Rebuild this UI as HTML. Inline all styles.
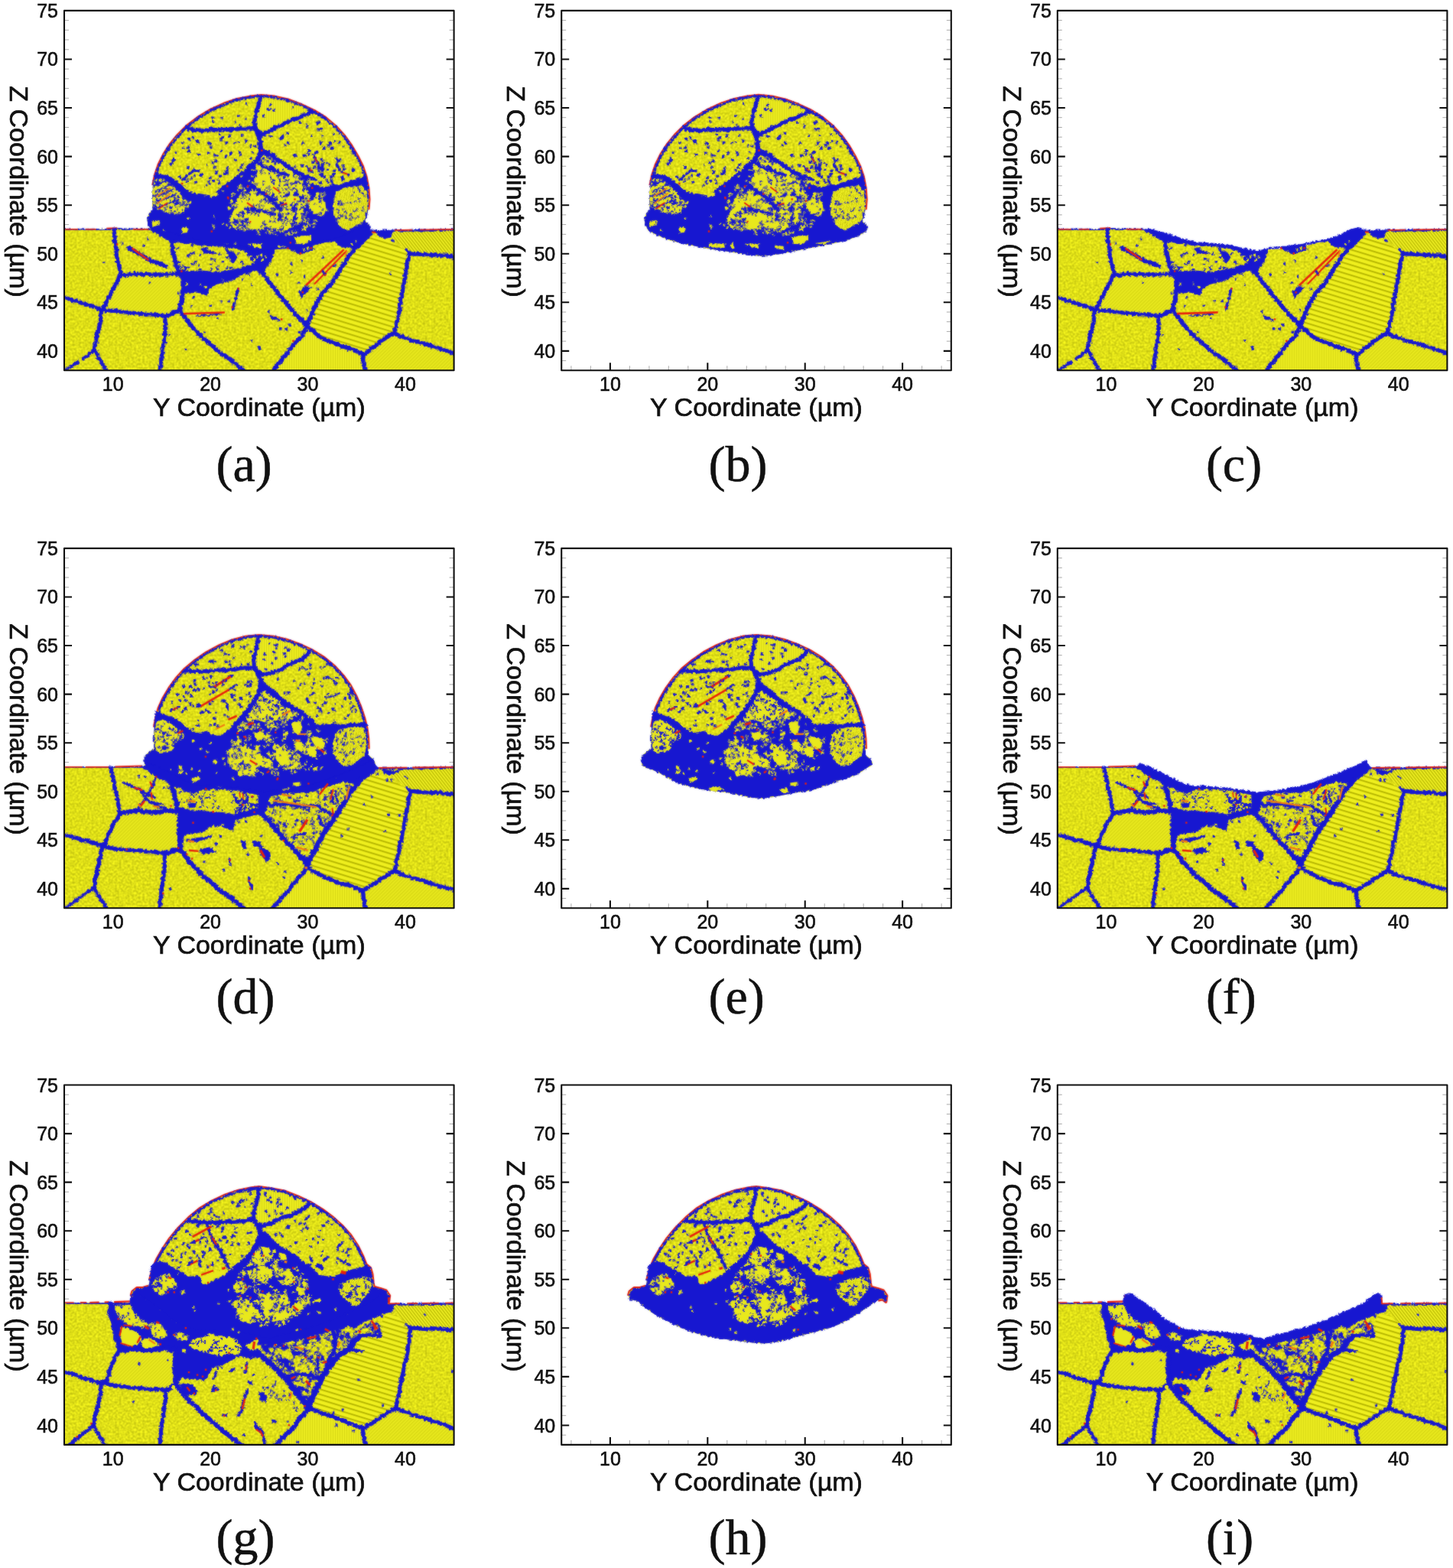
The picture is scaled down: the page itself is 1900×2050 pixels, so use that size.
<!DOCTYPE html>
<html lang="en"><head><meta charset="utf-8"><title>Figure</title>
<style>
html,body{margin:0;padding:0;background:#fff}
body{width:1900px;height:2050px;overflow:hidden}
svg{display:block}
.tk{font-family:"Liberation Sans",Arial,sans-serif;font-size:25px;fill:#111;stroke:#111;stroke-width:.6px}
.ax{font-family:"Liberation Sans",Arial,sans-serif;font-size:34px;fill:#111;stroke:#111;stroke-width:.7px}
.cap{font-family:"Liberation Serif","Times New Roman",serif;font-size:66px;fill:#111;stroke:#111;stroke-width:.5px}
.tM{stroke:#111;stroke-width:2.1;fill:none}
.tm{stroke:#aaa;stroke-width:1;fill:none}
.fr{stroke:#111;stroke-width:2.1;fill:none;stroke-linejoin:round}
</style></head><body>
<svg width="1900" height="2050" viewBox="0 0 1900 2050">
<rect width="1900" height="2050" fill="#fff"/>

<defs>
<pattern id="py" width="4" height="4" patternUnits="userSpaceOnUse"><rect width="4" height="4" fill="#e8e81c"/><path d="M0 1h2M2 3h2" stroke="#d0d010" stroke-width="1"/><path d="M2 1h2M0 3h2" stroke="#f2f228" stroke-width="1"/></pattern>
<pattern id="ps1" width="40" height="6.4" patternUnits="userSpaceOnUse" patternTransform="rotate(17)"><rect width="40" height="6.4" fill="#f0f01e"/><rect y="0" width="40" height="2" fill="#b4b400"/></pattern>
<pattern id="ps2" width="3.2" height="40" patternUnits="userSpaceOnUse" patternTransform="rotate(-38)"><rect width="3.2" height="40" fill="#f0f024"/><rect width="1.4" height="40" fill="#bcbc04"/></pattern>
<pattern id="ps3" width="3.2" height="40" patternUnits="userSpaceOnUse" patternTransform="rotate(45)"><rect width="3.2" height="40" fill="#e9e91e"/><rect width="1.2" height="40" fill="#d6d612"/></pattern>
<pattern id="ps4" width="3" height="40" patternUnits="userSpaceOnUse"><rect width="3" height="40" fill="#ecec20"/><rect width="1.1" height="40" fill="#d8d814"/></pattern>
<pattern id="ps5" width="3" height="40" patternUnits="userSpaceOnUse" patternTransform="rotate(12)"><rect width="3" height="40" fill="#eeee22"/><rect width="1.1" height="40" fill="#c8c80e"/></pattern>
<filter id="rough" x="-2%" y="-2%" width="104%" height="104%" color-interpolation-filters="sRGB"><feTurbulence type="fractalNoise" baseFrequency="0.33" numOctaves="2" seed="7" result="n"/><feDisplacementMap in="SourceGraphic" in2="n" scale="5" xChannelSelector="R" yChannelSelector="G"/></filter>
<filter id="ytex" x="0" y="0" width="100%" height="100%" color-interpolation-filters="sRGB"><feTurbulence type="fractalNoise" baseFrequency="0.36" numOctaves="1" seed="11" result="n"/><feColorMatrix in="n" type="matrix" values="0.42 0 0 0 0.665  0.42 0 0 0 0.665  0.1 0 0 0 0.04  0 0 0 0 1" result="c"/><feComposite in="c" in2="SourceGraphic" operator="in"/></filter>
<filter id="soft" filterUnits="userSpaceOnUse" x="-5" y="-5" width="519.6" height="480.4" color-interpolation-filters="sRGB"><feGaussianBlur stdDeviation="0.8" result="b"/><feComposite in="SourceGraphic" in2="b" operator="arithmetic" k1="0" k2="0.55" k3="0.45" k4="0"/></filter>
<clipPath id="cp"><rect x="0" y="0" width="509.6" height="470.4"/></clipPath>
<g id="s1">
<path fill="#e8e81c" filter="url(#ytex)" d="M-0.5 285.8L55.4 285.8L62.3 283.9L72 285.2L113.4 285.8L124.4 288.8L138.2 292.1L152 296.3L165.8 301.1L179.6 304.6L193.4 305.7L207.2 306.6L221 308L234.8 310.8L248.6 314.2L255.2 315.6L255.2 316L266.2 315.3L277.3 312L289.7 311.6L303.5 309.9L317.3 307.9L327 306.5L338 303.7L351.8 301.7L360.1 299.6L372.5 293.4L382.1 288.6L393.2 285.4L400.1 287.2L402.2 287.5L420.8 287.5L448.4 286.9L476 286.5L511.9 285.8L511.9 471.8L-0.5 471.8Z"/>
<path fill="url(#ps1)" d="M320.1 412.5L329.7 387.6L340.8 369.7L354.6 353.1L368.4 331.1L379.4 314.5L390.4 303.5L402.8 295.2L420.8 297.9L448.4 314.5L450.5 332.4L445.6 349L441.5 369.7L437.3 397.3L431.1 419.4L420.8 426.3L407 435.9L391.8 446.3L379.4 442.8L358.7 435.9L338 427.6Z"/>
<path fill="url(#ps2)" d="M420.8 288.3L510.2 286.2L510.2 320L489.8 317.9L469.1 317.3L452.5 315.2L447 311.7L429.1 297.9Z"/>
<path fill="url(#ps3)" d="M393.2 449.7L407 438.7L420.8 429L431.1 422.8L448.4 430.4L469.1 435.9L489.8 442.8L510.2 449.7L510.2 470.4L394.6 470.4Z"/>
<path fill="url(#ps4)" d="M315.9 416.6L338 430.4L358.7 438.7L379.4 445.6L390.4 450.4L389.7 459.4L391.8 470.4L275.9 470.4L289.7 451.1L300.7 437.3L310.4 427.6Z"/>
<path fill="url(#ps3)" d="M75.4 347.6L110.6 346.9L145.1 346.2L152 349L154.1 362.8L152 378L148.5 389L142.3 393.8L131.3 397L110.6 395.6L89.9 393.4L69.2 391.5L51.3 389L56.8 383.5L61.6 372.5L68.5 358.7Z"/>
<g filter="url(#rough)">
<path fill="none" stroke="#1717d0" stroke-width="2.6" stroke-linecap="round" stroke-linejoin="round" d="M0.2 286.2L3.3 286L6.3 286.1L9.4 286.5L12.5 286.2L15.5 286.3L18.6 286L21.7 286.2L24.7 285.9L27.8 286.4L30.9 286L33.9 286.4L37 286.1L40.1 286L43.1 286.2L46.2 286.5L49.3 286.3L52.3 286.4L55.3 286L58.8 285.1L62.3 284.3L65.5 284.9L68.7 285L72 285.2L75.1 285.5L78.3 285.9L81.5 285.7L84.7 285.9L87.9 286.1L91.1 285.8L94.2 285.7L97.4 286.2L100.6 285.9L103.8 285.9L107 286.3L110.2 285.9L113.4 286.2"/>
</g>
<path fill="none" stroke="#e8200c" stroke-width="1.6" stroke-linecap="butt" stroke-linejoin="round" d="M0.2 285.8L18.1 285.8M27.8 285.8L41.6 285.8"/>
<path fill="none" stroke="#e8200c" stroke-width="1.8" stroke-linecap="butt" stroke-linejoin="round" d="M55.4 284.7L69.2 284.1"/>
<path fill="none" stroke="#e8200c" stroke-width="1.6" stroke-linecap="butt" stroke-linejoin="round" d="M89.9 285.8L110.6 285.8"/>
<g filter="url(#rough)">
<path fill="#1717d0" d="M110.6 285.2L124.4 286.2L138.2 289.7L152 293.8L165.8 298.6L179.6 302.1L193.4 303.2L207.2 304.1L221 305.5L234.8 308.3L248.6 311.7L256.9 313.1L256.9 320L234.8 313.8L221 310.6L207.2 308.7L193.4 307.9L179.6 307.6L165.8 305.1L152 303.7L143.7 302.9L138.2 301L131.3 299.3L124.4 293.8L114.7 288.6Z"/>
<path fill="none" stroke="#1717d0" stroke-width="5.2" stroke-linecap="round" stroke-linejoin="round" d="M65.1 286.2L65 289.8L65.8 293.4L66.2 297L65.3 300.8L66.8 304.1L66.9 307.6L67.9 311L68.3 314.4L68.1 317.9L68.6 321.2L69.7 324.4L69.6 327.8L70.4 331.1L72 334.4L72.4 337.9L73.4 341.3L74 344.9M74 345.5L77.2 345.3L80.4 345.7L83.5 345.2L86.7 344.8L89.9 344.5L93.3 344.6L96.8 344.4L100.2 344.2L103.7 345.1L107.1 344.5L110.6 344.5L114 345.3L117.5 344.9L120.9 345.1L124.4 345.1L127.8 345.4L131.3 344.6L134.8 345.3L138.2 344.7L141.6 343.8L145 344.3L149.2 345.5L153.4 346.2M74 345.5L71.9 347.8L70.8 350.7L69.9 353.6L68.4 356.3L66.3 358.6L65.5 361.6L63.7 364.2L61.8 366.7L61 369.7L60.1 372.7L58.4 375.2L56.7 377.8L55.9 380.7L54.4 383.3L52.7 386.1L50.6 388.6L48.5 391.1M48.5 391.1L45.1 389.6L41.7 388.1L38.4 386.4L34.6 385.7L31.2 384.5L27.7 383.9L24.4 382.3L20.8 381.6L17.8 380.4L14.7 379.3L11.4 378.8L8.3 377.9L5.4 376.8L2.6 375.2L-0.5 374.9M48.5 391.1L48.6 394.5L47.8 397.8L47.3 401.1L47.7 404.5L47.3 407.8L46.3 411.1L45.7 414.6L44.7 418L43.3 421.3L42.9 424.9L41.9 427.9L42.1 431.1L41.4 434.2L40.5 437.3L39.4 440.3L39.5 443.5"/>
<path fill="none" stroke="#1717d0" stroke-width="4.1" stroke-linecap="round" stroke-linejoin="round" d="M39.5 443.5L36.6 446.1L33.2 448.2L30.7 451.4L27.3 452.8L24.3 455M18.1 458.7L15.1 461.2L11.6 463.2L8.8 466.1L5.7 467.3L2.8 468.7L0.2 470.7"/>
<path fill="none" stroke="#1717d0" stroke-width="4.6" stroke-linecap="round" stroke-linejoin="round" d="M39.5 443.5L41.7 446.1L42.9 449.2L43.7 452.6L45.5 455.4L47.7 457.6L48.8 460.5L50.2 463.2L51.8 465.8L53.3 468.4L55.4 470.7"/>
<path fill="none" stroke="#1717d0" stroke-width="5.2" stroke-linecap="round" stroke-linejoin="round" d="M48.5 391.1L52 391.1L55.4 392.2L58.8 392.3L62.3 392.6L65.8 392.1L69.3 392.6L72.6 393.8L76.1 393.5L79.6 393.8L83 394.4L86.4 395.4L89.9 395.2L93.4 395.4L96.8 396L100.2 396.5L103.7 396.6L107.1 397.4L110.6 396.9L113.8 396.9L116.9 397.3L120 398.3L123.2 398.5L126.4 398.4L129.5 398.9L132.7 398.9M132.7 398.9L132.4 402.1L131.8 405.3L132.6 408.5L131.9 411.6L132.7 414.8L132.6 418L131.4 421.4L131.7 424.9L131.4 428.4L131.3 431.9L129.7 435.2L129.5 438.6L129.1 442.1L128.4 445.5L128 449L127.3 452.4L127 455.9L126.7 459.4L126.7 463.2L124.9 466.8L125.1 470.7"/>
<path fill="none" stroke="#1717d0" stroke-width="5.5" stroke-linecap="round" stroke-linejoin="round" d="M132.7 398.9L136.4 397.9L140 396.5L143.3 394.7L147.5 393.3L150.6 390.4"/>
<path fill="none" stroke="#1717d0" stroke-width="6.0" stroke-linecap="round" stroke-linejoin="round" d="M150.6 390.4L151.6 387.3L151.9 384.1L152.9 381L154.5 378L154 374.9L154.6 371.9L154.6 368.8L155.7 365.8L156.2 362.8L156.3 359.7L155.5 356.7L155.2 353.7L155.7 350.6L154.7 347.6"/>
<path fill="none" stroke="#1717d0" stroke-width="5.2" stroke-linecap="round" stroke-linejoin="round" d="M150.6 390.4L152.9 392.6L154 395.6L155.7 398.2L157.7 400.6L160 402.8L161 406L163.4 407.9L165.5 410.2L167 412.9L168.8 415.4L171.3 417.3L173.1 419.8L175.1 422.1L177.7 423.8L179.7 426.2L182 428.2L184.1 430.3L186.8 431.8L189.2 433.8L190.8 436.6L193.8 437.8L195.7 440.2L197.8 442.5L200.3 444.2L202.7 446.4L205.1 448.5L208.1 449.8L211 451.3L213.3 453.6L216.1 455.2L218.3 457.6L220.9 459.5L223.7 461.7L226.7 463.7L228.9 466.7L232.1 468.3L234.8 470.7"/>
<path fill="none" stroke="#1717d0" stroke-width="5.5" stroke-linecap="round" stroke-linejoin="round" d="M153.4 346.2L151.8 343.3L149.6 340.9L148.6 337.7L147.1 335.1L145.3 332L145 328.6L144.9 325.1L144.1 321.9L142.4 318.7L142.1 315.4L141.4 312.1L141.3 308.7L141.3 305.3L140.3 302.1"/>
<path fill="#1717d0" d="M149.2 338L165.8 341L179.6 339.6L200.3 341.7L221 338.2L241.7 332.7L256.9 325.5L256.9 338L234.8 344.9L215.5 354.5L200.3 357.5L190.6 363.1L186.5 372.7L179.6 370L172.7 368.6L158.9 370L154.7 358.7L152 347.6Z"/>
<path fill="#e8e81c" d="M158.9 355.9h2.8v2.8h-2.8zM176.8 355.9h2.8v2.8h-2.8zM183.7 360h2.8v2.8h-2.8zM205.8 350.4h2.8v2.8h-2.8z"/>
<path fill="none" stroke="#1717d0" stroke-width="5.5" stroke-linecap="round" stroke-linejoin="round" d="M84.4 310.1L87.5 311.9L90.6 313.7L93.8 315.3L96.7 317.4L99.7 318.6L102.3 320.6L105.2 322.1L107.7 324.1L110.7 325.3L113.9 327.3L117.5 328.2L121 329.6L124.3 331.3L128.6 332.3L132.7 333.8"/>
</g>
<path fill="none" stroke="#e8200c" stroke-width="2.4" stroke-linecap="butt" stroke-linejoin="round" d="M88.5 310.6L110.6 326.2"/>
<g filter="url(#rough)">
<path fill="none" stroke="#1717d0" stroke-width="2.3" stroke-linecap="round" stroke-linejoin="round" d="M172.7 399.4L175.9 399L179 398.8L182.2 398.5L185.4 398.1L188.6 398.4L191.7 397.8L194.9 397.5L198.1 397.1L201.3 397.2L204.4 396.9"/>
</g>
<path fill="none" stroke="#e8200c" stroke-width="2.6" stroke-linecap="butt" stroke-linejoin="round" d="M156.1 396.2L209.9 394.5"/>
<g filter="url(#rough)">
<path fill="none" stroke="#1717d0" stroke-width="3.3" stroke-linecap="round" stroke-linejoin="round" d="M227.9 362.8L226.8 365.8L226 368.8L225.4 371.9L224.9 375L224 378.1L222.8 381.5L221.6 384.9L220.5 388.3L219.6 391.8"/>
</g>
<path fill="#e8200c" d="M226.7 362.3h2.4v2.4h-2.4zM218.4 386.4h2.4v2.4h-2.4zM192.2 316.1h2.4v2.4h-2.4zM152.2 339.5h2.4v2.4h-2.4zM68 304.3h2.4v2.4h-2.4z"/>
<g filter="url(#rough)">
<path fill="#1717d0" d="M211.8 316.3h6.9v2.3h-6.9zM237.1 316.3h4.6v2.3h-4.6zM177.3 318.6h2.3v2.3h-2.3zM218.7 318.6h2.3v2.3h-2.3zM239.4 318.6h2.3v2.3h-2.3zM248.6 318.6h6.9v2.3h-6.9zM211.8 320.9h9.2v2.3h-9.2zM223.3 320.9h2.3v2.3h-2.3zM246.3 320.9h9.2v2.3h-9.2zM191.1 323.2h4.6v2.3h-4.6zM244 323.2h11.5v2.3h-11.5zM195.7 325.5h2.3v2.3h-2.3zM246.3 325.5h2.3v2.3h-2.3zM253.2 325.5h2.3v2.3h-2.3zM147.4 327.8h4.6v2.3h-4.6zM170.4 327.8h2.3v2.3h-2.3zM232.5 327.8h2.3v2.3h-2.3zM165.8 330.1h4.6v2.3h-4.6zM191.1 330.1h2.3v2.3h-2.3zM232.5 330.1h2.3v2.3h-2.3zM149.7 332.4h2.3v2.3h-2.3zM154.3 332.4h2.3v2.3h-2.3zM175 332.4h2.3v2.3h-2.3zM200.3 332.4h2.3v2.3h-2.3zM152 334.7h2.3v2.3h-2.3zM156.6 334.7h6.9v2.3h-6.9zM198 334.7h2.3v2.3h-2.3zM211.8 334.7h2.3v2.3h-2.3zM216.4 334.7h4.6v2.3h-4.6zM156.6 337h2.3v2.3h-2.3zM175 337h4.6v2.3h-4.6zM191.1 337h2.3v2.3h-2.3zM198 337h4.6v2.3h-4.6zM178.2 309.7L183.7 309L193.4 314.5L201.7 317.3L193.4 318.6L182.3 317.3Z"/>
<path fill="none" stroke="#1717d0" stroke-width="2.9" stroke-linecap="round" stroke-linejoin="round" d="M161.6 320.3L165.4 318.3L169.2 316.6"/>
<path fill="none" stroke="#1717d0" stroke-width="2.8" stroke-linecap="round" stroke-linejoin="round" d="M211.3 306.9L212.6 310.6L213.4 314.5"/>
<path fill="#1717d0" d="M212.7 314.5L221 314.5L226.5 322.8L221 331.1L216.8 325.5ZM234.8 314.5L243.1 313.1L255.2 318.6L255.2 331.1L245.8 328.3L240.3 321.4Z"/>
<path fill="#e8e81c" d="M236 315.8h3v3h-3zM241.6 319.9h3v3h-3zM247.1 324h3v3h-3zM233.3 321.3h3v3h-3zM251.2 319.9h3v3h-3z"/>
<path fill="#1717d0" d="M171.2 326.9h2.9v2.9h-2.9zM146.4 308.9h2.9v2.9h-2.9zM201.6 317.2h2.9v2.9h-2.9zM226.4 317.2h2.9v2.9h-2.9zM230.6 326.9h2.9v2.9h-2.9zM237.5 332.4h2.9v2.9h-2.9zM205.7 326.9h2.9v2.9h-2.9zM215.4 307.5h2.9v2.9h-2.9zM165.7 304.8h2.9v2.9h-2.9zM50.6 327.6h2.7v2.7h-2.7zM74.7 302.8h2.7v2.7h-2.7zM102.3 306.2h2.7v2.7h-2.7zM107.9 296.6h2.7v2.7h-2.7zM110.6 354.5h2.7v2.7h-2.7zM147.9 368.3h2.7v2.7h-2.7zM205.8 350.4h2.7v2.7h-2.7zM232 349.7h2.7v2.7h-2.7zM243.1 357.3h2.7v2.7h-2.7zM240.3 343.5h2.7v2.7h-2.7zM167.2 373.9h2.7v2.7h-2.7zM164.4 384.9h2.7v2.7h-2.7zM190.6 384.2h2.7v2.7h-2.7zM204.4 378.7h2.7v2.7h-2.7zM214.1 378.7h2.7v2.7h-2.7zM198.9 401.4h2.7v2.7h-2.7zM182.4 418.7h2.7v2.7h-2.7zM243.1 430.4h2.7v2.7h-2.7zM157.5 442.2h2.7v2.7h-2.7zM136.8 422.1h2.7v2.7h-2.7zM251.3 437.3L256.9 438.7L256.9 444.2ZM253.5 313.8L266.2 312.8L277.3 309.7L273.8 318.6L270.4 328.3L265.5 335.2L260.7 343.5L253.5 344.9Z"/>
<path fill="#e8e81c" d="M256.5 318.5h3v3h-3zM262 320.6h3v3h-3zM257.8 324h3v3h-3z"/>
<path fill="none" stroke="#1717d0" stroke-width="2.9" stroke-linecap="round" stroke-linejoin="round" d="M277.3 310.4L280.4 310.5L283.5 310.1L286.6 310.1L289.7 309.9L293.1 309.3L296.6 309.4L300.1 309.1L303.5 308.7L306.9 307.7L310.4 307.5L313.8 306.7L317.3 306.9L320.6 306.4L323.7 305.5L326.9 304.7L330.6 304.1L334.3 303.2L338 302.5L341.4 301.5L344.9 301.2L348.4 301.1L351.7 300.1L355.9 299.2L360.1 298.2"/>
<path fill="#1717d0" d="M289.7 309.8L324.2 306.2L327 312.4L317.3 316.2L307.6 319.5L300.7 314.8Z"/>
<path fill="#e8e81c" d="M311.6 310.8h3.2v3.2h-3.2zM317.1 309.4h3.2v3.2h-3.2z"/>
</g>
<path fill="#e8200c" d="M307.8 316.1h2.4v2.4h-2.4zM291.3 309.4h2.4v2.4h-2.4zM321.6 309.2h2.4v2.4h-2.4z"/>
<g filter="url(#rough)">
<path fill="#1717d0" d="M351.8 299.3L372.5 291L382.1 286.2L393.2 283L400.1 284.8L402.8 293.8L394.6 300.7L387.7 309L379.4 313.1L372.5 310.4L362.8 309.3L357.3 305.7Z"/>
<path fill="#e8e81c" d="M380.7 300h2.8v2.8h-2.8zM375.2 304.1h2.8v2.8h-2.8z"/>
<path fill="none" stroke="#1717d0" stroke-width="2.6" stroke-linecap="round" stroke-linejoin="round" d="M402.2 288L405.3 287.9L408.4 288.2L411.5 288.3L414.6 288L417.7 287.8L420.8 287.8L423.8 287.7L426.9 287.8L430 287.7L433 287.5L436.1 287.4L439.2 287.5L442.2 287.5L445.3 287.7L448.4 287.2L451.4 287.2L454.5 287.1L457.6 287.4L460.6 287.3L463.7 287.1L466.8 286.9L469.8 287.1L472.9 287L476 287.3L479.1 286.9L482.2 287.1L485.3 287.1L488.4 286.9L491.5 286.7L494.6 286.5L497.8 286.4L500.9 286.7L504 286.7L507.1 286.2L510.2 286.3"/>
</g>
<path fill="none" stroke="#e8200c" stroke-width="2" stroke-linecap="butt" stroke-linejoin="round" d="M402.2 289.4L408.4 289.9"/>
<path fill="none" stroke="#e8200c" stroke-width="1.6" stroke-linecap="butt" stroke-linejoin="round" d="M431.8 287L455.3 286.6M464.9 286.5L510.2 285.8"/>
<g filter="url(#rough)">
<path fill="#1717d0" d="M407 288.3L429.1 289L427.7 296.6L418 298.2L409.7 293.8ZM427.5 299.2h3.1v3.1h-3.1z"/>
<path fill="none" stroke="#1717d0" stroke-width="5.5" stroke-linecap="round" stroke-linejoin="round" d="M259.3 342.1L260.9 345.1L262.9 347.9L264.8 350.6L266.5 353.5L268.8 356.1L271.4 358.5L273.4 361.4L275.1 364.6L277.9 366.9L279.7 370L281.9 372.4L284.5 374.6L286.1 377.6L288.4 380L290.8 382.3L292.3 385.3L294.8 387.6L296.3 390.7L299.2 392.4L301.1 395.1L303 397.7L305.4 400L307.8 402.2L310.6 404L312.8 406.9L314.8 409.9L317.3 412.5M317.3 412.5L318.2 409.3L319.6 406.2L320.9 403.1L322.4 400.2L323.7 397.1L325.1 394.1L326 390.8L327.2 387.8L329.1 385.4L329.6 382.2L331.6 379.9L332.7 377L335.2 375.1L335.9 371.9L338.1 369.8L339.6 367L342.4 365.3L343.5 362.2L346.2 360.5L348.1 358.1L350.1 355.8L351.8 353.2L353.5 350.4L355.6 347.8L356.8 344.7L358.5 342L360.5 339.4L361.8 336.4L364 333.9L365.4 330.9L367.4 328.3L369.3 325.5L370.7 322.5L372.8 319.9L375 317.4L377 314.7L379.4 311.6L381.5 308.3L383.5 304.8"/>
<path fill="none" stroke="#1717d0" stroke-width="5.2" stroke-linecap="round" stroke-linejoin="round" d="M317.3 412.5L315.9 415.2L315 418.2L312.7 420.5L312 423.6L310.7 426.5L307.7 428.4L305.3 430.8L303 433.4L300.7 435.9L298.4 438.6L296 441.2L293.8 444L292.3 447.3L289.8 449.8L287.3 452.1L285.5 454.9L283.9 457.9L281 459.9L278.8 462.4L277.5 465.6L275.1 468L273.1 470.7M317.3 412.5L320.2 414.2L322.4 416.7L325.5 418.2L327.4 421L330 423.1L332.5 425.3L335.2 427.2L338.1 428.7L341.1 429.9L343.9 431.3L346.8 432.8L350 433.3L352.9 434.8L355.9 435.7L358.9 436.7L361.5 438.8L364.6 439.4L367.7 439.9L370.4 441.7L373.7 441.6L376.6 442.7L379.6 443.7L382.3 445.8L385.7 446.5L388.5 448.4L391.8 449"/>
<path fill="none" stroke="#1717d0" stroke-width="5.5" stroke-linecap="round" stroke-linejoin="round" d="M391.8 449L391 452.4L390.7 455.9L390.9 459.4L391.6 463.3L393.5 466.8L393.9 470.7"/>
<path fill="none" stroke="#1717d0" stroke-width="5.2" stroke-linecap="round" stroke-linejoin="round" d="M391.8 449L394.7 447.6L397.2 445.6L399.7 443.6L401.6 440.8L404.8 439.7L407.3 437.7L410.1 435.8L412.5 433.5L415.1 431.3L418 429.6L420.7 427.6L423 425.5L425.9 424.4L428.7 423.2L431.1 421.4M431.1 421.4L432 418.4L432.9 415.5L433.8 412.5L434.8 409.5L434.8 406.3L436.1 403.4L436.5 400.3L437.3 397.3L437.3 394.2L438.8 391.2L439 388.1L438.5 384.9L439.8 382L439.5 378.8L440.2 375.8L441.7 372.9L441.1 369.6L442.5 366.8L443 363.8L442.7 360.7L444 357.9L445 355L444.5 351.8L446.2 349.1L445.9 345.6L446.3 342.3L446.8 339L448.2 335.8L447.9 332.3L448.4 329.2L449.9 326.4L450.4 323.3L450.6 320.2L451.8 317.3M451.8 317.3L455.2 318L458.7 318.3L462.2 317.9L465.6 318.7L469.1 319.1L472.5 318.3L476 318.7L479.4 319.6L482.9 319.4L486.3 319.9L489.8 319.5L492.8 320.4L496.1 320L499.3 320.2L502.4 320.9L505.6 320.9L508.6 322.6L511.9 322.4"/>
<path fill="none" stroke="#1717d0" stroke-width="3.7" stroke-linecap="round" stroke-linejoin="round" d="M451.8 317.3L449.4 315.3L447.7 312.7"/>
<path fill="none" stroke="#1717d0" stroke-width="5.2" stroke-linecap="round" stroke-linejoin="round" d="M431.1 421.4L434.1 422.6L436.7 424.3L439.5 425.8L442.9 425.9L445.6 427.7L448.6 428.4L451.2 430.3L454.4 430.3L457.2 431.7L460 432.8L463.3 432.6L466 434.4L468.9 435L471.9 436L475 436.6L477.9 437.7L481.1 438.1L483.9 439.3L486.7 440.9L490 440.9L493.1 441.9L495.9 444.1L499.2 444.6L502.5 445.1L505.5 446.7L508.8 447.2L511.9 448.6"/>
<path fill="#1717d0" d="M313.2 404.2L320.1 405.6L320.7 413.8L315.9 416.6L311.8 411.1Z"/>
</g>
<path fill="none" stroke="#e8200c" stroke-width="2.6" stroke-linecap="butt" stroke-linejoin="round" d="M365.6 312.4L315.9 359.3"/>
<path fill="none" stroke="#e8200c" stroke-width="2.2" stroke-linecap="butt" stroke-linejoin="round" d="M369.7 313.4L327 357.5"/>
<path fill="none" stroke="#f07a10" stroke-width="1.6" stroke-linecap="butt" stroke-linejoin="round" d="M369 313.1L367.7 322.8"/>
<g filter="url(#rough)">
<path fill="#1717d0" d="M306.3 368.3L314.5 360L323.5 361.4L315.9 369.7L310.4 376.3Z"/>
<path fill="none" stroke="#1717d0" stroke-width="3.2" stroke-linecap="round" stroke-linejoin="round" d="M338 340.7L341.4 344.9"/>
</g>
<path fill="#e8200c" d="M340.2 344.3h2.4v2.4h-2.4zM298.2 430.6h2.4v2.4h-2.4zM283 402.3h2.4v2.4h-2.4zM310.6 367.1h2.4v2.4h-2.4z"/>
<g filter="url(#rough)">
<path fill="#1717d0" d="M308.9 326.1h3.1v3.1h-3.1zM295.1 329.5h3.1v3.1h-3.1zM295.1 340.6h3.1v3.1h-3.1zM277.1 343.3h3.1v3.1h-3.1zM313 346.1h3.1v3.1h-3.1zM336.5 321.2h3.1v3.1h-3.1zM351.6 332.3h3.1v3.1h-3.1zM305.4 354.4h3.1v3.1h-3.1zM329.6 362.6h3.1v3.1h-3.1zM315.8 390.2h3.1v3.1h-3.1zM265.4 392.3h3.1v3.1h-3.1zM424.8 342.6h3.1v3.1h-3.1zM268.3 398.7L274.5 399.4L282.8 404.2L281.4 406.3L271.8 403.5ZM288.5 414.7h3.7v3.7h-3.7zM293.3 409.2h3.7v3.7h-3.7zM280.9 414h3.7v3.7h-3.7zM305.8 418.9h3.7v3.7h-3.7zM253.3 439.6h3.7v3.7h-3.7z"/>
</g>
</g>
<g id="p1">
<path fill="none" stroke="#e8200c" stroke-width="3.8" stroke-linecap="butt" stroke-linejoin="round" d="M116.1 228.4L119 214.7L123.5 201.1L130.3 187.5L138.3 175L148.5 162.5L159.9 151.1L174.7 139.7L191.7 129.5L208.8 121.6L225.8 115.9L242.8 112.5L257.6 110.8L275.3 112.5L292.4 116.4L309.4 122.7L326.5 130.6L341.3 139.7L354.9 151.1L366.3 163.6L375.3 176.1L383.3 189.7L390.1 203.4L394.7 217L397.5 231.8L398.6 246.6L397.5 260.2"/>
<path fill="#e8e81c" filter="url(#ytex)" d="M257.6 110.8L275.3 112.5L292.4 116.4L309.4 122.7L326.5 130.6L341.3 139.7L354.9 151.1L366.3 163.6L375.3 176.1L383.3 189.7L390.1 203.4L394.7 217L397.5 231.8L398.6 246.6L397.5 260.2L395.8 269.3L393.5 275L399.2 280.6L400.3 285.2L396.9 289.7L389 294.3L377.6 298.8L366.3 302.2L354.9 304.5L332.2 309.1L309.4 313.6L286.7 318.1L264 321L252.6 320.4L237.2 318.1L214.4 314.7L191.7 311.3L174.7 307.9L157.6 304.5L140.6 300L123.5 293.1L113.3 287.5L109.3 279.5L108.2 271.6L111 264.7L115.6 260.2L115 254.5L115 243.1L116.1 228.4L119 214.7L123.5 201.1L130.3 187.5L138.3 175L148.5 162.5L159.9 151.1L174.7 139.7L191.7 129.5L208.8 121.6L225.8 115.9L242.8 112.5Z"/>
<path fill="url(#ps5)" d="M354.9 237.5L364 231.8L377.6 229.5L389 228.4L394.7 235.2L396.9 248.8L396.4 260.2L393.5 271.6L389 278.4L379.9 281.8L370.8 287.5L360.6 282.9L354.9 271.6L351.5 260.2L352 248.8Z"/>
<path fill="url(#ps4)" d="M258.8 115.9L294 119.3L325.8 132.9L294 145.4L265.6 156.8L251.9 154.5L253.1 135.2Z"/>
<g filter="url(#rough)">
<path fill="none" stroke="#1717d0" stroke-width="3.0" stroke-linecap="round" stroke-linejoin="round" d="M116.7 227.2L117.5 224.3L118.3 221.3L118.9 218.3L120.1 215.5L121.1 212L122.2 208.6L123.4 205.2L124.5 201.8L126 199.2L127.2 196.3L128.3 193.5L130 190.9L131.2 188.1L133.3 185.1L135 181.8L137.2 178.8L139.3 175.8L141.4 173.3L143.5 170.8L145.5 168.3L147.4 165.7L149.6 163.4L151.9 161L154.2 158.8L156.2 156.3L158.4 153.9L160.7 151.7L163.3 150L165.7 148L168.2 146.1L170.6 144.2L173.2 142.5L175.5 140.2L178.4 138.7L181.3 137.2L184.1 135.4L186.8 133.4L189.7 131.8L192.7 130.4L195.5 128.9L198.2 127.4L201.2 126.3L204.1 125.1L206.9 123.8L209.7 122.4L213.1 121.3L216.5 120L219.9 118.8L223.3 117.5L226.7 116.4L230.2 116.1L233.5 115L236.9 114.5L240.4 114.1L243.8 113.2L247 113L250.2 112.3L253.4 111.6L256.7 111.2L260.2 111.9L263.8 112L267.3 112.5L270.9 112.8L274.4 113.3L277.8 113.9L281.2 114.9L284.7 115.4L288.1 116.3L291.5 117.2L294.3 118.3L297.1 119.4L300.1 120L302.8 121.4L305.6 122.6L308.6 123.2L311.4 124.7L314.3 125.9L317.1 127.3L319.9 128.6L322.7 130.1L325.5 131.4L328.6 133L331.5 135L334.5 136.7L337.5 138.4L340.3 140.4L342.9 142.9L345.6 145.2L348.4 147.3L351.3 149.5L354.2 151.6L356.3 154.3L358.4 156.9L360.9 159.2L363.1 161.7L365.5 164.2L367.1 166.8L369.2 169.2L370.6 171.9L372.6 174.3L374.3 176.8L375.8 179.6L377.7 182.2L379.2 185L380.9 187.7L382.6 190.3L383.9 193.1L385.3 195.8L386.3 198.7L387.6 201.4L388.9 204.1L390.3 207.5L391.3 210.9L392.5 214.3L393.8 217.7L394.1 221.3L394.9 224.8L395.9 228.2L396.3 231.8"/>
<path fill="#1717d0" d="M117.8 213.6L134.9 214.7L146.3 221.6L155.3 229.5L163.3 236.3L174.7 239.7L189.4 242L197.4 238.6L203.1 231.8L212.2 226.1L220.1 220.4L225.8 214.7L234.9 209.1L240.6 203.4L247.4 198.8L253.1 192L258.8 182.9L265.6 185.2L273.5 189.7L282.6 197.7L291.7 203.4L300.8 209.1L310.8 214.7L316.3 220.4L326.5 227.2L337.8 230.6L349.2 229.5L360.6 229.5L371.9 225L383.3 221.6L391.3 219.3L395.1 219.3L397.5 231.8L398.6 246.6L397.5 260.2L395.8 269.3L393.5 275L399.2 280.6L400.3 285.2L396.9 289.7L389 294.3L377.6 298.8L366.3 302.2L354.9 304.5L332.2 309.1L309.4 313.6L286.7 318.1L264 321L252.6 320.4L237.2 318.1L214.4 314.7L191.7 311.3L174.7 307.9L157.6 304.5L140.6 300L123.5 293.1L113.3 287.5L109.3 279.5L108.2 271.6L111 264.7L115.6 260.2L115 254.5L115 243.1L116.1 228.4Z"/>
<path fill="#e8e81c" d="M117.8 220.4L129.2 219.3L138.3 226.1L148.5 235.2L154.2 243.1L162.2 250L163.3 256.8L155.3 263.6L146.3 267L138.3 264.7L130.3 263.6L123.5 260.2L116.7 256.8L115.6 237.5ZM249.2 198.8L259.4 188.6L269.7 192L281 198.8L292.4 206.8L303.8 214.7L311.7 223.8L318.5 237.5L316.3 248.8L314 262.5L309.4 273.8L298.1 282.9L284.4 289.7L269.7 287.5L252.6 285.2L235.6 287.5L221.9 285.2L215.1 275L221.9 260.2L225.3 247.7L233.3 235.2L241.3 228.4L250.3 220.4L252.6 209.1ZM317.4 245.4L326.5 248.8L341.3 250L342.4 260.2L337.8 269.3L326.5 265.9L320.8 257.9ZM354.9 237.5L364 231.8L377.6 229.5L389 228.4L394.7 235.2L396.9 248.8L396.4 260.2L393.5 271.6L389 278.4L379.9 281.8L370.8 287.5L360.6 282.9L354.9 271.6L351.5 260.2L352 248.8ZM300.3 296.6L309.4 294.3L323.1 294.3L321.9 301.1L311.7 305.6L303.8 304.5ZM245.8 304.5L259.4 304.5L257.2 310.2L246.9 309.1ZM278.8 306.8L290.1 307.9L291.3 312.5L281 311.3ZM328.8 304.5L352.6 301.1L343.5 305.1ZM114.4 276.1L123.5 273.8L124.7 279.5L115.6 282.9ZM153.1 284.1L161 282.9L162.2 289.7L154.2 290.9ZM192.8 278.4L197.4 282.9L195.1 286.3ZM192.8 304.5L214.4 304.5L213.3 310.2L192.8 309.1ZM221.3 303.4L224.7 303.4L225.2 311.3L221.8 311.3ZM190.6 240.9L199.7 237.5L200.8 242L191.7 244.3ZM206.5 235.2L209.9 234.1L208.8 238.6Z"/>
<path fill="url(#ps5)" d="M355.5 238L364 232.3L377.6 230.1L389 228.9L394.1 235.2L396.4 248.8L395.8 260.2L393 271.6L389 277.8L379.9 281.2L370.8 286.9L361.1 282.9L355.5 271.6L352 260.2L352.6 248.8Z"/>
<path fill="#1717d0" d="M265.1 190.6h2v2h-2zM255.1 192.6h2v2h-2zM259.1 192.6h2v2h-2zM267.1 192.6h4v2h-4zM257.1 194.6h2v2h-2zM261.1 194.6h6v2h-6zM271.1 194.6h4v2h-4zM251.1 196.6h2v2h-2zM255.1 196.6h6v2h-6zM263.1 196.6h4v2h-4zM271.1 196.6h8v2h-8zM257.1 198.6h2v2h-2zM275.1 198.6h2v2h-2zM279.1 198.6h2v2h-2zM275.1 200.6h2v2h-2zM259.1 204.6h2v2h-2zM257.1 206.6h2v2h-2zM279.1 206.6h2v2h-2zM285.1 206.6h2v2h-2zM255.1 208.6h6v2h-6zM285.1 208.6h4v2h-4zM255.1 210.6h4v2h-4zM261.1 210.6h2v2h-2zM287.1 210.6h2v2h-2zM291.1 210.6h2v2h-2zM257.1 212.6h2v2h-2zM267.1 212.6h2v2h-2zM283.1 212.6h2v2h-2zM287.1 212.6h4v2h-4zM299.1 212.6h2v2h-2zM277.1 214.6h6v2h-6zM299.1 214.6h2v2h-2zM269.1 216.6h2v2h-2zM279.1 216.6h2v2h-2zM287.1 216.6h2v2h-2zM299.1 216.6h6v2h-6zM269.1 218.6h2v2h-2zM279.1 218.6h4v2h-4zM287.1 218.6h2v2h-2zM301.1 218.6h2v2h-2zM271.1 220.6h4v2h-4zM281.1 220.6h2v2h-2zM289.1 220.6h6v2h-6zM307.1 220.6h2v2h-2zM247.1 222.6h2v2h-2zM259.1 222.6h4v2h-4zM271.1 222.6h2v2h-2zM281.1 222.6h2v2h-2zM285.1 222.6h4v2h-4zM291.1 222.6h2v2h-2zM301.1 222.6h6v2h-6zM251.1 224.6h4v2h-4zM273.1 224.6h2v2h-2zM297.1 224.6h12v2h-12zM311.1 224.6h2v2h-2zM249.1 226.6h2v2h-2zM259.1 226.6h2v2h-2zM273.1 226.6h2v2h-2zM281.1 226.6h2v2h-2zM287.1 226.6h6v2h-6zM295.1 226.6h6v2h-6zM311.1 226.6h2v2h-2zM241.1 228.6h4v2h-4zM247.1 228.6h4v2h-4zM265.1 228.6h4v2h-4zM281.1 228.6h2v2h-2zM285.1 228.6h2v2h-2zM295.1 228.6h2v2h-2zM301.1 228.6h2v2h-2zM311.1 228.6h4v2h-4zM237.1 230.6h18v2h-18zM263.1 230.6h8v2h-8zM279.1 230.6h2v2h-2zM283.1 230.6h2v2h-2zM293.1 230.6h2v2h-2zM297.1 230.6h4v2h-4zM305.1 230.6h2v2h-2zM311.1 230.6h4v2h-4zM235.1 232.6h22v2h-22zM267.1 232.6h4v2h-4zM285.1 232.6h2v2h-2zM289.1 232.6h4v2h-4zM295.1 232.6h14v2h-14zM311.1 232.6h4v2h-4zM237.1 234.6h8v2h-8zM247.1 234.6h10v2h-10zM261.1 234.6h2v2h-2zM265.1 234.6h4v2h-4zM279.1 234.6h2v2h-2zM285.1 234.6h2v2h-2zM289.1 234.6h4v2h-4zM303.1 234.6h4v2h-4zM311.1 234.6h2v2h-2zM231.1 236.6h12v2h-12zM249.1 236.6h8v2h-8zM263.1 236.6h2v2h-2zM271.1 236.6h2v2h-2zM281.1 236.6h2v2h-2zM287.1 236.6h2v2h-2zM293.1 236.6h2v2h-2zM301.1 236.6h4v2h-4zM231.1 238.6h8v2h-8zM241.1 238.6h2v2h-2zM247.1 238.6h2v2h-2zM251.1 238.6h6v2h-6zM259.1 238.6h2v2h-2zM267.1 238.6h2v2h-2zM271.1 238.6h4v2h-4zM287.1 238.6h8v2h-8zM299.1 238.6h8v2h-8zM231.1 240.6h8v2h-8zM241.1 240.6h2v2h-2zM251.1 240.6h2v2h-2zM269.1 240.6h4v2h-4zM287.1 240.6h8v2h-8zM299.1 240.6h8v2h-8zM311.1 240.6h4v2h-4zM227.1 242.6h2v2h-2zM233.1 242.6h2v2h-2zM237.1 242.6h2v2h-2zM263.1 242.6h4v2h-4zM269.1 242.6h4v2h-4zM277.1 242.6h2v2h-2zM283.1 242.6h10v2h-10zM307.1 242.6h6v2h-6zM231.1 244.6h2v2h-2zM235.1 244.6h2v2h-2zM241.1 244.6h2v2h-2zM261.1 244.6h2v2h-2zM265.1 244.6h14v2h-14zM287.1 244.6h2v2h-2zM307.1 244.6h6v2h-6zM315.1 244.6h2v2h-2zM239.1 246.6h2v2h-2zM245.1 246.6h2v2h-2zM257.1 246.6h2v2h-2zM261.1 246.6h8v2h-8zM273.1 246.6h6v2h-6zM287.1 246.6h2v2h-2zM307.1 246.6h4v2h-4zM313.1 246.6h4v2h-4zM231.1 248.6h2v2h-2zM255.1 248.6h2v2h-2zM263.1 248.6h2v2h-2zM267.1 248.6h6v2h-6zM285.1 248.6h2v2h-2zM299.1 248.6h2v2h-2zM303.1 248.6h14v2h-14zM255.1 250.6h2v2h-2zM261.1 250.6h2v2h-2zM267.1 250.6h2v2h-2zM277.1 250.6h2v2h-2zM281.1 250.6h6v2h-6zM297.1 250.6h4v2h-4zM303.1 250.6h2v2h-2zM247.1 252.6h2v2h-2zM251.1 252.6h4v2h-4zM257.1 252.6h2v2h-2zM279.1 252.6h12v2h-12zM295.1 252.6h4v2h-4zM301.1 252.6h6v2h-6zM309.1 252.6h2v2h-2zM225.1 254.6h2v2h-2zM239.1 254.6h2v2h-2zM245.1 254.6h2v2h-2zM251.1 254.6h2v2h-2zM255.1 254.6h6v2h-6zM279.1 254.6h4v2h-4zM285.1 254.6h2v2h-2zM291.1 254.6h2v2h-2zM295.1 254.6h8v2h-8zM311.1 254.6h2v2h-2zM223.1 256.6h2v2h-2zM235.1 256.6h2v2h-2zM239.1 256.6h10v2h-10zM253.1 256.6h4v2h-4zM259.1 256.6h2v2h-2zM271.1 256.6h4v2h-4zM279.1 256.6h6v2h-6zM287.1 256.6h4v2h-4zM297.1 256.6h8v2h-8zM309.1 256.6h6v2h-6zM235.1 258.6h6v2h-6zM243.1 258.6h8v2h-8zM261.1 258.6h6v2h-6zM269.1 258.6h12v2h-12zM283.1 258.6h4v2h-4zM289.1 258.6h16v2h-16zM307.1 258.6h2v2h-2zM313.1 258.6h2v2h-2zM239.1 260.6h18v2h-18zM261.1 260.6h6v2h-6zM271.1 260.6h6v2h-6zM279.1 260.6h4v2h-4zM297.1 260.6h4v2h-4zM303.1 260.6h2v2h-2zM313.1 260.6h2v2h-2zM229.1 262.6h6v2h-6zM239.1 262.6h6v2h-6zM247.1 262.6h2v2h-2zM251.1 262.6h6v2h-6zM265.1 262.6h2v2h-2zM269.1 262.6h4v2h-4zM275.1 262.6h2v2h-2zM279.1 262.6h4v2h-4zM299.1 262.6h4v2h-4zM227.1 264.6h2v2h-2zM231.1 264.6h6v2h-6zM239.1 264.6h2v2h-2zM243.1 264.6h4v2h-4zM249.1 264.6h2v2h-2zM265.1 264.6h2v2h-2zM269.1 264.6h8v2h-8zM281.1 264.6h2v2h-2zM285.1 264.6h2v2h-2zM289.1 264.6h6v2h-6zM297.1 264.6h2v2h-2zM301.1 264.6h2v2h-2zM309.1 264.6h4v2h-4zM225.1 266.6h6v2h-6zM233.1 266.6h2v2h-2zM253.1 266.6h2v2h-2zM269.1 266.6h2v2h-2zM279.1 266.6h6v2h-6zM301.1 266.6h4v2h-4zM227.1 268.6h2v2h-2zM231.1 268.6h4v2h-4zM267.1 268.6h4v2h-4zM273.1 268.6h2v2h-2zM279.1 268.6h8v2h-8zM289.1 268.6h2v2h-2zM299.1 268.6h4v2h-4zM221.1 270.6h8v2h-8zM231.1 270.6h2v2h-2zM235.1 270.6h6v2h-6zM275.1 270.6h2v2h-2zM279.1 270.6h4v2h-4zM289.1 270.6h4v2h-4zM299.1 270.6h6v2h-6zM215.1 272.6h2v2h-2zM221.1 272.6h6v2h-6zM229.1 272.6h12v2h-12zM273.1 272.6h2v2h-2zM279.1 272.6h10v2h-10zM295.1 272.6h10v2h-10zM221.1 274.6h18v2h-18zM261.1 274.6h2v2h-2zM267.1 274.6h4v2h-4zM273.1 274.6h4v2h-4zM279.1 274.6h2v2h-2zM283.1 274.6h2v2h-2zM287.1 274.6h2v2h-2zM291.1 274.6h4v2h-4zM299.1 274.6h2v2h-2zM219.1 276.6h24v2h-24zM259.1 276.6h2v2h-2zM271.1 276.6h2v2h-2zM279.1 276.6h2v2h-2zM283.1 276.6h4v2h-4zM295.1 276.6h10v2h-10zM223.1 278.6h2v2h-2zM227.1 278.6h14v2h-14zM259.1 278.6h6v2h-6zM285.1 278.6h2v2h-2zM289.1 278.6h2v2h-2zM295.1 278.6h6v2h-6zM229.1 280.6h8v2h-8zM239.1 280.6h4v2h-4zM257.1 280.6h2v2h-2zM261.1 280.6h2v2h-2zM283.1 280.6h2v2h-2zM297.1 280.6h2v2h-2zM225.1 282.6h4v2h-4zM231.1 282.6h10v2h-10zM257.1 282.6h2v2h-2zM261.1 282.6h6v2h-6zM269.1 282.6h2v2h-2zM285.1 282.6h2v2h-2zM229.1 284.6h2v2h-2zM233.1 284.6h2v2h-2zM239.1 284.6h4v2h-4zM257.1 284.6h2v2h-2zM261.1 284.6h16v2h-16zM281.1 284.6h6v2h-6zM273.1 286.6h4v2h-4zM279.1 286.6h2v2h-2zM283.1 286.6h2v2h-2zM283.1 288.6h2v2h-2zM121.6 219.3h2v2h-2zM127.6 219.3h2v2h-2zM117.6 221.3h2v2h-2zM121.6 221.3h2v2h-2zM127.6 221.3h2v2h-2zM131.6 221.3h2v2h-2zM117.6 223.3h8v2h-8zM131.6 223.3h2v2h-2zM119.6 225.3h4v2h-4zM135.6 225.3h2v2h-2zM121.6 227.3h4v2h-4zM137.6 227.3h2v2h-2zM129.6 229.3h4v2h-4zM141.6 229.3h2v2h-2zM127.6 231.3h2v2h-2zM131.6 231.3h2v2h-2zM121.6 233.3h2v2h-2zM127.6 233.3h2v2h-2zM131.6 233.3h4v2h-4zM137.6 233.3h2v2h-2zM145.6 233.3h2v2h-2zM119.6 235.3h2v2h-2zM123.6 235.3h2v2h-2zM127.6 235.3h4v2h-4zM139.6 235.3h2v2h-2zM129.6 237.3h2v2h-2zM133.6 237.3h2v2h-2zM145.6 237.3h2v2h-2zM119.6 239.3h4v2h-4zM129.6 239.3h4v2h-4zM115.6 241.3h4v2h-4zM127.6 241.3h2v2h-2zM147.6 241.3h2v2h-2zM143.6 243.3h2v2h-2zM147.6 243.3h4v2h-4zM153.6 243.3h2v2h-2zM119.6 245.3h2v2h-2zM125.6 245.3h2v2h-2zM131.6 245.3h2v2h-2zM143.6 245.3h2v2h-2zM153.6 245.3h4v2h-4zM119.6 247.3h6v2h-6zM137.6 247.3h2v2h-2zM143.6 247.3h6v2h-6zM117.6 249.3h2v2h-2zM121.6 249.3h2v2h-2zM141.6 249.3h2v2h-2zM145.6 249.3h6v2h-6zM153.6 249.3h4v2h-4zM159.6 249.3h2v2h-2zM119.6 251.3h2v2h-2zM123.6 251.3h2v2h-2zM135.6 251.3h2v2h-2zM143.6 251.3h8v2h-8zM155.6 251.3h2v2h-2zM117.6 253.3h2v2h-2zM125.6 253.3h2v2h-2zM131.6 253.3h2v2h-2zM143.6 253.3h2v2h-2zM151.6 253.3h4v2h-4zM157.6 253.3h4v2h-4zM117.6 255.3h4v2h-4zM133.6 255.3h2v2h-2zM137.6 255.3h4v2h-4zM145.6 255.3h2v2h-2zM149.6 255.3h2v2h-2zM119.6 257.3h2v2h-2zM123.6 257.3h2v2h-2zM129.6 257.3h4v2h-4zM137.6 257.3h4v2h-4zM157.6 257.3h4v2h-4zM125.6 259.3h2v2h-2zM131.6 259.3h2v2h-2zM147.6 259.3h2v2h-2zM153.6 259.3h2v2h-2zM157.6 259.3h2v2h-2zM127.6 261.3h4v2h-4zM137.6 261.3h2v2h-2zM143.6 261.3h2v2h-2zM139.6 263.3h4v2h-4zM149.6 263.3h2v2h-2zM145.6 265.3h2v2h-2zM381.5 228.4h2v2h-2zM377.5 230.4h2v2h-2zM383.5 230.4h2v2h-2zM383.5 232.4h4v2h-4zM385.5 234.4h2v2h-2zM377.5 236.4h2v2h-2zM385.5 236.4h2v2h-2zM389.5 236.4h2v2h-2zM353.5 238.4h2v2h-2zM389.5 238.4h2v2h-2zM375.5 240.4h2v2h-2zM391.5 240.4h2v2h-2zM353.5 242.4h2v2h-2zM383.5 244.4h4v2h-4zM351.5 248.4h2v2h-2zM357.5 248.4h4v2h-4zM379.5 248.4h2v2h-2zM385.5 248.4h2v2h-2zM357.5 250.4h2v2h-2zM361.5 250.4h2v2h-2zM369.5 250.4h2v2h-2zM373.5 250.4h2v2h-2zM357.5 252.4h2v2h-2zM361.5 252.4h4v2h-4zM389.5 256.4h2v2h-2zM351.5 258.4h2v2h-2zM355.5 258.4h2v2h-2zM363.5 258.4h2v2h-2zM381.5 258.4h2v2h-2zM357.5 260.4h2v2h-2zM377.5 260.4h6v2h-6zM389.5 260.4h2v2h-2zM357.5 262.4h2v2h-2zM365.5 262.4h4v2h-4zM367.5 264.4h2v2h-2zM373.5 264.4h2v2h-2zM393.5 264.4h2v2h-2zM359.5 266.4h6v2h-6zM373.5 266.4h2v2h-2zM393.5 266.4h2v2h-2zM361.5 268.4h2v2h-2zM367.5 268.4h2v2h-2zM375.5 268.4h2v2h-2zM383.5 268.4h2v2h-2zM355.5 270.4h6v2h-6zM367.5 270.4h2v2h-2zM371.5 270.4h2v2h-2zM375.5 270.4h2v2h-2zM379.5 270.4h2v2h-2zM355.5 272.4h2v2h-2zM373.5 272.4h2v2h-2zM387.5 276.4h2v2h-2zM317.4 247.4h6v2h-6zM331.4 249.4h4v2h-4zM319.4 251.4h2v2h-2zM325.4 251.4h2v2h-2zM329.4 251.4h2v2h-2zM335.4 251.4h2v2h-2zM333.4 255.4h2v2h-2zM323.4 259.4h2v2h-2zM337.4 259.4h2v2h-2zM333.4 263.4h4v2h-4zM327.4 265.4h6v2h-6zM335.4 265.4h2v2h-2z"/>
<path fill="#e8e81c" d="M264.4 193.5h2v2h-2zM258.4 195.5h2v2h-2zM262.4 195.5h2v2h-2zM254.4 199.5h2v2h-2zM260.4 199.5h2v2h-2zM282.4 199.5h2v2h-2zM252.4 201.5h2v2h-2zM266.4 201.5h2v2h-2zM252.4 203.5h2v2h-2zM264.4 203.5h2v2h-2zM290.4 203.5h2v2h-2zM250.4 205.5h2v2h-2zM262.4 205.5h4v2h-4zM292.4 205.5h2v2h-2zM244.4 207.5h6v2h-6zM260.4 207.5h2v2h-2zM266.4 207.5h4v2h-4zM286.4 207.5h12v2h-12zM256.4 209.5h2v2h-2zM260.4 209.5h4v2h-4zM266.4 209.5h2v2h-2zM284.4 209.5h4v2h-4zM290.4 209.5h8v2h-8zM256.4 211.5h2v2h-2zM286.4 211.5h4v2h-4zM292.4 211.5h2v2h-2zM296.4 211.5h2v2h-2zM262.4 213.5h2v2h-2zM272.4 213.5h4v2h-4zM284.4 213.5h2v2h-2zM290.4 213.5h2v2h-2zM230.4 215.5h2v2h-2zM244.4 215.5h4v2h-4zM284.4 215.5h2v2h-2zM296.4 215.5h2v2h-2zM300.4 215.5h2v2h-2zM304.4 215.5h2v2h-2zM308.4 215.5h4v2h-4zM254.4 217.5h2v2h-2zM274.4 217.5h4v2h-4zM280.4 217.5h2v2h-2zM298.4 217.5h2v2h-2zM302.4 217.5h2v2h-2zM248.4 219.5h2v2h-2zM252.4 219.5h2v2h-2zM278.4 219.5h2v2h-2zM282.4 219.5h4v2h-4zM300.4 219.5h2v2h-2zM240.4 221.5h2v2h-2zM248.4 221.5h8v2h-8zM290.4 221.5h2v2h-2zM294.4 221.5h2v2h-2zM298.4 221.5h4v2h-4zM310.4 221.5h2v2h-2zM316.4 221.5h2v2h-2zM252.4 223.5h2v2h-2zM264.4 223.5h2v2h-2zM282.4 223.5h2v2h-2zM310.4 223.5h2v2h-2zM316.4 223.5h2v2h-2zM320.4 223.5h2v2h-2zM242.4 225.5h2v2h-2zM252.4 225.5h4v2h-4zM286.4 225.5h2v2h-2zM294.4 225.5h2v2h-2zM304.4 225.5h2v2h-2zM228.4 227.5h4v2h-4zM248.4 227.5h10v2h-10zM284.4 227.5h2v2h-2zM296.4 227.5h4v2h-4zM304.4 227.5h2v2h-2zM318.4 227.5h4v2h-4zM226.4 229.5h4v2h-4zM250.4 229.5h4v2h-4zM262.4 229.5h6v2h-6zM270.4 229.5h2v2h-2zM280.4 229.5h8v2h-8zM290.4 229.5h2v2h-2zM294.4 229.5h8v2h-8zM304.4 229.5h8v2h-8zM314.4 229.5h2v2h-2zM318.4 229.5h2v2h-2zM228.4 231.5h4v2h-4zM234.4 231.5h2v2h-2zM248.4 231.5h4v2h-4zM268.4 231.5h4v2h-4zM286.4 231.5h2v2h-2zM294.4 231.5h4v2h-4zM304.4 231.5h4v2h-4zM310.4 231.5h2v2h-2zM226.4 233.5h2v2h-2zM244.4 233.5h2v2h-2zM248.4 233.5h2v2h-2zM252.4 233.5h2v2h-2zM266.4 233.5h2v2h-2zM284.4 233.5h2v2h-2zM290.4 233.5h2v2h-2zM298.4 233.5h2v2h-2zM304.4 233.5h6v2h-6zM248.4 235.5h4v2h-4zM286.4 235.5h6v2h-6zM316.4 235.5h2v2h-2zM220.4 237.5h2v2h-2zM230.4 237.5h2v2h-2zM234.4 237.5h2v2h-2zM242.4 237.5h4v2h-4zM248.4 237.5h2v2h-2zM270.4 237.5h2v2h-2zM288.4 237.5h2v2h-2zM298.4 237.5h2v2h-2zM328.4 237.5h6v2h-6zM336.4 237.5h4v2h-4zM218.4 239.5h2v2h-2zM222.4 239.5h2v2h-2zM236.4 239.5h4v2h-4zM244.4 239.5h2v2h-2zM258.4 239.5h2v2h-2zM268.4 239.5h2v2h-2zM286.4 239.5h2v2h-2zM316.4 239.5h4v2h-4zM328.4 239.5h4v2h-4zM334.4 239.5h2v2h-2zM340.4 239.5h2v2h-2zM218.4 241.5h2v2h-2zM230.4 241.5h2v2h-2zM234.4 241.5h2v2h-2zM240.4 241.5h2v2h-2zM268.4 241.5h2v2h-2zM284.4 241.5h2v2h-2zM318.4 241.5h4v2h-4zM328.4 241.5h4v2h-4zM334.4 241.5h6v2h-6zM228.4 243.5h2v2h-2zM242.4 243.5h2v2h-2zM286.4 243.5h8v2h-8zM318.4 243.5h2v2h-2zM326.4 243.5h2v2h-2zM330.4 243.5h2v2h-2zM242.4 245.5h4v2h-4zM248.4 245.5h2v2h-2zM286.4 245.5h2v2h-2zM292.4 245.5h2v2h-2zM316.4 245.5h6v2h-6zM326.4 245.5h6v2h-6zM336.4 245.5h2v2h-2zM216.4 247.5h4v2h-4zM228.4 247.5h4v2h-4zM240.4 247.5h2v2h-2zM244.4 247.5h4v2h-4zM284.4 247.5h2v2h-2zM292.4 247.5h6v2h-6zM314.4 247.5h2v2h-2zM324.4 247.5h10v2h-10zM336.4 247.5h2v2h-2zM218.4 249.5h2v2h-2zM238.4 249.5h2v2h-2zM244.4 249.5h6v2h-6zM254.4 249.5h2v2h-2zM272.4 249.5h4v2h-4zM288.4 249.5h4v2h-4zM294.4 249.5h2v2h-2zM298.4 249.5h2v2h-2zM302.4 249.5h2v2h-2zM310.4 249.5h2v2h-2zM316.4 249.5h2v2h-2zM328.4 249.5h4v2h-4zM336.4 249.5h2v2h-2zM228.4 251.5h10v2h-10zM250.4 251.5h2v2h-2zM256.4 251.5h6v2h-6zM268.4 251.5h2v2h-2zM272.4 251.5h6v2h-6zM294.4 251.5h2v2h-2zM298.4 251.5h2v2h-2zM312.4 251.5h4v2h-4zM320.4 251.5h2v2h-2zM330.4 251.5h4v2h-4zM338.4 251.5h2v2h-2zM218.4 253.5h6v2h-6zM234.4 253.5h6v2h-6zM252.4 253.5h2v2h-2zM256.4 253.5h2v2h-2zM260.4 253.5h2v2h-2zM266.4 253.5h6v2h-6zM274.4 253.5h4v2h-4zM298.4 253.5h2v2h-2zM328.4 253.5h2v2h-2zM240.4 255.5h2v2h-2zM250.4 255.5h4v2h-4zM256.4 255.5h4v2h-4zM270.4 255.5h4v2h-4zM276.4 255.5h2v2h-2zM288.4 255.5h4v2h-4zM294.4 255.5h4v2h-4zM314.4 255.5h2v2h-2zM322.4 255.5h2v2h-2zM214.4 257.5h4v2h-4zM250.4 257.5h4v2h-4zM256.4 257.5h2v2h-2zM260.4 257.5h8v2h-8zM292.4 257.5h4v2h-4zM320.4 257.5h4v2h-4zM326.4 257.5h2v2h-2zM214.4 259.5h2v2h-2zM252.4 259.5h2v2h-2zM256.4 259.5h6v2h-6zM264.4 259.5h2v2h-2zM268.4 259.5h2v2h-2zM272.4 259.5h2v2h-2zM322.4 259.5h4v2h-4zM342.4 259.5h2v2h-2zM242.4 261.5h2v2h-2zM258.4 261.5h6v2h-6zM270.4 261.5h2v2h-2zM276.4 261.5h4v2h-4zM290.4 261.5h4v2h-4zM324.4 261.5h4v2h-4zM244.4 263.5h2v2h-2zM256.4 263.5h2v2h-2zM270.4 263.5h2v2h-2zM274.4 263.5h2v2h-2zM294.4 263.5h4v2h-4zM316.4 263.5h2v2h-2zM326.4 263.5h2v2h-2zM220.4 265.5h2v2h-2zM240.4 265.5h2v2h-2zM256.4 265.5h2v2h-2zM272.4 265.5h2v2h-2zM224.4 267.5h2v2h-2zM244.4 267.5h2v2h-2zM248.4 267.5h4v2h-4zM266.4 267.5h2v2h-2zM270.4 267.5h2v2h-2zM312.4 267.5h4v2h-4zM222.4 269.5h10v2h-10zM246.4 269.5h2v2h-2zM262.4 269.5h6v2h-6zM270.4 269.5h2v2h-2zM286.4 269.5h2v2h-2zM292.4 269.5h2v2h-2zM308.4 269.5h2v2h-2zM224.4 271.5h2v2h-2zM230.4 271.5h4v2h-4zM264.4 271.5h6v2h-6zM286.4 271.5h2v2h-2zM308.4 271.5h2v2h-2zM312.4 271.5h4v2h-4zM318.4 271.5h2v2h-2zM234.4 273.5h2v2h-2zM246.4 273.5h2v2h-2zM252.4 273.5h2v2h-2zM264.4 273.5h2v2h-2zM272.4 273.5h2v2h-2zM292.4 273.5h2v2h-2zM304.4 273.5h2v2h-2zM308.4 273.5h2v2h-2zM314.4 273.5h2v2h-2zM326.4 273.5h4v2h-4zM228.4 275.5h2v2h-2zM246.4 275.5h8v2h-8zM270.4 275.5h2v2h-2zM278.4 275.5h8v2h-8zM296.4 275.5h2v2h-2zM304.4 275.5h2v2h-2zM308.4 275.5h2v2h-2zM312.4 275.5h4v2h-4zM318.4 275.5h2v2h-2zM228.4 277.5h4v2h-4zM234.4 277.5h4v2h-4zM240.4 277.5h2v2h-2zM248.4 277.5h4v2h-4zM264.4 277.5h2v2h-2zM268.4 277.5h8v2h-8zM280.4 277.5h4v2h-4zM304.4 277.5h2v2h-2zM318.4 277.5h2v2h-2zM324.4 277.5h4v2h-4zM240.4 279.5h2v2h-2zM272.4 279.5h4v2h-4zM282.4 279.5h2v2h-2zM316.4 279.5h2v2h-2zM320.4 279.5h2v2h-2zM230.4 281.5h4v2h-4zM238.4 281.5h4v2h-4zM262.4 281.5h2v2h-2zM312.4 281.5h6v2h-6zM324.4 281.5h4v2h-4zM234.4 283.5h2v2h-2zM240.4 283.5h2v2h-2zM256.4 283.5h2v2h-2zM270.4 283.5h2v2h-2zM278.4 283.5h2v2h-2zM312.4 283.5h4v2h-4zM250.4 285.5h2v2h-2zM264.4 285.5h2v2h-2zM310.4 285.5h6v2h-6zM252.4 287.5h4v2h-4zM266.4 287.5h4v2h-4zM284.4 287.5h2v2h-2zM296.4 287.5h2v2h-2zM302.4 287.5h2v2h-2zM252.4 289.5h2v2h-2zM262.4 289.5h2v2h-2zM268.4 289.5h2v2h-2zM272.4 289.5h2v2h-2zM292.4 289.5h2v2h-2zM298.4 289.5h6v2h-6zM254.4 291.5h2v2h-2zM276.4 291.5h2v2h-2zM288.4 291.5h10v2h-10z"/>
<path fill="none" stroke="#1717d0" stroke-width="5.2" stroke-linecap="round" stroke-linejoin="round" d="M256.6 113.4L255.7 116.9L254.3 120.3L254 123.9L252.7 127.6L251.6 131.4L250.8 135.2L250.5 139.1L249.1 142.7L248.6 146.5L249.5 150.5L249.7 154.5M250.8 154.5L247.4 154.2L244 153.8L240.6 153.8L237.2 154.3L233.4 154L229.6 154.2L225.9 155.1L222 154.5L218.3 155.8L214.4 155.5L210.6 155.7L206.9 154.7L203.1 155.6L199.3 155.7L195.5 155.4L191.6 155L187.9 156.2L184.1 156.3L180.3 157.2L176.6 156.1L172.8 156.3L169 156.1L165.7 155L162.2 154.7M251.9 156.8L254.7 158.5L257.5 160.2L260.1 162.8L262.5 160.4L265.3 158.6L268.6 157.8L271.1 155.7L274.1 154.4L276.7 152.3L279.9 151.8L282.6 150.2L285.6 149.2L288.1 147L291.3 146.5L294 144.8L296.5 143.1L299.3 142L302.3 141.3L305.4 140.7L308 139.1L310.9 138.2L313.9 136.1L317.6 135.5L320.7 133.4L324.9 132.7"/>
<path fill="none" stroke="#1717d0" stroke-width="6.0" stroke-linecap="round" stroke-linejoin="round" d="M250.8 155.6L252.1 158.4L252.8 161.4L254.5 164.1L255 167.1L256.6 170.7L256.1 174.7L256.8 178.3L257.3 181.4L256.2 184.4L256.6 187.5L254.2 190.6L253.3 194.5L250.2 197.1L247.7 200.3L243.7 202.4L240.6 205.6"/>
<path fill="none" stroke="#1717d0" stroke-width="5.5" stroke-linecap="round" stroke-linejoin="round" d="M258.2 183.5L261.9 184.4L265.8 184.8L268 187.2L271.1 187.9L273.9 189.3L275.6 192L277.9 194L280.4 195.6L283 197.1L285.7 199.5L288.9 201.1L291.7 203.5L294.5 205.7L297.8 207.1L300.8 209.1L304 211.2L307.7 212.5L311.1 214.5L313.7 217.7L316.7 220.4M391.3 219.8L387.2 221.1L383.3 222.8L379.4 223.6L375.6 224.7L372.1 226.6L369 226.7L366.3 228.3L363.5 229.2L360.6 229.9L356.8 230.3L353 229.7L349.2 230.1"/>
<path fill="none" stroke="#1717d0" stroke-width="3.2" stroke-linecap="round" stroke-linejoin="round" d="M154.2 221.6L157.2 220L159.3 217.2L161.8 215L164.1 212.7L167.7 210.3L170.1 206.8"/>
<path fill="none" stroke="#1717d0" stroke-width="4.1" stroke-linecap="round" stroke-linejoin="round" d="M249.2 197.7L252.8 199.3L256.4 200.9L259.5 203.3L263 204.5L266.2 206.5L269.7 207.9L273.3 209.3L277.2 209.9L280.8 211.3L283.7 212.4L286.8 212.9L289.7 213.8L292.4 215.3"/>
<path fill="none" stroke="#1717d0" stroke-width="4.6" stroke-linecap="round" stroke-linejoin="round" d="M243.5 226.1L246.2 228.6L248.8 231.2L251.9 233.1L254.6 235.7L257.7 237.2L260.5 239.3L263.6 240.9L266 243.4L269 244.9L270.6 247.9L272.7 250.4L275.4 252.2L277.7 254.8L279.6 257.8L282.2 260.2"/>
<path fill="none" stroke="#1717d0" stroke-width="3.7" stroke-linecap="round" stroke-linejoin="round" d="M250.3 260.2L253.7 261.1L257.3 261L260.5 262.5L263.8 263.6L267.7 264.4L271.6 265.2L275.3 266.4M269.7 203.4L272.1 205.9L275.2 207.7L277.5 210.4L281.1 211.8L284.4 213.6"/>
<path fill="none" stroke="#1717d0" stroke-width="3.1" stroke-linecap="round" stroke-linejoin="round" d="M325.3 188.6L327.4 191.5L328.9 194.8L330.7 197.9L332 201.2L334 204.2L336.3 207L337.8 210.2"/>
<path fill="none" stroke="#1717d0" stroke-width="2.9" stroke-linecap="round" stroke-linejoin="round" d="M356 195.4L357.1 198.8L357.2 202.3L358.5 205.5L361.7 210.2M317.4 203.4L319.7 205.6L321.8 208.1L324.2 210.2"/>
</g>
<path fill="none" stroke="#e8200c" stroke-width="2.2" stroke-linecap="butt" stroke-linejoin="round" d="M361.7 210.8L373.1 214.7"/>
<path fill="none" stroke="#e8200c" stroke-width="2" stroke-linecap="butt" stroke-linejoin="round" d="M319.7 206.8L324.2 209.6"/>
<path fill="none" stroke="#e8200c" stroke-width="1.6" stroke-linecap="butt" stroke-linejoin="round" d="M327.6 192L331 198.8"/>
<g filter="url(#rough)">
<path fill="none" stroke="#1717d0" stroke-width="2.0" stroke-linecap="round" stroke-linejoin="round" d="M117.8 229.5L120.7 228L123.7 226.6L126.6 225.1L129.6 223.7L132.4 222.2L135.4 220.7L138.3 219.3M118.8 236.6L121.5 235.3L124.3 234.1L126.9 232.6L129.7 231.6L132.5 230.3L135.1 228.8L137.9 227.6L140.6 226.3M119.7 243.6L122.6 242.5L125.5 241.2L128.3 239.7L131.2 238.4L134.1 237.2L137 235.8L140 234.7L142.8 233.4M120.6 250.6L123.7 249.5L126.7 248.1L129.8 246.8L132.8 245.5L136 244.4L139 243L142.1 241.7L145.1 240.4M121.5 257.7L124.4 256.7L127.2 255.2L130.1 254.2L133 253.1L135.9 252.1L138.7 250.7L141.6 249.7L144.5 248.6L147.4 247.5"/>
</g>
<path fill="none" stroke="#f07a10" stroke-width="1.8" stroke-linecap="butt" stroke-linejoin="round" d="M120.1 243.1L138.3 231.8M121.3 252.2L139.4 238.6"/>
<path fill="none" stroke="#e8200c" stroke-width="1.6" stroke-linecap="butt" stroke-linejoin="round" d="M123.5 259.1L134.9 251.1"/>
<path fill="none" stroke="#e8200c" stroke-width="2" stroke-linecap="butt" stroke-linejoin="round" d="M239 251.1L246.9 256.8"/>
<path fill="none" stroke="#e8200c" stroke-width="1.8" stroke-linecap="butt" stroke-linejoin="round" d="M273.1 230.6L282.2 237.5M283.3 254.5L291.3 251.7"/>
<path fill="#e8200c" d="M238.9 228.3h2.4v2.4h-2.4zM257.1 181.7h2.4v2.4h-2.4zM212.8 243.1h2.4v2.4h-2.4zM323 230.6h2.4v2.4h-2.4zM318.5 247.6h2.4v2.4h-2.4zM242.3 274.9h2.4v2.4h-2.4zM294.6 302.2h2.4v2.4h-2.4zM262.8 238.5h2.4v2.4h-2.4zM300.3 245.4h2.4v2.4h-2.4zM153 224.9h2.4v2.4h-2.4zM191.6 287.4h2.4v2.4h-2.4zM213.2 244.2h2.4v2.4h-2.4zM212.1 228.3h2.4v2.4h-2.4z"/>
<g filter="url(#rough)">
<path fill="#1717d0" d="M210.5 170.9h3.7v3.7h-3.7zM160.6 176.5h3.8v3.8h-3.8zM202.1 214.8h3.3v3.3h-3.3zM161.2 182h3.7v3.7h-3.7zM191.8 196.8h3.5v3.5h-3.5zM159.8 203.2h3.6v3.6h-3.6zM209.8 188.8h3.5v3.5h-3.5zM221.9 194.2h3.7v3.7h-3.7zM211.2 206.8h3.5v3.5h-3.5zM221.9 170.7h3.6v3.6h-3.6zM201.6 224.3h2.5v2.5h-2.5zM194 221.1h3.1v3.1h-3.1zM211.6 203.6h2.5v2.5h-2.5zM164.4 217.7h2.9v2.9h-2.9zM235.7 168.6h3.5v3.5h-3.5zM194.7 202.6h3.2v3.2h-3.2zM208 211.2h3.9v3.9h-3.9zM231.2 200.2h4v4h-4zM169 214.7h2.8v2.8h-2.8zM141 192.9h3.9v3.9h-3.9zM211.1 210.8h3.7v3.7h-3.7zM187.9 171.5h3.9v3.9h-3.9zM170.3 207.5h3.5v3.5h-3.5zM190.2 176.6h3.2v3.2h-3.2zM196.5 195h3.8v3.8h-3.8zM230.9 162.1h2.6v2.6h-2.6zM244.4 184.1h2.6v2.6h-2.6zM152.8 171.7h3.1v3.1h-3.1zM174.2 170.4h3.2v3.2h-3.2zM226.3 207.2h3v3h-3zM185.1 200.3h2.5v2.5h-2.5zM171.1 168.7h3.4v3.4h-3.4zM173.9 168h3.3v3.3h-3.3zM189.8 217.4h2.9v2.9h-2.9zM184.1 227.5h2.6v2.6h-2.6zM203.5 182.2h2.7v2.7h-2.7zM173.9 207.9h3.5v3.5h-3.5zM144.5 184.5h2.6v2.6h-2.6zM166.6 165h3.3v3.3h-3.3zM200.4 221h2.7v2.7h-2.7zM226.8 170.5h2.4v2.4h-2.4zM159.5 220.5h3.4v3.4h-3.4zM228.1 183.2h3.9v3.9h-3.9zM177 213.1h3.9v3.9h-3.9zM215.1 162.4h3.2v3.2h-3.2zM242.6 175.1h2.8v2.8h-2.8zM195.2 186.7h3.8v3.8h-3.8zM199.6 188.3h2.6v2.6h-2.6zM154.8 178.4h2.4v2.4h-2.4zM174.4 186.7h3.3v3.3h-3.3zM139.4 196.2h3.9v3.9h-3.9zM175.2 186h3v3h-3zM201 160.1h3v3h-3zM205.3 164.5h3.6v3.6h-3.6zM136.6 198.7h3.6v3.6h-3.6zM188.7 224.5h2.9v2.9h-2.9zM161.6 165.9h3.5v3.5h-3.5zM179.7 212.9h2.4v2.4h-2.4zM229.5 203.6h3.3v3.3h-3.3zM215.9 184.7h3.2v3.2h-3.2zM186.9 184.6h3.4v3.4h-3.4zM248 175.6h3.1v3.1h-3.1zM196.9 209.4h3.8v3.8h-3.8zM149.3 216h3v3h-3zM187.5 222.2h2.7v2.7h-2.7zM170.4 222.6h2.8v2.8h-2.8zM203.2 166.1h3.7v3.7h-3.7zM136.1 181h2.8v2.8h-2.8zM229 187.4h3.2v3.2h-3.2zM241.9 191.3h3.6v3.6h-3.6zM352.4 169.1h2.9v2.9h-2.9zM328 183.2h3.7v3.7h-3.7zM352 169.5h2.6v2.6h-2.6zM338.7 215.8h3.2v3.2h-3.2zM364 205.4h3.5v3.5h-3.5zM323.3 196.2h3.8v3.8h-3.8zM342.4 219.4h2.5v2.5h-2.5zM307.6 145.1h2.8v2.8h-2.8zM333.7 153.1h3.6v3.6h-3.6zM357.9 193.4h3.6v3.6h-3.6zM322.8 209.7h3.2v3.2h-3.2zM281.4 165.1h3.4v3.4h-3.4zM291.8 171.8h3.3v3.3h-3.3zM329.8 146.8h2.6v2.6h-2.6zM358.9 170h3v3h-3zM321.7 161.9h3.2v3.2h-3.2zM335.2 213.2h3.8v3.8h-3.8zM336.6 194.7h2.8v2.8h-2.8zM337.2 206.4h3v3h-3zM334.8 192.8h2.7v2.7h-2.7zM375.6 206.3h3.8v3.8h-3.8zM363.8 175.9h2.7v2.7h-2.7zM347.7 178.7h3.4v3.4h-3.4zM336.6 162.6h2.6v2.6h-2.6zM318.1 186.3h3.2v3.2h-3.2zM331.5 203.7h3.6v3.6h-3.6zM330.3 153.6h3.8v3.8h-3.8zM317.8 181h3.8v3.8h-3.8zM354.3 192.1h3.2v3.2h-3.2zM342.1 197.8h2.7v2.7h-2.7zM358.3 170.5h3v3h-3zM317.7 187.3h2.6v2.6h-2.6zM333.2 173.4h3.7v3.7h-3.7zM330.9 144.4h3.5v3.5h-3.5zM370.2 213.1h3v3h-3zM299.8 187h3.9v3.9h-3.9zM312.6 187.8h3.4v3.4h-3.4zM333.6 170.8h3.8v3.8h-3.8zM287.6 175.2h2.8v2.8h-2.8zM338 178h3.8v3.8h-3.8zM309.2 201.7h2.7v2.7h-2.7zM343.7 174.4h3.4v3.4h-3.4zM351.4 160.3h2.7v2.7h-2.7zM290.5 158.5h3.5v3.5h-3.5zM375.6 184.2h3.6v3.6h-3.6zM358.4 193.8h3.9v3.9h-3.9zM347.3 215.7h3.6v3.6h-3.6zM316.2 148.6h2.8v2.8h-2.8zM345.5 171.5h3.9v3.9h-3.9zM268.4 162.4h3.6v3.6h-3.6zM284.1 162.6h3.3v3.3h-3.3zM348.6 177.8h3.6v3.6h-3.6zM315.9 151.2h2.6v2.6h-2.6zM310.2 171.5h3.3v3.3h-3.3zM328 219.5h3.3v3.3h-3.3zM333.5 212.6h4.1v4.1h-4.1zM331.1 207.5h3.5v3.5h-3.5zM316 214.2h4.2v4.2h-4.2zM319.8 217.9h2.6v2.6h-2.6zM324.1 218h4.1v4.1h-4.1zM321.2 217.1h4.4v4.4h-4.4zM332.5 223h3.5v3.5h-3.5zM361.1 209h3.3v3.3h-3.3zM333.9 222.7h4.1v4.1h-4.1zM348.2 222.6h3.9v3.9h-3.9zM330.8 204.1h3v3h-3zM300.5 202.4h2.9v2.9h-2.9zM350 212.7h4v4h-4zM377.4 206.9h2.9v2.9h-2.9zM335.5 199.7h4v4h-4zM342.7 206.8h3.3v3.3h-3.3zM351.7 207.8h3.2v3.2h-3.2zM336.2 202.3h4.2v4.2h-4.2zM363.4 201h3.6v3.6h-3.6zM310.2 201.9h2.8v2.8h-2.8zM361.8 215.9h3.1v3.1h-3.1zM337.5 198.9h2.8v2.8h-2.8zM325.4 202.4h4.1v4.1h-4.1zM362.9 218.5h3.8v3.8h-3.8zM342.6 222.5h3.1v3.1h-3.1zM318.4 208.2h3.1v3.1h-3.1zM331.7 201.6h2.7v2.7h-2.7zM319.4 216h3.5v3.5h-3.5zM347.6 219.9h3.7v3.7h-3.7zM344.2 199.6h2.7v2.7h-2.7zM192.8 138h2.9v2.9h-2.9zM236.1 139.8h2.7v2.7h-2.7zM236.9 120.4h2.8v2.8h-2.8zM225.9 136.3h2.7v2.7h-2.7zM227.3 147.9h2.7v2.7h-2.7zM193.2 143.8h3.1v3.1h-3.1zM222.7 144.6h2.7v2.7h-2.7zM203.9 138h3.5v3.5h-3.5zM258.9 135.9h3.5v3.5h-3.5zM298.2 124.9h2.7v2.7h-2.7zM267.6 121.8h3.3v3.3h-3.3zM272.7 128.7h3v3h-3zM267.9 127.2h2.9v2.9h-2.9zM264.6 127.7h3.2v3.2h-3.2z"/>
<path fill="#e8e81c" d="M160.9 270.6h2.1v2.1h-2.1zM216.2 282.1h2.2v2.2h-2.2zM194.5 268.1h2.1v2.1h-2.1zM211.5 278.8h2.7v2.7h-2.7zM216.7 249.9h2.1v2.1h-2.1zM237 266.9h2.9v2.9h-2.9zM223.8 267.9h2.5v2.5h-2.5zM244.7 273.4h2.7v2.7h-2.7zM128.5 232.7h2.8v2.8h-2.8zM206.7 277.5h2.3v2.3h-2.3zM128.8 285.7h2.4v2.4h-2.4zM163.4 249.8h2.8v2.8h-2.8zM213.7 255.8h2.3v2.3h-2.3zM241.3 304.7h2.6v2.6h-2.6z"/>
</g>
</g>
<g id="s2">
<path fill="#e8e81c" filter="url(#ytex)" d="M-0.5 285.8L100.9 285.8L107.8 282.5L117.5 286.3L138.2 296L152 302.9L165.8 309.8L179.6 312.3L207.2 313.9L234.8 316.7L255.2 320.2L255.2 321.5L275.9 319.5L296.6 316.7L317.3 312.8L338 307L358.7 298.8L372.5 293.2L386.3 287.7L397.3 282.2L402.2 278.1L407 285L411.1 287.2L448.4 286.9L476 286.5L511.9 285.8L511.9 471.8L-0.5 471.8Z"/>
<path fill="url(#ps1)" d="M321.4 412.5L331.1 390.4L342.1 369.7L353.2 354.5L364.2 338L373.9 322.8L380.8 311.7L390.4 303.5L402.8 295.2L420.8 297.9L448.4 314.5L451.1 332.4L447 349L442.9 369.7L437.3 397.3L431.8 419.4L420.8 426.3L407 435.9L391.8 446.3L379.4 442.1L358.7 435.9L338 427.6Z"/>
<path fill="url(#ps2)" d="M420.8 288.3L510.2 286.2L510.2 320L489.8 317.9L469.1 317.3L452.5 315.2L447 311.7L429.1 297.9Z"/>
<path fill="url(#ps3)" d="M393.2 449.7L407 438.7L420.8 429L431.8 422.8L448.4 430.4L469.1 435.9L489.8 442.8L510.2 448.3L510.2 470.4L394.6 470.4Z"/>
<path fill="url(#ps4)" d="M317.3 416.6L338 430.4L358.7 438.7L379.4 444.2L389.7 449.7L389.7 459.4L392.5 470.4L274.5 470.4L289.7 451.1L300.7 437.3L310.4 427.6Z"/>
<path fill="url(#ps3)" d="M75.4 348.3L110.6 346.9L145.1 346.9L149.9 349L149.2 362.8L150.6 378L149.9 390.4L142.3 394.5L131.3 396.6L110.6 395.2L89.9 393.1L69.2 391.5L52.6 388.3L56.8 382.1L61.6 371.1L67.8 358.7Z"/>
<g filter="url(#rough)">
<path fill="none" stroke="#1717d0" stroke-width="2.6" stroke-linecap="round" stroke-linejoin="round" d="M0.2 286.3L3.3 286.1L6.3 286.6L9.4 286.6L12.5 286.1L15.5 286.2L18.6 286.2L21.7 286.6L24.7 286.5L27.8 286.2L30.9 286.3L33.9 286.5L37 286.2L40.1 286.5L43.1 286.5L46.2 286.1L49.3 286.5L52.3 286.6L55.4 286.1L58.4 286.3L61.5 286.3L64.5 286.4L67.5 286.1L70.6 286.4L73.6 286.5L76.6 286.3L79.7 286.1L82.7 286.1L85.8 286.1L88.8 286.4L91.8 286.5L94.9 286L97.9 286.5L100.9 286.2"/>
</g>
<path fill="none" stroke="#e8200c" stroke-width="1.6" stroke-linecap="butt" stroke-linejoin="round" d="M0.2 285.8L23.7 285.8M27.8 285.9L58.2 285.8"/>
<path fill="none" stroke="#e8200c" stroke-width="1.8" stroke-linecap="butt" stroke-linejoin="round" d="M66.4 285.5L102.3 284.4"/>
<g filter="url(#rough)">
<path fill="#1717d0" d="M100.9 286.2L107.8 280.3L117.5 284.1L138.2 293.8L152 300.7L165.8 307.6L179.6 310.1L207.2 311.7L234.8 314.5L256.9 317.9L256.9 323.1L234.8 318.9L221 316.2L207.2 315.3L193.4 314.8L179.6 316.2L169.9 320.3L161.6 318.9L152 314.8L138.2 307.9L124.4 301L113.4 295.5L109.2 289.9Z"/>
<path fill="none" stroke="#1717d0" stroke-width="5.2" stroke-linecap="round" stroke-linejoin="round" d="M60.9 286.9L61.5 290.4L62.7 293.7L63.2 297.2L64.2 300.6L64.5 304.1L65.6 307.5L65.7 311.1L65.9 314.6L67.8 317.8L68.3 321.3L68.9 324.8L69.6 328.2L70.2 331.7L70.6 335.2L71.2 338.7L71.9 342.1L73.3 346.2"/>
<path fill="none" stroke="#1717d0" stroke-width="6.0" stroke-linecap="round" stroke-linejoin="round" d="M73.3 346.2L76.7 345.9L79.9 344.6L83.3 344.9L86.5 343.9L90 344.2L93.5 343.7L96.9 341.9L100.2 343.4L103.6 344.2L107.1 344.5L110.6 344.4L114 345.2L117.5 344.7L120.9 345.3L124.3 344.2L127.9 344.6L131.2 343L134.7 342.8L138 343L141.8 343.3L145.4 344.6L149.6 344.3L152 346.5"/>
<path fill="none" stroke="#1717d0" stroke-width="5.2" stroke-linecap="round" stroke-linejoin="round" d="M73.3 346.2L71.5 349.5L69.7 352.8L67.7 355.9L65 358.6L63.4 361.3L62.1 364.1L61.5 367.2L59.6 369.7L58 373.3L57.1 377.2L55.6 380.9L53.8 384.4L51.5 387.8L49.9 389.7M49.9 389.7L47 388.1L43.6 387.7L40.9 385.7L37.5 385.4L34.6 384.1L31.3 382.4L27.9 381.7L24.3 381.8L20.9 380.8L17.9 379.3L14.8 378.2L11.5 377.8L8.6 376.2L5.6 375.5L2.6 375.1L-0.5 374.9M49.9 389.7L49.7 392.8L48.8 395.8L47.9 398.8L47.5 401.9L47.2 405L45.7 407.9L45.9 411.1L44.7 414.4L43.4 417.5L43.6 421.1L42.9 424.5L42.2 427.7L40.6 430.7L40.3 433.9L40.7 437.2L40.3 440.4L39.5 443.5"/>
<path fill="none" stroke="#1717d0" stroke-width="4.1" stroke-linecap="round" stroke-linejoin="round" d="M39.5 443.5L36.3 444.9L34 447.8L30.4 448.7L27.7 450.9L23.9 453.9M20.9 456.6L17.5 458.3L14.7 460.7L11.7 463L8.8 465.3L6.1 467.3L3 468.8L0.2 470.7"/>
<path fill="none" stroke="#1717d0" stroke-width="4.6" stroke-linecap="round" stroke-linejoin="round" d="M39.5 443.5L40.6 446.7L42.1 449.7L43.7 452.6L45.8 455.2L46.9 458.1L49 460.3L50.6 463L52.6 465.3L53.3 468.4L55.4 470.7"/>
<path fill="none" stroke="#1717d0" stroke-width="5.2" stroke-linecap="round" stroke-linejoin="round" d="M49.9 389.7L53 390.6L56.3 390.8L59.5 391.8L62.8 391.8L65.9 392.9L69.2 393.5L72.7 393.3L76.1 393.3L79.5 393.8L83 394.5L86.4 394.2L89.9 394.9L93.3 395L96.8 394.7L100.3 395.2L103.7 396.1L107.1 396.3L110.6 397L114.1 396.6L117.5 396.7L120.9 397.9L124.4 398.1L127.8 398L131.3 398M131.3 398L131.8 401.3L131.3 404.6L131.2 408L130.9 411.3L131.7 414.7L130.9 417.9L131 421.5L130 424.8L130.2 428.4L128.9 431.7L129.1 435.2L128.4 438.7L128.7 442.2L127 445.5L126.7 449L126.9 452.5L126.5 456L125.6 459.4L125.4 463.2L125 467L124.4 470.7"/>
<path fill="none" stroke="#1717d0" stroke-width="6.4" stroke-linecap="round" stroke-linejoin="round" d="M131.3 398L134.5 397.8L137.6 397.6L140.5 396L143.5 395.4L147.7 394.2L152 393.1"/>
<path fill="none" stroke="#1717d0" stroke-width="7.4" stroke-linecap="round" stroke-linejoin="round" d="M152 393.1L151.9 390.1L151.5 387.1L151.6 384L151.8 381L151.3 378L152.1 374.9L150.9 372L150.8 368.9L151.5 365.8L150.5 362.8L151.5 359.8L151.2 356.7L151.9 353.7L151.9 350.7L152 347.6"/>
<path fill="none" stroke="#1717d0" stroke-width="6.0" stroke-linecap="round" stroke-linejoin="round" d="M152 393.1L153.7 395.8L156 397.9L157.3 400.9L159.2 403.4L161.6 405.5L162.5 408.8L165.2 410.5L166.9 413L169.1 415.2L170.8 417.8L173.8 419.2L175.9 421.4L177.1 424.4L179.9 426L181.9 428.3L183.8 430.7L186.6 432.1L189.2 433.8L191.4 435.9L193.4 438.2L195.8 440.1L198.3 441.9L199.9 444.7L202.5 446.6L205.2 448.3L208.1 449.9L211 451.3L213.4 453.5L215.6 455.8L218.7 457.1L220.7 459.7L223.8 461.6L226.5 463.9L229.3 466.1L231.6 468.9L234.8 470.7"/>
<path fill="none" stroke="#1717d0" stroke-width="6.4" stroke-linecap="round" stroke-linejoin="round" d="M149.9 344.9L148.6 341.7L147.4 338.4L146.9 335L146.7 331.4L144.9 328.3L144.4 324.8L144 321.3L142.8 318L141.9 314.7L141.2 311L139.6 307.6"/>
<path fill="#1717d0" d="M47.1 384.9L55.4 383.5L56.8 391.8L48.5 394.5ZM149.2 338L165.8 342.1L186.5 343.5L207.2 344.9L221 347.6L234.8 343.5L256.9 338L256.9 347.6L234.8 352L223.7 356.2L221 369.7L207.2 364.4L193.4 363.1L183.7 370L172.7 372.7L158.9 374.1L153.4 383.5L149.2 369.7L147.8 350.4ZM158.9 380.7L193.4 375.2L192 378.2L172.7 383.8L160.3 383.8ZM176.8 393.1L190.6 390.4L198.9 397.6L179.6 400.3Z"/>
</g>
<path fill="none" stroke="#f07a10" stroke-width="2.6" stroke-linecap="butt" stroke-linejoin="round" d="M161.6 382.4L169.9 383.5"/>
<path fill="none" stroke="#e8200c" stroke-width="2.4" stroke-linecap="butt" stroke-linejoin="round" d="M163 394.8L175.4 395.9"/>
<path fill="#e8200c" d="M167.3 357.5h2.4v2.4h-2.4zM148 390.6h2.4v2.4h-2.4zM193.6 343h2.4v2.4h-2.4zM159.1 398.8h2.4v2.4h-2.4zM166 404.4h2.4v2.4h-2.4z"/>
<g filter="url(#rough)">
<path fill="#e8e81c" d="M205.7 359.9h3v3h-3zM226.4 355.8h3v3h-3zM236 354.4h3v3h-3zM202.9 362.7h3v3h-3z"/>
<path fill="none" stroke="#1717d0" stroke-width="3.1" stroke-linecap="round" stroke-linejoin="round" d="M77.5 306.2L80.6 307.5L83.5 309.3L86.9 310.1L89.8 312L92.8 312.9L95.2 314.8L98.3 315.6L101.1 316.9L103.6 318.7L106.4 320.2L109.2 321.4L111.8 323.1L114.7 324.1L117.5 325.5"/>
<path fill="none" stroke="#1717d0" stroke-width="3.3" stroke-linecap="round" stroke-linejoin="round" d="M96.8 339.3L99.1 336.8L101.1 333.9L102.8 330.9L105.4 328.5L107.1 325.7L108.2 322.7L110 320L111.8 317.3L113.5 314.6L114.5 311L116.3 307.7L117.8 304.3L118.9 300.7M96.8 314.5L99 316.6L100.9 319.1L102.6 321.6L104.5 324.1L106.4 326.5L108.8 328.6L110.6 331L113.2 332.6L116.1 333.7L118.8 335.3L121.6 336.6L124.4 338L128.5 338.9L132.7 339.3"/>
<path fill="none" stroke="#1717d0" stroke-width="2.8" stroke-linecap="round" stroke-linejoin="round" d="M113.4 331.1L117.5 332.5L121.6 334.1L125.1 333.6L128.5 333.8"/>
</g>
<path fill="none" stroke="#e8200c" stroke-width="2.4" stroke-linecap="butt" stroke-linejoin="round" d="M91.3 312.8L102.3 316.2"/>
<path fill="none" stroke="#e8200c" stroke-width="2.2" stroke-linecap="butt" stroke-linejoin="round" d="M112.2 304.8L115 312"/>
<path fill="none" stroke="#e8200c" stroke-width="2.6" stroke-linecap="butt" stroke-linejoin="round" d="M99.8 336.9L105.3 330"/>
<path fill="none" stroke="#e8200c" stroke-width="2" stroke-linecap="butt" stroke-linejoin="round" d="M113.6 318.9L115 328.6"/>
<path fill="none" stroke="#f07a10" stroke-width="2.4" stroke-linecap="butt" stroke-linejoin="round" d="M116.1 336.9L124.4 338.2M96.8 333.8L99.6 338"/>
<path fill="#e8200c" d="M119 297.4h2.4v2.4h-2.4zM138.4 335.4h2.4v2.4h-2.4z"/>
<g filter="url(#rough)">
<path fill="#1717d0" d="M95.3 296.5h2.9v2.9h-2.9zM105 297.2h2.9v2.9h-2.9zM116 307.5h2.9v2.9h-2.9zM128.5 311.7h2.9v2.9h-2.9zM135.4 311.7h2.9v2.9h-2.9zM153.7 315h2v2h-2zM187.7 315h2v2h-2zM197.7 315h2v2h-2zM201.7 315h2v2h-2zM211.7 315h2v2h-2zM151.7 317h2v2h-2zM155.7 317h2v2h-2zM193.7 317h2v2h-2zM215.7 317h4v2h-4zM149.7 319h2v2h-2zM167.7 319h2v2h-2zM173.7 319h2v2h-2zM181.7 319h2v2h-2zM165.7 321h2v2h-2zM171.7 321h2v2h-2zM189.7 321h2v2h-2zM193.7 321h2v2h-2zM219.7 321h2v2h-2zM167.7 323h2v2h-2zM175.7 323h2v2h-2zM179.7 323h2v2h-2zM195.7 323h2v2h-2zM175.7 325h2v2h-2zM183.7 325h8v2h-8zM151.7 327h2v2h-2zM163.7 327h2v2h-2zM177.7 327h2v2h-2zM159.7 329h2v2h-2zM179.7 329h4v2h-4zM195.7 329h2v2h-2zM219.7 329h2v2h-2zM149.7 331h2v2h-2zM155.7 331h2v2h-2zM163.7 331h2v2h-2zM171.7 331h2v2h-2zM179.7 331h2v2h-2zM217.7 331h2v2h-2zM193.7 333h2v2h-2zM179.7 335h2v2h-2zM161.7 337h2v2h-2zM175.7 337h4v2h-4zM185.7 337h2v2h-2zM193.7 337h2v2h-2zM197.7 337h2v2h-2zM201.7 337h2v2h-2zM199.7 339h2v2h-2zM205.7 341h2v2h-2zM233 318.2h4v2h-4zM221 320.2h2v2h-2zM233 320.2h6v2h-6zM221 322.2h2v2h-2zM233 322.2h2v2h-2zM237 322.2h2v2h-2zM255 322.2h2v2h-2zM221 324.2h4v2h-4zM239 324.2h2v2h-2zM245 324.2h2v2h-2zM223 326.2h4v2h-4zM231 326.2h2v2h-2zM237 326.2h4v2h-4zM223 328.2h18v2h-18zM251 328.2h2v2h-2zM223 330.2h8v2h-8zM233 330.2h8v2h-8zM225 332.2h4v2h-4zM231 332.2h14v2h-14zM229 334.2h4v2h-4zM239 334.2h2v2h-2zM243 334.2h10v2h-10zM229 336.2h4v2h-4zM235 336.2h2v2h-2zM241 336.2h6v2h-6zM249 336.2h8v2h-8zM225 338.2h8v2h-8zM235 338.2h4v2h-4zM241 338.2h2v2h-2zM245 338.2h2v2h-2zM249 338.2h2v2h-2zM221 340.2h2v2h-2zM229 340.2h8v2h-8zM241 340.2h2v2h-2zM223 342.2h8v2h-8zM223 344.2h2v2h-2z"/>
</g>
<path fill="none" stroke="#e8200c" stroke-width="1.6" stroke-linecap="butt" stroke-linejoin="round" d="M229.3 318.6L230 325.5M233.4 320L234.1 328.3"/>
<path fill="#e8200c" d="M244.6 323h2.4v2.4h-2.4zM232.2 334h2.4v2.4h-2.4zM247.4 343.7h2.4v2.4h-2.4zM193.6 343h2.4v2.4h-2.4zM183.9 313.3h2.4v2.4h-2.4z"/>
<path fill="none" stroke="#f07a10" stroke-width="2.4" stroke-linecap="butt" stroke-linejoin="round" d="M161.6 329.7L171.3 331.1"/>
<g filter="url(#rough)">
<path fill="#1717d0" d="M160.3 333.8L171.3 332.4L172.7 338L164.4 339.3ZM230.6 382.1L237.5 382.1L237.5 393.1L233.4 393.1ZM245.8 382.1L256.9 383.5L256.9 390.4L247.2 389Z"/>
<path fill="none" stroke="#1717d0" stroke-width="2.9" stroke-linecap="round" stroke-linejoin="round" d="M216.2 406.3L216.9 410L217.5 413.8"/>
</g>
<path fill="#e8200c" d="M215.6 406.4h2.4v2.4h-2.4z"/>
<g filter="url(#rough)">
<path fill="none" stroke="#1717d0" stroke-width="3.7" stroke-linecap="round" stroke-linejoin="round" d="M241 429.7L241.4 432.8L242 435.8L243.3 438.6L245.1 442.3L246.5 446.3"/>
</g>
<path fill="#e8200c" d="M240.5 433.3h2.4v2.4h-2.4zM241.9 443.7h2.4v2.4h-2.4z"/>
<g filter="url(#rough)">
<path fill="#1717d0" d="M207 418.5h3.1v3.1h-3.1zM136.7 444.1h3.1v3.1h-3.1zM182.2 408.2h3.1v3.1h-3.1zM202.9 375.1h3.1v3.1h-3.1zM236 355.7h3.1v3.1h-3.1zM226.4 355.7h3.1v3.1h-3.1zM238.8 397.8h3.1v3.1h-3.1zM197.4 384.7h3.1v3.1h-3.1z"/>
</g>
<path fill="#e8200c" d="M128 449.9h2.4v2.4h-2.4zM80.4 392.6h2.4v2.4h-2.4z"/>
<g filter="url(#rough)">
<path fill="#1717d0" d="M253.5 319.3L275.9 317.3L296.6 314.5L317.3 310.6L338 304.8L358.7 296.6L372.5 291L386.3 285.5L397.3 280L402.2 275.9L407 282.8L411.1 287.6L407 292.4L398.7 297.9L390.4 303.5L386.3 309.3L379.4 307.9L365.6 305.1L351.8 309.3L338 313.4L324.2 318.9L310.4 320.3L296.6 318.9L282.8 321.7L269 324.4L266.9 335.2L263.5 344.9L253.5 350.4Z"/>
<path fill="none" stroke="#1717d0" stroke-width="2.6" stroke-linecap="round" stroke-linejoin="round" d="M411.1 288L414.2 287.7L417.3 287.7L420.4 287.7L423.5 288L426.6 287.7L429.8 288L432.9 287.8L436 287.6L439.1 287.7L442.2 287.7L445.3 287.4L448.4 287.7L451.5 287.6L454.5 287.5L457.6 287.4L460.6 287L463.7 287.3L466.8 287.4L469.8 286.9L472.9 286.9L476 286.9L479.1 286.8L482.2 286.7L485.3 287L488.4 286.7L491.5 286.9L494.6 286.6L497.8 286.6L500.9 286.7L504 286.4L507.1 286.7L510.2 286.3"/>
</g>
<path fill="none" stroke="#e8200c" stroke-width="1.8" stroke-linecap="butt" stroke-linejoin="round" d="M411.1 286.9L448.4 286.6M455.3 286.5L510.2 285.8"/>
<g filter="url(#rough)">
<path fill="#1717d0" d="M413.9 288.3L431.8 291L441.5 288.3L434.6 294.1L424.9 296.8L418 294.1Z"/>
<path fill="none" stroke="#1717d0" stroke-width="6.0" stroke-linecap="round" stroke-linejoin="round" d="M259.3 347.6L261.8 350.3L263.7 353.6L266.5 355.9L269.5 358.2L271.1 360.9L273.5 362.9L275.1 365.6L277 368L279.3 370.1L281.2 372.5L283.1 374.9L284.7 378.1L287.2 380.5L290.1 382.5L291.5 385.8L294.7 387.5L297.1 389.9L298.9 392.7L301.6 394.5L303.5 397.3L305.7 399.7L308.2 401.8L309.9 404.7L313.5 406.6L316.3 409.3L318.7 412.5"/>
<path fill="none" stroke="#1717d0" stroke-width="6.9" stroke-linecap="round" stroke-linejoin="round" d="M318.7 411.1L319.9 408L322.1 405.3L323.5 402.3L324.7 399.1L326.2 396.1L328.5 393.6L329.5 390.3L331.4 387.5L332.9 384.5L335 381.8L336.1 378.6L337.4 375.5L339 372.6L340.9 369.8L342.4 367L344.8 364.9L346 361.9L348 359.5L350.3 357.3L352.2 354.8L353.1 351.4L355.9 349.3L357.1 346.1L359.5 343.7L360.9 340.6L362.3 337.6L364.9 335L366.4 331.7L368.5 328.7L370.7 325.9L372.2 322.6L373.8 319.8L375.6 317L377.1 314.1L379.9 312.2L381.7 309L384.3 306.5L386.3 303.5"/>
<path fill="none" stroke="#1717d0" stroke-width="5.2" stroke-linecap="round" stroke-linejoin="round" d="M318 416.6L315.7 418.7L314.5 421.7L312.7 424.2L310.9 426.7L307.6 428.7L305.6 431.8L303.7 435L300.9 437.5L298 439.6L296.2 442.7L294.4 445.8L292.4 448.7L289.4 450.9L287.3 453.5L284.9 456L282.4 458.4L280.6 461.3L278.6 464.1L275.9 466.3L274 468.7L271.8 470.7M320.1 418.7L323.3 419.9L325.7 422.7L329.1 423.8L332 425.6L335.1 427.1L338.1 428.6L340.8 430.6L343.9 431.4L347 432.4L349.8 433.7L352.6 435.3L355.7 436.3L358.6 437.8L361.5 438.6L364.7 438.5L367.5 439.8L370.7 439.8L373.5 441.1L376.6 441.6L379.3 443.1L382 444.6L385.1 445.1L387.5 447.3L390.4 448.3"/>
<path fill="none" stroke="#1717d0" stroke-width="5.5" stroke-linecap="round" stroke-linejoin="round" d="M390.4 448.3L390.9 452L391.2 455.7L391.8 459.2L392.3 463.2L392.9 467.1L394.6 470.7"/>
<path fill="none" stroke="#1717d0" stroke-width="5.2" stroke-linecap="round" stroke-linejoin="round" d="M390.4 447.7L393 445.6L396.2 444.6L398.8 442.7L401.6 440.9L403.9 438.5L407.4 437.8L409.9 435.6L412.8 433.8L414.9 431L418.4 430.1L421.1 428.2L423.8 426.6L426.3 424.6L429.3 423.3L431.8 421.4M431.8 421.4L432.5 418.4L433.8 415.5L434.5 412.5L433.9 409.2L435.1 406.3L435.3 403.2L437 400.4L437.6 397.3L437.9 394.2L438.3 391.1L439 388.1L439.3 384.9L440.5 382L441.4 379L442 375.9L441.9 372.7L442.6 369.6L443.8 366.8L444.4 363.9L444 360.7L445.5 357.9L446 354.9L446.1 351.9L446.5 348.9L447.3 345.6L447.9 342.3L448.8 339.1L449.7 335.8L450.1 332.5L449.8 329.3L450.7 326.3L451.9 323.4L452.1 320.3L452.5 317.3M452.5 317.3L455.8 317.5L459.2 317.7L462.4 318.7L465.8 318.4L469.1 319.2L472.5 319L476 318.9L479.4 319.3L482.9 319.7L486.3 319.5L489.8 319.1L493 319.1L496 320.9L499.2 320.6L502.4 321.2L505.6 321.3L508.8 321.4L511.9 322.4"/>
<path fill="none" stroke="#1717d0" stroke-width="3.7" stroke-linecap="round" stroke-linejoin="round" d="M452.5 317.3L450.1 315.3L448.4 312.7"/>
<path fill="none" stroke="#1717d0" stroke-width="5.2" stroke-linecap="round" stroke-linejoin="round" d="M431.8 421.4L434.7 422.5L437.4 423.7L439.8 425.9L442.9 426.3L445.6 427.8L448.3 429.3L451.5 429.2L454.3 430.5L457.4 430.8L460.3 431.9L463.3 432.7L466.2 433.7L469.2 434.1L472 435.6L474.8 437.1L477.9 437.8L481.1 437.9L483.9 439.4L486.9 440.2L489.7 441.8L493.1 441.8L496.1 443L499.2 444.2L502.5 444.3L505.7 445.1L508.9 445.8L511.9 447.2"/>
<path fill="#1717d0" d="M313.2 402.8L321.4 404.2L322.8 413.8L317.3 418L311.8 412.5ZM367.5 309.3h6v2h-6zM369.5 311.3h2v2h-2zM373.5 311.3h2v2h-2zM357.5 313.3h2v2h-2zM361.5 313.3h2v2h-2zM367.5 313.3h2v2h-2zM371.5 313.3h2v2h-2zM335.5 315.3h2v2h-2zM367.5 315.3h4v2h-4zM329.5 317.3h4v2h-4zM359.5 317.3h2v2h-2zM369.5 317.3h2v2h-2zM373.5 317.3h2v2h-2zM295.5 319.3h6v2h-6zM331.5 319.3h2v2h-2zM345.5 319.3h4v2h-4zM357.5 319.3h2v2h-2zM361.5 319.3h4v2h-4zM287.5 321.3h2v2h-2zM291.5 321.3h2v2h-2zM315.5 321.3h2v2h-2zM331.5 321.3h2v2h-2zM339.5 321.3h2v2h-2zM357.5 321.3h2v2h-2zM277.5 323.3h2v2h-2zM293.5 323.3h4v2h-4zM307.5 323.3h2v2h-2zM315.5 323.3h4v2h-4zM331.5 323.3h2v2h-2zM341.5 323.3h6v2h-6zM365.5 323.3h2v2h-2zM273.5 325.3h2v2h-2zM277.5 325.3h4v2h-4zM291.5 325.3h6v2h-6zM303.5 325.3h2v2h-2zM307.5 325.3h4v2h-4zM331.5 325.3h2v2h-2zM339.5 325.3h4v2h-4zM347.5 325.3h2v2h-2zM361.5 325.3h2v2h-2zM367.5 325.3h2v2h-2zM275.5 327.3h4v2h-4zM281.5 327.3h2v2h-2zM299.5 327.3h2v2h-2zM337.5 327.3h8v2h-8zM275.5 329.3h2v2h-2zM279.5 329.3h6v2h-6zM299.5 329.3h10v2h-10zM331.5 329.3h2v2h-2zM347.5 329.3h6v2h-6zM355.5 329.3h2v2h-2zM267.5 331.3h2v2h-2zM273.5 331.3h6v2h-6zM285.5 331.3h2v2h-2zM301.5 331.3h2v2h-2zM333.5 331.3h2v2h-2zM347.5 331.3h4v2h-4zM271.5 333.3h2v2h-2zM277.5 333.3h2v2h-2zM283.5 333.3h2v2h-2zM287.5 333.3h2v2h-2zM305.5 333.3h2v2h-2zM311.5 333.3h2v2h-2zM329.5 333.3h2v2h-2zM339.5 333.3h4v2h-4zM351.5 333.3h4v2h-4zM361.5 333.3h2v2h-2zM277.5 335.3h2v2h-2zM285.5 335.3h4v2h-4zM307.5 335.3h2v2h-2zM327.5 335.3h2v2h-2zM341.5 335.3h2v2h-2zM355.5 335.3h2v2h-2zM359.5 335.3h4v2h-4zM267.5 337.3h6v2h-6zM281.5 337.3h2v2h-2zM287.5 337.3h2v2h-2zM297.5 337.3h2v2h-2zM303.5 337.3h6v2h-6zM343.5 337.3h2v2h-2zM359.5 337.3h2v2h-2zM273.5 339.3h2v2h-2zM285.5 339.3h4v2h-4zM299.5 339.3h4v2h-4zM313.5 339.3h2v2h-2zM319.5 339.3h2v2h-2zM335.5 339.3h6v2h-6zM359.5 339.3h2v2h-2zM273.5 341.3h2v2h-2zM311.5 341.3h2v2h-2zM315.5 341.3h6v2h-6zM335.5 341.3h2v2h-2zM339.5 341.3h2v2h-2zM267.5 343.3h2v2h-2zM271.5 343.3h2v2h-2zM275.5 343.3h2v2h-2zM281.5 343.3h2v2h-2zM319.5 343.3h2v2h-2zM329.5 343.3h8v2h-8zM271.5 345.3h2v2h-2zM281.5 345.3h2v2h-2zM307.5 345.3h2v2h-2zM311.5 345.3h4v2h-4zM317.5 345.3h2v2h-2zM327.5 345.3h2v2h-2zM347.5 345.3h2v2h-2zM275.5 347.3h2v2h-2zM297.5 347.3h2v2h-2zM325.5 347.3h2v2h-2zM349.5 347.3h4v2h-4zM265.5 349.3h2v2h-2zM281.5 349.3h2v2h-2zM333.5 349.3h2v2h-2zM347.5 349.3h2v2h-2zM351.5 349.3h2v2h-2zM267.5 351.3h4v2h-4zM309.5 351.3h2v2h-2zM315.5 351.3h2v2h-2zM323.5 351.3h2v2h-2zM337.5 351.3h2v2h-2zM343.5 351.3h4v2h-4zM267.5 353.3h6v2h-6zM303.5 353.3h4v2h-4zM323.5 353.3h2v2h-2zM329.5 353.3h2v2h-2zM339.5 353.3h4v2h-4zM273.5 355.3h2v2h-2zM279.5 355.3h2v2h-2zM289.5 355.3h2v2h-2zM301.5 355.3h6v2h-6zM309.5 355.3h2v2h-2zM313.5 355.3h2v2h-2zM321.5 355.3h2v2h-2zM325.5 355.3h2v2h-2zM339.5 355.3h2v2h-2zM345.5 355.3h2v2h-2zM279.5 357.3h4v2h-4zM309.5 357.3h4v2h-4zM315.5 357.3h2v2h-2zM325.5 357.3h2v2h-2zM333.5 357.3h2v2h-2zM339.5 357.3h2v2h-2zM273.5 359.3h2v2h-2zM277.5 359.3h2v2h-2zM281.5 359.3h2v2h-2zM285.5 359.3h4v2h-4zM291.5 359.3h2v2h-2zM301.5 359.3h2v2h-2zM311.5 359.3h2v2h-2zM315.5 359.3h2v2h-2zM321.5 359.3h4v2h-4zM333.5 359.3h2v2h-2zM339.5 359.3h4v2h-4zM273.5 361.3h8v2h-8zM285.5 361.3h6v2h-6zM301.5 361.3h2v2h-2zM311.5 361.3h2v2h-2zM325.5 361.3h2v2h-2zM339.5 361.3h2v2h-2zM343.5 361.3h2v2h-2zM279.5 363.3h2v2h-2zM285.5 363.3h2v2h-2zM289.5 363.3h2v2h-2zM297.5 363.3h2v2h-2zM323.5 363.3h2v2h-2zM339.5 363.3h2v2h-2zM279.5 365.3h2v2h-2zM325.5 365.3h2v2h-2zM329.5 365.3h2v2h-2zM279.5 367.3h2v2h-2zM285.5 367.3h2v2h-2zM287.5 369.3h2v2h-2zM325.5 369.3h2v2h-2zM329.5 369.3h2v2h-2zM333.5 369.3h2v2h-2zM281.5 371.3h2v2h-2zM285.5 371.3h2v2h-2zM311.5 371.3h4v2h-4zM323.5 371.3h6v2h-6zM335.5 371.3h4v2h-4zM285.5 373.3h2v2h-2zM289.5 373.3h2v2h-2zM311.5 373.3h4v2h-4zM333.5 373.3h2v2h-2zM299.5 375.3h2v2h-2zM317.5 375.3h2v2h-2zM335.5 375.3h2v2h-2zM289.5 377.3h4v2h-4zM295.5 377.3h10v2h-10zM311.5 377.3h2v2h-2zM319.5 377.3h2v2h-2zM323.5 377.3h4v2h-4zM289.5 379.3h2v2h-2zM299.5 379.3h2v2h-2zM315.5 379.3h2v2h-2zM321.5 379.3h2v2h-2zM309.5 381.3h2v2h-2zM315.5 381.3h2v2h-2zM323.5 381.3h2v2h-2zM297.5 383.3h4v2h-4zM305.5 383.3h2v2h-2zM325.5 383.3h2v2h-2zM297.5 385.3h2v2h-2zM307.5 385.3h8v2h-8zM325.5 385.3h2v2h-2zM297.5 387.3h2v2h-2zM299.5 389.3h2v2h-2zM299.5 391.3h2v2h-2zM303.5 391.3h2v2h-2zM303.5 393.3h2v2h-2zM313.5 393.3h2v2h-2zM307.5 395.3h2v2h-2zM305.5 397.3h2v2h-2zM307.5 399.3h2v2h-2zM309.5 401.3h2v2h-2zM313.5 401.3h2v2h-2z"/>
<path fill="none" stroke="#1717d0" stroke-width="4.1" stroke-linecap="round" stroke-linejoin="round" d="M269 335.5L272.5 335.4L275.9 335.3L279.3 334.7L282.8 335L286.3 334.5L289.7 334.3L292.7 334.3L295.6 335.5L298.5 336.2L301.6 336.1L304.4 337.3L307.5 337.4L310.4 338.5L313.9 338.2L317.3 337.4L320.7 336.9L324.2 336.6L327.6 336.1L330.9 336.2L333.6 337.6L335.7 340L338.2 341.8L340.8 343.2L344.4 345L348 346.5L351.8 347.6"/>
<path fill="none" stroke="#1717d0" stroke-width="3.7" stroke-linecap="round" stroke-linejoin="round" d="M332.5 350.4L333.8 353.5L335.4 356.5L336.4 359.8L338 362.8"/>
<path fill="none" stroke="#1717d0" stroke-width="3.1" stroke-linecap="round" stroke-linejoin="round" d="M349 317.3L349.7 320.7L350.2 324.2L351.3 327.6L351.8 331.1"/>
<path fill="none" stroke="#1717d0" stroke-width="2.9" stroke-linecap="round" stroke-linejoin="round" d="M354.6 317.3L354.9 320.3L355.4 323.4L356.1 326.4L356.9 329.4L357.3 332.4"/>
<path fill="none" stroke="#1717d0" stroke-width="3.3" stroke-linecap="round" stroke-linejoin="round" d="M302.1 374.5L305.2 374.1L308.3 373.7L311.5 373.4L314.5 372.7"/>
</g>
<path fill="none" stroke="#f07a10" stroke-width="2.2" stroke-linecap="butt" stroke-linejoin="round" d="M273.1 329.7L329.7 338.2M284.2 321.4L296.6 324.2"/>
<path fill="none" stroke="#f07a10" stroke-width="2.4" stroke-linecap="butt" stroke-linejoin="round" d="M303.5 390.7L318.7 394.8"/>
<path fill="none" stroke="#e8200c" stroke-width="2.4" stroke-linecap="butt" stroke-linejoin="round" d="M344.9 307.6L333.9 321.7"/>
<path fill="none" stroke="#e8200c" stroke-width="3.2" stroke-linecap="butt" stroke-linejoin="round" d="M318 354.5L307.6 370.4"/>
<path fill="none" stroke="#f07a10" stroke-width="2.4" stroke-linecap="butt" stroke-linejoin="round" d="M372.5 312L368.6 328.6"/>
<path fill="none" stroke="#e8200c" stroke-width="2" stroke-linecap="butt" stroke-linejoin="round" d="M351.8 314.5L347.9 328.6M350.4 339.3L351.8 347.6"/>
<path fill="#e8200c" d="M285.7 380.9h2.4v2.4h-2.4zM349.2 347.8h2.4v2.4h-2.4z"/>
<g filter="url(#rough)">
<path fill="#1717d0" d="M255.2 383.5L260.7 391.8L269 397.3L270.4 404.2L264.9 411.1L260.7 405.6L255.2 397.3Z"/>
</g>
<path fill="none" stroke="#e8200c" stroke-width="3" stroke-linecap="butt" stroke-linejoin="round" d="M256.6 394.5L262.1 404.2"/>
<g filter="url(#rough)">
<path fill="#1717d0" d="M256.4 374.4h3.1v3.1h-3.1zM277.8 410.9h3.1v3.1h-3.1zM287.5 421.3h3.1v3.1h-3.1zM286.1 428.9h3.1v3.1h-3.1zM401.3 323.3h3.1v3.1h-3.1zM390.3 333.7h3.1v3.1h-3.1zM422 346.8h3.1v3.1h-3.1zM436.5 347.5h3.1v3.1h-3.1zM369.6 365.4h3.1v3.1h-3.1zM417.9 368.2h3.1v3.1h-3.1zM361.3 373.7h3.1v3.1h-3.1zM420.6 301.2h3.1v3.1h-3.1zM426.2 301.2h3.1v3.1h-3.1zM445.5 297.8h3.1v3.1h-3.1zM408.2 293.6h3.1v3.1h-3.1z"/>
</g>
<path fill="none" stroke="#f07a10" stroke-width="3" stroke-linecap="butt" stroke-linejoin="round" d="M314.5 417.3L318 418"/>
</g>
<g id="p2">
<path fill="none" stroke="#e8200c" stroke-width="3.8" stroke-linecap="butt" stroke-linejoin="round" d="M117.8 233.8L120.1 221.3L123.5 208.8L129.2 196.3L137.2 182.6L146.3 170.1L157.6 157.6L171.3 146.3L186 136.1L203.1 127L220.1 120.1L237.2 115.6L254.7 113.9L274 115.6L291 119.6L308.1 125.8L325.1 133.8L339.9 142.9L353.5 154.2L364.9 166.7L374 179.2L381.9 194L387.6 207.6L392.2 221.3L395.6 234.9L397.3 248.6L397.8 262.2"/>
<path fill="#e8e81c" filter="url(#ytex)" d="M254.7 113.9L274 115.6L291 119.6L308.1 125.8L325.1 133.8L339.9 142.9L353.5 154.2L364.9 166.7L374 179.2L381.9 194L387.6 207.6L392.2 221.3L395.6 234.9L397.3 248.6L397.8 262.2L397.8 270.1L403.5 274.7L406.9 280.4L404.7 284.9L399 287.2L393.3 291.7L385.3 296.3L376.3 299.7L364.9 303.1L353.5 307.6L342.2 311.1L330.8 315.6L319.4 317.9L308.1 319L296.7 321.3L279.7 324.7L262.6 327L245.6 325.8L237.2 323.6L214.4 319L191.7 316.7L174.7 313.3L157.6 308.8L144 303.1L132.6 296.3L121.3 290.6L111 287.2L105.3 283.8L104.2 277L106.5 270.1L112.2 264.5L117.3 262.2L116.7 248.6L117.8 233.8L120.1 221.3L123.5 208.8L129.2 196.3L137.2 182.6L146.3 170.1L157.6 157.6L171.3 146.3L186 136.1L203.1 127L220.1 120.1L237.2 115.6Z"/>
<path fill="url(#ps4)" d="M256.5 117.9L294 122.4L322.4 134.9L294 150.8L265.6 163.3L253.1 157.6L251.9 137.2Z"/>
<g filter="url(#rough)">
<path fill="none" stroke="#1717d0" stroke-width="3.0" stroke-linecap="round" stroke-linejoin="round" d="M118.4 233.8L118.8 230.8L120 227.9L120.2 224.9L120.9 221.9L121.9 218.8L122.8 215.7L123.9 212.7L124.3 209.4L125.8 206.3L127.1 203.1L128.7 200.1L130 196.9L131.9 194.4L133.1 191.4L134.9 188.8L136.6 186.1L138.2 183.4L139.8 180.7L141.5 178.2L143.5 175.8L145.6 173.5L147.3 171L149.6 168.5L151.9 166L154.1 163.4L156.3 160.8L158.7 158.5L161.3 156.1L164 153.8L166.6 151.4L169.5 149.3L172.3 147.2L175.1 144.9L178.2 143L180.9 140.7L183.9 138.7L186.8 136.6L189.9 135.4L192.7 133.8L195.4 132.1L198.4 130.9L201.2 129.3L204 127.7L206.7 126.2L209.7 125.5L212.6 124.5L215.2 122.8L218.1 121.8L221 120.9L224.5 120L227.9 119.2L231.3 118.2L234.7 117.2L238.1 116.5L241.2 115.9L244.4 115.7L247.5 115.1L250.6 115.1L253.7 114.6L257 114.8L260.2 115.1L263.4 115.6L266.6 115.9L269.8 116.1L273.1 116.3L276.5 116.9L279.8 118.1L283.3 118.6L286.6 119.8L290 120.5L293 121.1L295.8 122.4L298.6 123.4L301.4 124.7L304.2 125.7L307.2 126.4L309.9 128L312.9 129L315.7 130.5L318.4 132L321.4 133L324.2 134.4L327.2 136.2L330 138.2L332.9 140.2L336.2 141.5L338.9 143.7L341.6 145.9L344.6 147.9L347.2 150.4L349.7 152.8L352.5 155L355 157.3L357.2 159.9L359.6 162.3L361.6 165L364 167.4L365.6 170.1L367.7 172.4L369.2 175.1L371.5 177.2L372.8 180L374.8 182.8L376 185.9L377.8 188.8L379.3 191.8L381.1 194.7L382.4 198.1L384 201.5L385.1 205L387 208.2L387.9 211.7L389 215.1L390.1 218.6L391.4 221.9L391.8 225.3L392.6 228.5L393.6 231.7L394.6 234.9"/>
<path fill="#1717d0" d="M119 212.2L132.6 217.9L144 221.3L150.8 225.8L159.9 233.8L169 239.5L178.1 241.7L187.2 238.3L191.7 242.9L200.8 245.1L208.8 241.7L214.4 237.2L223.5 228.1L228.1 223.6L234.9 216.7L240.6 209.9L246.3 200.8L250.8 191.7L254.2 182.6L259.9 177L260.3 180.4L269.4 187.2L279.7 194L289.9 200.8L300.1 207.6L308.1 214.5L317.2 221.3L325.1 227L330.8 230.4L342.2 229.2L351.3 230.4L359.2 232.6L370.6 231.5L381.9 230.4L394.4 230.4L395.6 234.9L397.3 248.6L397.8 262.2L397.8 270.1L403.5 274.7L406.9 280.4L404.7 284.9L399 287.2L393.3 291.7L385.3 296.3L376.3 299.7L364.9 303.1L353.5 307.6L342.2 311.1L330.8 315.6L319.4 317.9L308.1 319L296.7 321.3L279.7 324.7L262.6 327L245.6 325.8L237.2 323.6L214.4 319L191.7 316.7L174.7 313.3L157.6 308.8L144 303.1L132.6 296.3L121.3 290.6L111 287.2L105.3 283.8L104.2 277L106.5 270.1L112.2 264.5L117.3 262.2L116.7 248.6L117.8 233.8Z"/>
<path fill="#e8e81c" d="M120.1 228.1L128.1 223.6L138.3 228.1L148.5 236.1L157.6 242.9L154.2 248.6L144 254.2L142.8 262.2L134.9 266.7L125.8 267.9L119 262.2L117.8 245.1ZM253.5 189.5L262.6 186.1L269.4 192.9L278.5 197.4L285.3 205.4L294.4 209.9L299 216.7L296.7 222.4L285.3 222.4L278.5 224.7L269.4 228.1L260.3 227L251.3 223.6L239.9 227L237.6 222.4L244.4 212.2L249 203.1ZM212.6 264.5L222.8 262.2L228.5 255.4L235.3 259.9L244.4 262.2L253.5 266.7L262.6 272.4L271.7 278.1L274 282.6L267.2 287.2L255.8 284.9L251.3 290.6L249 298.6L237.6 296.3L228.5 298.6L226.3 290.6L220.6 289.5L214.9 280.4L212.6 273.6ZM274 256.5L285.3 255.4L291 264.5L300.1 267.9L305.8 273.6L308.1 280.4L303.5 287.2L294.4 289.5L285.3 284.9L278.5 279.2L276.3 271.3L272.8 264.5ZM353.5 245.1L359.2 237.2L370.6 233.8L383.1 233.8L392.2 234.9L395 248.6L394.4 262.2L392.2 271.3L385.3 275.8L378.5 281.5L369.4 284.9L362.6 282.6L356.9 275.8L352.4 267.9L351.3 256.5ZM296.7 228.1L308.1 225.8L311.5 233.8L308.1 241.7L300.1 239.5ZM249 240.6L260.3 239.5L262.6 246.3L253.5 252L249 248.6ZM321.7 246.3L336.5 247.4L341 254.2L339.9 262.2L330.8 261.1L324 253.1ZM300.1 256.5L308.1 250.8L313.8 259.9L310.3 266.7L303.5 262.2ZM317.2 262.2L325.1 257.6L330.8 264.5L328.5 273.6L319.4 271.3ZM325.1 286.1L330.8 286.1L330.8 290.6L325.1 290.6ZM299 306.5L308.1 305.4L308.6 309.9L299.5 310.5ZM286.5 314.5L294.4 313.3L296.7 319L287.6 319ZM166.7 300.8L175.8 297.4L176.9 302L169 306.5ZM194 277L199.7 275.8L200.2 280.4L195.1 281.5ZM149.7 283.8L154.2 284.3L153.6 289.5L149.7 288.9ZM149.7 290.6L156.5 290.6L155.3 294.6L150.2 294ZM191.7 313.3L203.1 311.1L213.3 314.5L203.1 317.9L194 316.7ZM225.8 245.1L230.3 250.8L229.8 259.9L226.4 258.8ZM198.5 236.1L209.9 230.4L214.4 232.6L203.1 239.5Z"/>
<path fill="url(#ps5)" d="M353.5 245.1L359.2 237.2L370.6 233.8L383.1 233.8L392.2 234.9L395 248.6L394.4 262.2L392.2 271.3L385.3 275.8L378.5 281.5L369.4 284.9L362.6 282.6L356.9 275.8L352.4 267.9L351.3 256.5Z"/>
<path fill="#1717d0" d="M129.8 227.6h2v2h-2zM121.8 229.6h2v2h-2zM125.8 231.6h4v2h-4zM123.8 233.6h4v2h-4zM135.8 233.6h2v2h-2zM119.8 235.6h6v2h-6zM135.8 235.6h8v2h-8zM147.8 235.6h2v2h-2zM119.8 237.6h2v2h-2zM125.8 237.6h2v2h-2zM139.8 237.6h2v2h-2zM143.8 237.6h2v2h-2zM147.8 237.6h2v2h-2zM123.8 239.6h2v2h-2zM127.8 239.6h6v2h-6zM135.8 239.6h2v2h-2zM143.8 239.6h10v2h-10zM127.8 241.6h4v2h-4zM133.8 241.6h2v2h-2zM143.8 241.6h2v2h-2zM151.8 241.6h2v2h-2zM127.8 243.6h2v2h-2zM133.8 243.6h6v2h-6zM147.8 243.6h2v2h-2zM151.8 243.6h4v2h-4zM121.8 245.6h2v2h-2zM125.8 245.6h4v2h-4zM151.8 245.6h2v2h-2zM121.8 247.6h2v2h-2zM133.8 247.6h2v2h-2zM141.8 247.6h2v2h-2zM145.8 247.6h2v2h-2zM149.8 247.6h4v2h-4zM119.8 249.6h2v2h-2zM123.8 249.6h2v2h-2zM129.8 249.6h2v2h-2zM139.8 249.6h2v2h-2zM143.8 249.6h4v2h-4zM127.8 251.6h4v2h-4zM141.8 251.6h4v2h-4zM117.8 253.6h2v2h-2zM131.8 253.6h4v2h-4zM141.8 253.6h2v2h-2zM133.8 255.6h4v2h-4zM139.8 255.6h2v2h-2zM129.8 257.6h4v2h-4zM141.8 257.6h2v2h-2zM121.8 259.6h4v2h-4zM127.8 259.6h10v2h-10zM127.8 261.6h6v2h-6zM125.8 263.6h2v2h-2zM133.8 263.6h2v2h-2zM129.8 265.6h4v2h-4zM257.6 190.1h2v2h-2zM257.6 192.1h2v2h-2zM267.6 192.1h2v2h-2zM259.6 194.1h2v2h-2zM271.6 194.1h2v2h-2zM255.6 196.1h2v2h-2zM259.6 196.1h6v2h-6zM249.6 198.1h2v2h-2zM253.6 198.1h4v2h-4zM259.6 198.1h6v2h-6zM267.6 198.1h2v2h-2zM271.6 198.1h2v2h-2zM249.6 200.1h2v2h-2zM261.6 200.1h8v2h-8zM277.6 200.1h2v2h-2zM249.6 202.1h4v2h-4zM263.6 202.1h4v2h-4zM247.6 204.1h2v2h-2zM251.6 204.1h2v2h-2zM271.6 204.1h10v2h-10zM249.6 206.1h6v2h-6zM265.6 206.1h2v2h-2zM271.6 206.1h6v2h-6zM279.6 206.1h2v2h-2zM283.6 206.1h2v2h-2zM287.6 206.1h2v2h-2zM249.6 208.1h2v2h-2zM253.6 208.1h4v2h-4zM265.6 208.1h2v2h-2zM275.6 208.1h6v2h-6zM287.6 208.1h2v2h-2zM245.6 210.1h2v2h-2zM253.6 210.1h2v2h-2zM259.6 210.1h2v2h-2zM267.6 210.1h6v2h-6zM277.6 210.1h2v2h-2zM283.6 210.1h4v2h-4zM289.6 210.1h2v2h-2zM247.6 212.1h2v2h-2zM251.6 212.1h6v2h-6zM273.6 212.1h6v2h-6zM289.6 212.1h2v2h-2zM247.6 214.1h4v2h-4zM255.6 214.1h2v2h-2zM275.6 214.1h4v2h-4zM285.6 214.1h2v2h-2zM249.6 216.1h2v2h-2zM269.6 216.1h6v2h-6zM277.6 216.1h2v2h-2zM287.6 216.1h4v2h-4zM239.6 218.1h2v2h-2zM249.6 218.1h4v2h-4zM263.6 218.1h2v2h-2zM285.6 218.1h2v2h-2zM289.6 218.1h2v2h-2zM239.6 220.1h2v2h-2zM243.6 220.1h2v2h-2zM251.6 220.1h2v2h-2zM263.6 220.1h2v2h-2zM267.6 220.1h4v2h-4zM279.6 220.1h6v2h-6zM287.6 220.1h2v2h-2zM295.6 220.1h2v2h-2zM255.6 222.1h2v2h-2zM259.6 222.1h2v2h-2zM263.6 222.1h2v2h-2zM267.6 222.1h6v2h-6zM279.6 222.1h4v2h-4zM265.6 224.1h2v2h-2zM263.6 226.1h2v2h-2zM226.6 257.4h4v2h-4zM224.6 259.4h4v2h-4zM224.6 261.4h6v2h-6zM214.6 263.4h2v2h-2zM218.6 263.4h4v2h-4zM224.6 263.4h8v2h-8zM234.6 263.4h2v2h-2zM216.6 265.4h6v2h-6zM224.6 265.4h2v2h-2zM230.6 265.4h2v2h-2zM234.6 265.4h2v2h-2zM244.6 265.4h2v2h-2zM214.6 267.4h2v2h-2zM220.6 267.4h4v2h-4zM228.6 267.4h2v2h-2zM236.6 267.4h2v2h-2zM250.6 267.4h6v2h-6zM212.6 269.4h4v2h-4zM218.6 269.4h2v2h-2zM224.6 269.4h2v2h-2zM228.6 269.4h4v2h-4zM236.6 269.4h2v2h-2zM242.6 269.4h4v2h-4zM214.6 271.4h12v2h-12zM230.6 271.4h2v2h-2zM244.6 271.4h6v2h-6zM258.6 271.4h2v2h-2zM224.6 273.4h2v2h-2zM248.6 273.4h2v2h-2zM258.6 273.4h2v2h-2zM212.6 275.4h2v2h-2zM220.6 275.4h4v2h-4zM218.6 277.4h2v2h-2zM232.6 277.4h2v2h-2zM258.6 277.4h2v2h-2zM228.6 279.4h6v2h-6zM260.6 279.4h4v2h-4zM222.6 281.4h2v2h-2zM228.6 281.4h8v2h-8zM238.6 281.4h4v2h-4zM250.6 281.4h2v2h-2zM256.6 281.4h2v2h-2zM260.6 281.4h2v2h-2zM270.6 281.4h2v2h-2zM218.6 283.4h2v2h-2zM226.6 283.4h2v2h-2zM234.6 283.4h6v2h-6zM242.6 283.4h2v2h-2zM254.6 283.4h4v2h-4zM226.6 285.4h6v2h-6zM234.6 285.4h4v2h-4zM240.6 285.4h2v2h-2zM250.6 285.4h4v2h-4zM266.6 285.4h2v2h-2zM228.6 287.4h2v2h-2zM232.6 287.4h6v2h-6zM250.6 287.4h2v2h-2zM226.6 289.4h2v2h-2zM232.6 289.4h2v2h-2zM240.6 289.4h4v2h-4zM248.6 291.4h2v2h-2zM232.6 293.4h2v2h-2zM240.6 293.4h2v2h-2zM246.6 293.4h2v2h-2zM244.6 295.4h2v2h-2zM280.8 255.4h6v2h-6zM280.8 257.4h4v2h-4zM276.8 259.4h4v2h-4zM284.8 259.4h2v2h-2zM284.8 261.4h2v2h-2zM272.8 263.4h4v2h-4zM284.8 263.4h4v2h-4zM272.8 265.4h4v2h-4zM294.8 265.4h2v2h-2zM292.8 267.4h4v2h-4zM274.8 269.4h2v2h-2zM280.8 269.4h2v2h-2zM296.8 269.4h6v2h-6zM296.8 271.4h6v2h-6zM292.8 273.4h10v2h-10zM292.8 275.4h12v2h-12zM300.8 277.4h2v2h-2zM304.8 277.4h2v2h-2zM292.8 279.4h2v2h-2zM298.8 279.4h2v2h-2zM290.8 281.4h2v2h-2zM294.8 281.4h4v2h-4zM286.8 283.4h4v2h-4zM292.8 283.4h4v2h-4zM288.8 285.4h4v2h-4zM367.3 233.8h2v2h-2zM363.3 235.8h2v2h-2zM373.3 235.8h2v2h-2zM359.3 237.8h2v2h-2zM363.3 237.8h2v2h-2zM377.3 237.8h2v2h-2zM391.3 237.8h2v2h-2zM359.3 239.8h2v2h-2zM367.3 239.8h2v2h-2zM367.3 241.8h2v2h-2zM375.3 241.8h2v2h-2zM365.3 243.8h4v2h-4zM385.3 243.8h2v2h-2zM355.3 245.8h2v2h-2zM381.3 245.8h4v2h-4zM387.3 245.8h2v2h-2zM357.3 247.8h2v2h-2zM363.3 247.8h2v2h-2zM367.3 247.8h2v2h-2zM375.3 247.8h4v2h-4zM391.3 247.8h2v2h-2zM353.3 249.8h4v2h-4zM363.3 249.8h2v2h-2zM355.3 251.8h2v2h-2zM361.3 251.8h2v2h-2zM375.3 251.8h2v2h-2zM383.3 251.8h2v2h-2zM365.3 253.8h2v2h-2zM369.3 253.8h2v2h-2zM377.3 253.8h2v2h-2zM389.3 253.8h2v2h-2zM357.3 255.8h2v2h-2zM363.3 255.8h6v2h-6zM387.3 255.8h2v2h-2zM387.3 257.8h2v2h-2zM355.3 259.8h2v2h-2zM379.3 259.8h2v2h-2zM363.3 261.8h2v2h-2zM377.3 261.8h2v2h-2zM353.3 263.8h2v2h-2zM373.3 263.8h2v2h-2zM359.3 265.8h4v2h-4zM365.3 265.8h2v2h-2zM373.3 265.8h2v2h-2zM377.3 265.8h2v2h-2zM389.3 265.8h2v2h-2zM365.3 267.8h2v2h-2zM369.3 267.8h2v2h-2zM377.3 267.8h2v2h-2zM367.3 269.8h2v2h-2zM367.3 271.8h2v2h-2zM365.3 275.8h2v2h-2zM363.3 277.8h2v2h-2zM371.3 277.8h2v2h-2zM369.3 281.8h4v2h-4z"/>
<path fill="#e8e81c" d="M262.4 197.7h2v2h-2zM264.4 199.7h2v2h-2zM280.4 199.7h2v2h-2zM262.4 201.7h2v2h-2zM266.4 201.7h2v2h-2zM260.4 203.7h4v2h-4zM266.4 203.7h2v2h-2zM262.4 205.7h2v2h-2zM268.4 205.7h2v2h-2zM272.4 205.7h2v2h-2zM252.4 207.7h2v2h-2zM256.4 207.7h4v2h-4zM272.4 207.7h6v2h-6zM276.4 209.7h2v2h-2zM280.4 209.7h2v2h-2zM252.4 211.7h2v2h-2zM274.4 211.7h2v2h-2zM298.4 211.7h2v2h-2zM242.4 213.7h4v2h-4zM248.4 213.7h2v2h-2zM268.4 213.7h4v2h-4zM274.4 213.7h4v2h-4zM282.4 213.7h2v2h-2zM300.4 213.7h4v2h-4zM242.4 215.7h6v2h-6zM250.4 215.7h4v2h-4zM268.4 215.7h4v2h-4zM298.4 215.7h4v2h-4zM304.4 215.7h2v2h-2zM242.4 217.7h2v2h-2zM250.4 217.7h2v2h-2zM254.4 217.7h2v2h-2zM270.4 217.7h2v2h-2zM298.4 217.7h6v2h-6zM246.4 219.7h2v2h-2zM276.4 219.7h2v2h-2zM282.4 219.7h2v2h-2zM310.4 219.7h2v2h-2zM246.4 221.7h2v2h-2zM256.4 221.7h2v2h-2zM262.4 221.7h2v2h-2zM282.4 221.7h4v2h-4zM292.4 221.7h6v2h-6zM310.4 221.7h2v2h-2zM260.4 223.7h2v2h-2zM280.4 223.7h2v2h-2zM288.4 223.7h4v2h-4zM308.4 223.7h2v2h-2zM232.4 225.7h2v2h-2zM246.4 225.7h2v2h-2zM284.4 225.7h2v2h-2zM288.4 225.7h2v2h-2zM232.4 227.7h2v2h-2zM236.4 227.7h2v2h-2zM244.4 227.7h2v2h-2zM252.4 227.7h4v2h-4zM264.4 227.7h4v2h-4zM272.4 227.7h2v2h-2zM278.4 227.7h2v2h-2zM284.4 227.7h2v2h-2zM288.4 227.7h2v2h-2zM302.4 227.7h2v2h-2zM306.4 227.7h2v2h-2zM228.4 229.7h10v2h-10zM240.4 229.7h2v2h-2zM248.4 229.7h2v2h-2zM254.4 229.7h2v2h-2zM262.4 229.7h4v2h-4zM270.4 229.7h4v2h-4zM278.4 229.7h2v2h-2zM282.4 229.7h2v2h-2zM290.4 229.7h2v2h-2zM318.4 229.7h2v2h-2zM226.4 231.7h6v2h-6zM234.4 231.7h2v2h-2zM238.4 231.7h2v2h-2zM246.4 231.7h2v2h-2zM268.4 231.7h10v2h-10zM286.4 231.7h2v2h-2zM226.4 233.7h2v2h-2zM234.4 233.7h8v2h-8zM244.4 233.7h2v2h-2zM248.4 233.7h2v2h-2zM256.4 233.7h2v2h-2zM270.4 233.7h2v2h-2zM278.4 233.7h2v2h-2zM304.4 233.7h4v2h-4zM228.4 235.7h4v2h-4zM236.4 235.7h2v2h-2zM242.4 235.7h4v2h-4zM268.4 235.7h2v2h-2zM276.4 235.7h2v2h-2zM300.4 235.7h2v2h-2zM308.4 235.7h2v2h-2zM330.4 235.7h2v2h-2zM226.4 237.7h4v2h-4zM232.4 237.7h2v2h-2zM258.4 237.7h2v2h-2zM286.4 237.7h2v2h-2zM300.4 237.7h2v2h-2zM308.4 237.7h2v2h-2zM318.4 237.7h4v2h-4zM330.4 237.7h4v2h-4zM246.4 239.7h2v2h-2zM288.4 239.7h4v2h-4zM298.4 239.7h2v2h-2zM302.4 239.7h4v2h-4zM316.4 239.7h2v2h-2zM248.4 241.7h2v2h-2zM264.4 241.7h2v2h-2zM286.4 241.7h6v2h-6zM306.4 241.7h2v2h-2zM314.4 241.7h2v2h-2zM318.4 241.7h2v2h-2zM242.4 243.7h2v2h-2zM256.4 243.7h2v2h-2zM260.4 243.7h10v2h-10zM286.4 243.7h4v2h-4zM318.4 243.7h4v2h-4zM226.4 245.7h2v2h-2zM236.4 245.7h2v2h-2zM240.4 245.7h2v2h-2zM250.4 245.7h2v2h-2zM254.4 245.7h2v2h-2zM260.4 245.7h8v2h-8zM276.4 245.7h2v2h-2zM288.4 245.7h2v2h-2zM324.4 245.7h2v2h-2zM242.4 247.7h2v2h-2zM252.4 247.7h2v2h-2zM262.4 247.7h2v2h-2zM266.4 247.7h2v2h-2zM272.4 247.7h2v2h-2zM286.4 247.7h4v2h-4zM318.4 247.7h2v2h-2zM342.4 247.7h2v2h-2zM218.4 249.7h2v2h-2zM226.4 249.7h4v2h-4zM236.4 249.7h2v2h-2zM240.4 249.7h2v2h-2zM260.4 249.7h2v2h-2zM266.4 249.7h4v2h-4zM284.4 249.7h2v2h-2zM306.4 249.7h2v2h-2zM318.4 249.7h2v2h-2zM324.4 249.7h4v2h-4zM330.4 249.7h2v2h-2zM340.4 249.7h2v2h-2zM218.4 251.7h2v2h-2zM230.4 251.7h2v2h-2zM264.4 251.7h2v2h-2zM268.4 251.7h2v2h-2zM272.4 251.7h2v2h-2zM300.4 251.7h2v2h-2zM304.4 251.7h2v2h-2zM318.4 251.7h2v2h-2zM326.4 251.7h4v2h-4zM342.4 251.7h2v2h-2zM222.4 253.7h4v2h-4zM234.4 253.7h2v2h-2zM302.4 253.7h2v2h-2zM316.4 253.7h8v2h-8zM326.4 253.7h4v2h-4zM218.4 255.7h6v2h-6zM226.4 255.7h2v2h-2zM236.4 255.7h2v2h-2zM242.4 255.7h2v2h-2zM264.4 255.7h4v2h-4zM286.4 255.7h4v2h-4zM304.4 255.7h2v2h-2zM308.4 255.7h4v2h-4zM316.4 255.7h2v2h-2zM320.4 255.7h2v2h-2zM332.4 255.7h2v2h-2zM234.4 257.7h4v2h-4zM248.4 257.7h8v2h-8zM260.4 257.7h2v2h-2zM290.4 257.7h2v2h-2zM304.4 257.7h2v2h-2zM314.4 257.7h2v2h-2zM318.4 257.7h4v2h-4zM326.4 257.7h2v2h-2zM332.4 257.7h2v2h-2zM220.4 259.7h2v2h-2zM234.4 259.7h4v2h-4zM240.4 259.7h2v2h-2zM250.4 259.7h4v2h-4zM262.4 259.7h2v2h-2zM272.4 259.7h2v2h-2zM286.4 259.7h2v2h-2zM312.4 259.7h4v2h-4zM320.4 259.7h2v2h-2zM328.4 259.7h2v2h-2zM216.4 261.7h4v2h-4zM224.4 261.7h2v2h-2zM234.4 261.7h2v2h-2zM238.4 261.7h2v2h-2zM250.4 261.7h4v2h-4zM278.4 261.7h4v2h-4zM294.4 261.7h2v2h-2zM302.4 261.7h2v2h-2zM312.4 261.7h12v2h-12zM214.4 263.7h8v2h-8zM224.4 263.7h2v2h-2zM232.4 263.7h4v2h-4zM238.4 263.7h2v2h-2zM248.4 263.7h8v2h-8zM280.4 263.7h2v2h-2zM284.4 263.7h6v2h-6zM292.4 263.7h2v2h-2zM300.4 263.7h4v2h-4zM312.4 263.7h4v2h-4zM320.4 263.7h4v2h-4zM340.4 263.7h2v2h-2zM216.4 265.7h6v2h-6zM224.4 265.7h2v2h-2zM228.4 265.7h2v2h-2zM234.4 265.7h4v2h-4zM240.4 265.7h4v2h-4zM248.4 265.7h4v2h-4zM266.4 265.7h2v2h-2zM272.4 265.7h2v2h-2zM286.4 265.7h6v2h-6zM296.4 265.7h4v2h-4zM312.4 265.7h2v2h-2zM318.4 265.7h4v2h-4zM326.4 265.7h2v2h-2zM338.4 265.7h2v2h-2zM230.4 267.7h2v2h-2zM252.4 267.7h4v2h-4zM264.4 267.7h4v2h-4zM274.4 267.7h2v2h-2zM304.4 267.7h2v2h-2zM314.4 267.7h10v2h-10zM328.4 267.7h2v2h-2zM338.4 267.7h2v2h-2zM246.4 269.7h4v2h-4zM252.4 269.7h6v2h-6zM266.4 269.7h10v2h-10zM284.4 269.7h2v2h-2zM288.4 269.7h2v2h-2zM300.4 269.7h8v2h-8zM332.4 269.7h2v2h-2zM216.4 271.7h2v2h-2zM226.4 271.7h2v2h-2zM248.4 271.7h6v2h-6zM268.4 271.7h2v2h-2zM282.4 271.7h2v2h-2zM300.4 271.7h2v2h-2zM306.4 271.7h4v2h-4zM246.4 273.7h2v2h-2zM250.4 273.7h2v2h-2zM272.4 273.7h2v2h-2zM280.4 273.7h6v2h-6zM292.4 273.7h2v2h-2zM300.4 273.7h2v2h-2zM328.4 273.7h2v2h-2zM218.4 275.7h8v2h-8zM244.4 275.7h2v2h-2zM256.4 275.7h2v2h-2zM260.4 275.7h2v2h-2zM266.4 275.7h2v2h-2zM280.4 275.7h6v2h-6zM292.4 275.7h4v2h-4zM298.4 275.7h2v2h-2zM222.4 277.7h4v2h-4zM228.4 277.7h2v2h-2zM244.4 277.7h2v2h-2zM250.4 277.7h2v2h-2zM256.4 277.7h2v2h-2zM294.4 277.7h6v2h-6zM316.4 277.7h2v2h-2zM256.4 279.7h4v2h-4zM284.4 279.7h2v2h-2zM290.4 279.7h4v2h-4zM296.4 279.7h2v2h-2zM306.4 279.7h2v2h-2zM220.4 281.7h2v2h-2zM244.4 281.7h4v2h-4zM254.4 281.7h6v2h-6zM290.4 281.7h4v2h-4zM306.4 281.7h4v2h-4zM220.4 283.7h4v2h-4zM228.4 283.7h2v2h-2zM248.4 283.7h2v2h-2zM260.4 283.7h2v2h-2zM310.4 283.7h2v2h-2zM232.4 285.7h2v2h-2zM244.4 285.7h2v2h-2zM268.4 285.7h6v2h-6zM288.4 285.7h4v2h-4zM296.4 285.7h2v2h-2zM304.4 285.7h2v2h-2zM308.4 285.7h2v2h-2zM232.4 287.7h2v2h-2zM244.4 287.7h4v2h-4zM268.4 287.7h2v2h-2zM274.4 287.7h4v2h-4zM286.4 287.7h4v2h-4zM306.4 287.7h2v2h-2zM314.4 287.7h2v2h-2zM234.4 289.7h2v2h-2zM244.4 289.7h2v2h-2zM248.4 289.7h2v2h-2zM270.4 289.7h2v2h-2zM296.4 289.7h2v2h-2zM300.4 289.7h2v2h-2zM236.4 291.7h2v2h-2zM240.4 291.7h2v2h-2zM256.4 291.7h2v2h-2zM270.4 291.7h2v2h-2zM274.4 291.7h2v2h-2zM278.4 291.7h2v2h-2zM300.4 291.7h4v2h-4zM246.4 293.7h2v2h-2zM258.4 293.7h2v2h-2zM270.4 293.7h2v2h-2zM278.4 293.7h2v2h-2zM296.4 293.7h2v2h-2zM274.4 295.7h2v2h-2zM278.4 295.7h2v2h-2z"/>
<path fill="none" stroke="#1717d0" stroke-width="5.2" stroke-linecap="round" stroke-linejoin="round" d="M254.2 116.5L253.2 119.6L252.7 122.7L251.5 125.7L251.7 129.7L250.8 133.5L250.2 137.3L248.5 140.9L247.5 144.6L248 148.5L248.2 151.9L248 155.4M248 155.6L244.4 156.2L240.8 156.6L237.1 156L233.3 156.4L229.5 156.7L225.8 157.7L222.1 158.6L218.2 158L214.5 159.3L210.7 159.5L206.8 158.6L203.1 159.2L199.2 159.2L195.5 159.8L191.7 160.2L187.9 160.6L184.1 160.6L180.3 161.4L176.6 160.8L172.8 160.2L169 160.5L166 160.3L162.9 159.9L159.8 159.9L157.4 160.8M250.8 158.8L253.8 160.7L256.8 162.7L259.9 165.1L262.9 164.3L266 164.2L268.8 164.1L272.2 162.6L275.7 161.3L279.2 160.1L282.9 159.2L285.5 157.2L288.3 155.4L290.9 153.2L294.1 152.2L296.7 150.7L299.3 149.1L302.4 148.7L305.1 147.1L308 146.4L311.2 145.5L312.9 142.6L315.5 140.6L317.4 138.2L320.1 135.8"/>
<path fill="none" stroke="#1717d0" stroke-width="6.0" stroke-linecap="round" stroke-linejoin="round" d="M249.7 157.6L250.9 160.5L252.6 163.1L253.7 166L255.2 168.7L257.2 171.3L257.1 175.1L256.4 178.8L256.5 182.6L255.1 185.4L254.8 188.6L253.4 191.3L251.5 193.7L250.1 197.1L248 200L246.1 203L244.1 206.2L241.4 208.9L239.9 212.6L237.8 214.7L235.1 216.5L233.9 219.4L231.9 221.6L228.8 224.8L225.8 228.1"/>
<path fill="none" stroke="#1717d0" stroke-width="5.5" stroke-linecap="round" stroke-linejoin="round" d="M259.9 177L261.7 179.5L264.4 181L266.3 183.4L269.3 184.5L272.2 186.7L275.1 188.9L277.5 191.7L280.5 193.9L282.9 196.7L285.8 198.9L288.6 201.2L291.6 203.2L294.6 204.7L297.4 206.5L300.1 208.4L302.8 210.4L307 212.2L310.9 214.3L312.4 217.2L315 219L317 221.5L320 222.9L322.7 224.8L325.1 227M393.3 230.6L389.5 230.1L385.7 230.1L382 231.3L378.1 230.4L374.3 230.8L370.6 232.1L366.8 232.6L363 232.5L359.1 233.3L355.1 232.2L351.3 230.6"/>
<path fill="none" stroke="#1717d0" stroke-width="2.9" stroke-linecap="round" stroke-linejoin="round" d="M189.4 180.4L193.4 180.8L197.4 181.5"/>
<path fill="none" stroke="#1717d0" stroke-width="3.3" stroke-linecap="round" stroke-linejoin="round" d="M214.4 168.4L217.4 167.3L220.1 165.6"/>
</g>
<path fill="none" stroke="#e8200c" stroke-width="3" stroke-linecap="butt" stroke-linejoin="round" d="M196.3 180.9L217.8 167.3"/>
<g filter="url(#rough)">
<path fill="none" stroke="#1717d0" stroke-width="2.9" stroke-linecap="round" stroke-linejoin="round" d="M173.5 206.5L179.2 207.4M214.4 184.9L217.2 183L220.2 181.7L223 179.9L225.8 178.1"/>
</g>
<path fill="none" stroke="#e8200c" stroke-width="2.6" stroke-linecap="butt" stroke-linejoin="round" d="M178.1 206.7L215.6 184.7"/>
<g filter="url(#rough)">
<path fill="none" stroke="#1717d0" stroke-width="3.1" stroke-linecap="round" stroke-linejoin="round" d="M138.3 213.3L141.3 211.4L144.5 209.8L147.8 208.4L150.8 206.5"/>
</g>
<path fill="none" stroke="#e8200c" stroke-width="2" stroke-linecap="butt" stroke-linejoin="round" d="M141.7 211.1L148.5 207.9"/>
<path fill="none" stroke="#e8200c" stroke-width="2.6" stroke-linecap="butt" stroke-linejoin="round" d="M214.4 223.8L225.8 219"/>
<path fill="none" stroke="#f07a10" stroke-width="2.2" stroke-linecap="butt" stroke-linejoin="round" d="M198.5 236.1L209.9 230.4"/>
<path fill="none" stroke="#e8200c" stroke-width="2.4" stroke-linecap="butt" stroke-linejoin="round" d="M148.5 242L155.3 238.3"/>
<path fill="none" stroke="#e8200c" stroke-width="2.2" stroke-linecap="butt" stroke-linejoin="round" d="M242.8 277L251.9 282.6"/>
<g filter="url(#rough)">
<path fill="none" stroke="#1717d0" stroke-width="2.8" stroke-linecap="round" stroke-linejoin="round" d="M212.2 202L212.7 205.1L213.6 208L214.4 211.1"/>
<path fill="none" stroke="#1717d0" stroke-width="2.9" stroke-linecap="round" stroke-linejoin="round" d="M184.9 211.1L187.7 213.4L190.6 215.6"/>
</g>
<path fill="none" stroke="#e8200c" stroke-width="2.4" stroke-linecap="butt" stroke-linejoin="round" d="M330.8 259.9L339.9 266.7"/>
<path fill="none" stroke="#f07a10" stroke-width="2.4" stroke-linecap="butt" stroke-linejoin="round" d="M285.3 217.9L295.6 212.2M304.7 242.9L316 242.9"/>
<path fill="none" stroke="#f07a10" stroke-width="2.6" stroke-linecap="butt" stroke-linejoin="round" d="M302.4 250.8L308.1 252"/>
<path fill="none" stroke="#e8200c" stroke-width="3" stroke-linecap="butt" stroke-linejoin="round" d="M239.9 230.4L247.8 228.1"/>
<path fill="#e8200c" d="M266 290.5h2.4v2.4h-2.4zM277.3 300.8h2.4v2.4h-2.4zM225.1 240.5h2.4v2.4h-2.4zM234.1 245.1h2.4v2.4h-2.4zM254.6 236h2.4v2.4h-2.4zM275.1 239.4h2.4v2.4h-2.4zM318.2 306.4h2.4v2.4h-2.4zM225.7 240.5h2.4v2.4h-2.4zM236 246.2h2.4v2.4h-2.4zM264.4 291.7h2.4v2.4h-2.4zM278 299.6h2.4v2.4h-2.4zM183.7 271.2h2.4v2.4h-2.4z"/>
<g filter="url(#rough)">
<path fill="none" stroke="#1717d0" stroke-width="2.4" stroke-linecap="round" stroke-linejoin="round" d="M321.2 192.2L324 190.7L326.7 189M344.7 194.6L347.9 194.1L351 193.5M354.2 192.2L356.9 190.5L359.7 189M371.3 190.1L372.7 192.9L374.4 195.6M337.5 205.1L339.9 203.1L342.3 201.1M375 209.7L377.3 207.5L379.8 205.6M317.2 195.6L318.4 198.5L319.4 201.5M339.7 155.1L342.1 153.1L344.6 151.1M344 167.4L346.7 169L349.5 170.6M310.8 155.4L313.7 156.6L316.7 157.6"/>
<path fill="#1717d0" d="M185.1 168.4h2.9v2.9h-2.9zM236.5 190.4h2.8v2.8h-2.8zM159.4 208.8h2.6v2.6h-2.6zM195.3 228.7h3.2v3.2h-3.2zM217.6 192.3h3.7v3.7h-3.7zM206.1 171.3h2.6v2.6h-2.6zM181.6 169.4h2.6v2.6h-2.6zM137.2 183.6h2.5v2.5h-2.5zM193.5 185.9h3.2v3.2h-3.2zM197.3 212.8h2.6v2.6h-2.6zM150.2 198.1h3v3h-3zM177.7 212.3h3.8v3.8h-3.8zM166.6 234.2h3.1v3.1h-3.1zM238.5 178.6h3.4v3.4h-3.4zM162.8 201.4h3.5v3.5h-3.5zM240.2 187.5h3.2v3.2h-3.2zM198.9 230.2h3.3v3.3h-3.3zM198.7 183.5h2.7v2.7h-2.7zM242.1 177h3.4v3.4h-3.4zM173 229.4h3.5v3.5h-3.5zM159.4 197.6h2.5v2.5h-2.5zM229.4 205.9h3v3h-3zM139.8 178h3.6v3.6h-3.6zM227.3 202.2h3.8v3.8h-3.8zM171 184.4h2.7v2.7h-2.7zM204.4 197.6h3.2v3.2h-3.2zM192.7 198.5h2.5v2.5h-2.5zM162.2 187.5h2.4v2.4h-2.4zM173 224h2.6v2.6h-2.6zM208 198.3h3.3v3.3h-3.3zM176.3 204.5h2.7v2.7h-2.7zM180.5 181.8h3.3v3.3h-3.3zM187.6 174.2h3.1v3.1h-3.1zM173.2 202.2h3.7v3.7h-3.7zM211 205.2h3.2v3.2h-3.2zM221.1 190.7h3.2v3.2h-3.2zM180.1 167.5h2.6v2.6h-2.6zM189.5 229h3.4v3.4h-3.4zM139.2 199.3h2.9v2.9h-2.9zM210.3 171.6h2.7v2.7h-2.7zM170 176.1h3.3v3.3h-3.3zM152.6 212.1h3.3v3.3h-3.3zM189.4 189.4h2.9v2.9h-2.9zM220.9 196.3h3.5v3.5h-3.5zM180.9 212.5h2.8v2.8h-2.8zM235.3 177.3h2.5v2.5h-2.5zM212.5 218.5h3.1v3.1h-3.1zM189.8 201.4h3.5v3.5h-3.5zM157.9 187h3.6v3.6h-3.6zM190.2 165.6h3.4v3.4h-3.4zM193.1 174.9h3.1v3.1h-3.1zM195 220.5h3.8v3.8h-3.8zM154.9 178.3h3.6v3.6h-3.6zM220.8 183.7h3.1v3.1h-3.1zM154.7 192.1h3.5v3.5h-3.5zM239.3 198.8h2.6v2.6h-2.6zM174.1 182h3.5v3.5h-3.5zM197.5 174.2h2.5v2.5h-2.5zM166.8 204.4h3.2v3.2h-3.2zM229.2 194.3h3.8v3.8h-3.8zM198 176.9h2.5v2.5h-2.5zM164.7 191.1h3v3h-3zM217.6 189.6h2.7v2.7h-2.7zM146.6 189.3h3.9v3.9h-3.9zM238.3 172.8h3.9v3.9h-3.9zM168.2 183.1h3.2v3.2h-3.2zM241.8 192.1h3.3v3.3h-3.3zM156.3 196.9h2.8v2.8h-2.8zM242.8 173h2.9v2.9h-2.9zM216.9 189h2.9v2.9h-2.9zM208.4 216.6h3v3h-3zM206.5 176.1h3.2v3.2h-3.2zM168.8 171.7h3.7v3.7h-3.7zM162.9 179h4v4h-4zM156.8 208h3.6v3.6h-3.6zM299.3 172.4h2.7v2.7h-2.7zM333.9 154.8h2.7v2.7h-2.7zM370.1 216.8h2.9v2.9h-2.9zM351.2 210.6h3v3h-3zM325.4 169.4h3.3v3.3h-3.3zM332.5 209.7h3v3h-3zM324.6 175h3v3h-3zM372.8 201.1h2.6v2.6h-2.6zM306.2 156.1h3.5v3.5h-3.5zM333.3 173.2h2.9v2.9h-2.9zM332.9 208.2h3.6v3.6h-3.6zM320.9 156.1h2.7v2.7h-2.7zM379.6 209.6h3.2v3.2h-3.2zM341.9 167.7h2.8v2.8h-2.8zM339.1 200.5h3.5v3.5h-3.5zM365.5 220.7h3v3h-3zM319.5 150.4h3.3v3.3h-3.3zM373.1 187h3.7v3.7h-3.7zM349.8 208.2h3.7v3.7h-3.7zM354.8 166.9h3.8v3.8h-3.8zM372.1 194.9h3v3h-3zM353.1 174.7h3.7v3.7h-3.7zM313.2 175.5h2.9v2.9h-2.9zM322.4 181.3h2.6v2.6h-2.6zM307.5 176.3h2.8v2.8h-2.8zM304.8 181.4h2.7v2.7h-2.7zM353.4 202.2h2.6v2.6h-2.6zM351 171h3v3h-3zM316.9 198.2h3.1v3.1h-3.1zM353.2 225h2.8v2.8h-2.8zM375 211.5h3v3h-3zM343.4 188.9h2.6v2.6h-2.6zM340 193.1h3.4v3.4h-3.4zM286.9 187.2h3.5v3.5h-3.5zM352.6 211.1h2.5v2.5h-2.5zM317.6 162.7h3.7v3.7h-3.7zM362.1 204.8h3.2v3.2h-3.2zM334.5 212.3h3.1v3.1h-3.1zM341.3 168.1h3.2v3.2h-3.2zM326.8 200.5h3v3h-3zM328.6 217.7h3.3v3.3h-3.3zM337.2 168.6h3.3v3.3h-3.3zM365.3 194.1h3.6v3.6h-3.6zM291.2 187.1h3.6v3.6h-3.6zM335.8 178.6h2.9v2.9h-2.9zM379.8 212.2h2.8v2.8h-2.8zM344.8 213.7h2.9v2.9h-2.9zM277.9 169.4h2.9v2.9h-2.9zM329.7 206.5h3.6v3.6h-3.6zM349.8 191.4h3.1v3.1h-3.1zM238.7 149.7h3.2v3.2h-3.2zM231.1 151.1h2.5v2.5h-2.5zM191.5 145.6h3.3v3.3h-3.3zM210 146.5h3.6v3.6h-3.6zM213.5 138h3v3h-3zM172.4 149.6h3.1v3.1h-3.1zM229.6 127h2.8v2.8h-2.8zM203.9 131.5h3.7v3.7h-3.7zM242.3 133.5h2.8v2.8h-2.8zM218.3 126.6h3.2v3.2h-3.2zM238.3 125.2h2.4v2.4h-2.4zM169.9 150.9h3.5v3.5h-3.5zM215.9 152h2.9v2.9h-2.9zM215.1 149.7h2.9v2.9h-2.9zM188.9 146.2h3v3h-3zM208.4 136.6h3.8v3.8h-3.8zM195.3 146.2h3.5v3.5h-3.5zM213.6 137.7h3v3h-3zM219.3 125.5h3.1v3.1h-3.1zM233.5 128.2h3.4v3.4h-3.4zM214.6 146.7h2.7v2.7h-2.7zM220.8 141.5h2.6v2.6h-2.6zM291.5 131.4h3.5v3.5h-3.5zM286.3 136h2.9v2.9h-2.9zM260.1 144.2h2.5v2.5h-2.5zM287.3 128.5h3.5v3.5h-3.5zM270.9 149.1h3.2v3.2h-3.2zM276.8 124.4h3.2v3.2h-3.2zM275.2 141.8h3.4v3.4h-3.4zM260.3 136.7h3.5v3.5h-3.5zM287.8 139.6h3.3v3.3h-3.3zM261.5 156.7h3v3h-3zM267.1 123h2.4v2.4h-2.4zM276 129.6h2.6v2.6h-2.6zM273.9 125.4h3.3v3.3h-3.3zM273 135h3.3v3.3h-3.3z"/>
<path fill="#e8e81c" d="M176.7 261h2.8v2.8h-2.8zM198 292.4h2.3v2.3h-2.3zM123.2 233.2h2.3v2.3h-2.3zM236.7 284.8h2.4v2.4h-2.4zM132.7 263.3h3v3h-3zM175.7 290.2h2.7v2.7h-2.7zM165.2 287.6h2.1v2.1h-2.1zM190.2 254h2v2h-2zM167.9 250h2.8v2.8h-2.8zM185.7 264.7h2.8v2.8h-2.8zM207.4 273.6h2.3v2.3h-2.3zM208.9 281.2h2.1v2.1h-2.1zM158.6 293.7h2.3v2.3h-2.3zM138.8 288.2h2.1v2.1h-2.1zM304.1 240.5h2.6v2.6h-2.6zM257 245.6h2.2v2.2h-2.2zM220.9 271.3h2.4v2.4h-2.4zM273.9 291.4h2.2v2.2h-2.2zM320.2 240.8h3.1v3.1h-3.1zM226.8 236.4h3v3h-3zM220.5 252.5h2.4v2.4h-2.4zM274.4 254.7h2.8v2.8h-2.8zM225.8 279.5h3.2v3.2h-3.2zM264.9 231.7h2.7v2.7h-2.7zM267 239h2.2v2.2h-2.2zM256.4 291.5h2.5v2.5h-2.5zM313.9 281.2h2.2v2.2h-2.2zM297.8 249h3v3h-3zM299.2 271.6h3v3h-3zM219.3 299.7h2.5v2.5h-2.5zM321.2 283h2.9v2.9h-2.9zM332.3 259.5h3.2v3.2h-3.2zM256.3 280.7h3.1v3.1h-3.1zM297.9 231.1h2.4v2.4h-2.4zM251.9 289h2.8v2.8h-2.8zM305.4 274.4h2.1v2.1h-2.1zM225.7 258.9h2.9v2.9h-2.9zM252.1 233.6h2.4v2.4h-2.4zM319.4 287.7h2.5v2.5h-2.5zM334.7 285.4h3v3h-3zM307.2 284.6h2.4v2.4h-2.4zM226 279.8h2.5v2.5h-2.5zM279.4 283.9h2.5v2.5h-2.5zM339.2 266.2h3v3h-3z"/>
</g>
</g>
<g id="s3">
<path fill="#e8e81c" filter="url(#ytex)" d="M-0.5 284.5L86.4 284.5L89.6 275L97.9 275L110.6 284L124.4 293.6L138.2 306.1L152 314.3L165.8 321.2L179.6 322.6L207.2 324L234.8 326.8L255.2 329.8L255.2 330.9L269 333.7L282.8 329.5L303.5 324L324.2 318.5L344.9 311.6L358.7 306.1L372.5 299.2L386.3 293.6L400.1 286.7L411.1 278.5L412.8 275L422.4 275L424.2 286.6L448.4 286.2L476 285.6L511.9 285.2L511.9 472.2L-0.5 472.2Z"/>
<path fill="url(#ps1)" d="M325.6 418.4L331.1 397.7L339.4 381.1L347.7 367.3L358.7 356.3L373.9 346.6L387.7 349.4L379.4 334.2L387.7 328.7L400.1 326.6L415.3 328.7L412.5 314.9L420.8 299.7L434.6 301.1L449.8 314.9L450.5 342.5L445.6 363.2L441.5 383.9L437.3 404.6L433.2 420.5L420.8 428L407 437.7L391.8 446.7L379.4 443.9L358.7 435.6L338 428.7Z"/>
<path fill="url(#ps2)" d="M424.9 288L510.2 285.9L510.2 319L489.8 317.7L469.1 317L452.5 315.6L447 312.1L433.2 295.6Z"/>
<path fill="url(#ps3)" d="M393.2 450.1L407 440.5L420.8 430.8L433.2 423.9L448.4 429.4L469.1 436.3L489.8 443.2L510.2 451.5L510.2 470.8L394.6 470.8Z"/>
<path fill="url(#ps4)" d="M321.4 425.3L338 430.8L358.7 437.7L379.4 446L389.7 450.1L389.7 459.8L392.5 470.8L277.3 470.8L289.7 458.4L300.7 448.7L307.6 437.7L315.9 428Z"/>
<path fill="url(#ps3)" d="M75.4 348.7L110.6 348.7L143.7 348L144.4 363.2L143.7 378.4L144.4 389.4L139.6 393.5L131.3 397L110.6 396L89.9 393.8L69.2 391.9L54 388.7L58.8 379.8L62.3 368.7L67.8 357.7Z"/>
<g filter="url(#rough)">
<path fill="none" stroke="#1717d0" stroke-width="2.8" stroke-linecap="round" stroke-linejoin="round" d="M0.2 285.4L3.3 285.2L6.4 285.4L9.6 285.3L12.7 285.3L15.8 285.1L18.9 285.5L22.1 285.6L25.2 285.2L28.3 285.5L31.4 285.6L34.6 285.5L37.7 285.4L40.8 285.1L43.9 285.6L47 285.3L50.2 285.1L53.3 285.2L56.4 285.4L59.5 285.2L62.8 285.4L66.1 285.2L69.4 285.3L72.6 285.2L75.9 285.4L79.2 285.2L82.5 285.5L85.8 285.4"/>
</g>
<path fill="none" stroke="#e8200c" stroke-width="1.6" stroke-linecap="butt" stroke-linejoin="round" d="M0.2 284.5L12.6 284.5M20.9 284.4L29.2 284.3"/>
<path fill="none" stroke="#e8200c" stroke-width="1.8" stroke-linecap="butt" stroke-linejoin="round" d="M33.3 284.3L45.7 284M52.6 283.8L58.2 283.7"/>
<path fill="none" stroke="#e8200c" stroke-width="2.2" stroke-linecap="butt" stroke-linejoin="round" d="M65.1 283.7L87.1 282.9"/>
<path fill="none" stroke="#e8200c" stroke-width="2" stroke-linecap="butt" stroke-linejoin="round" d="M87.4 283.2L88.2 274.9"/>
<g filter="url(#rough)">
<path fill="#1717d0" d="M59.5 285.9L85.8 285.2L88 272.8L96.8 272.8L110.6 281.8L124.4 291.4L138.2 303.9L152 312.1L165.8 319L179.6 320.4L207.2 321.8L234.8 324.6L256.9 327.6L256.9 356.3L241.7 357.7L227.9 354.9L215.5 361.8L204.4 367.3L193.4 370.1L187.9 381.1L183.7 386.7L172.7 385.3L158.9 383.9L150.6 388L143.7 382.5L142.3 363.2L145.1 350.8L131.3 347.3L110.6 349.7L89.9 348.3L73.3 348.7L68.5 335.6L65.7 321.8L61.6 309.4L57.5 298.3Z"/>
<path fill="#e8e81c" d="M66.2 288.4L86.4 287.3L92 298.3L100.2 305.9L109.9 312.8L105.8 319L96.8 314.9L88.5 314.9L77.5 309.7L70.3 302.8L66.4 294.2ZM74.4 316.6L84.6 317.9L97.1 324.8L101.2 331.7L95.7 340L84.6 342.1L75.8 337.9L73.1 329ZM99.8 334.5L110.9 330.4L120.5 335.9L124.7 340L113.6 343.5L102.6 343.5ZM110.6 312.4L119.1 309.7L127.4 313.8L134.3 323.5L131.6 330.4L121.9 331.7L115 326.2ZM142.3 325.9L152 323.2L163 327.3L160.3 334.2L146.5 332.8ZM163 339.7L169.9 331.5L179.6 330.1L190.6 324.6L200.3 328.7L214.1 328.7L227.9 334.2L232 345.3L227.9 352.2L215.5 350.8L204.4 354.9L193.4 352.2L179.6 348L168.5 345.3ZM237.5 339.7L248.6 334.2L256.9 331.5L256.9 345.3L243.1 346.6Z"/>
<path fill="#1717d0" d="M74.2 287.3h2v2h-2zM74.2 289.3h2v2h-2zM84.2 291.3h2v2h-2zM70.2 297.3h2v2h-2zM82.2 297.3h4v2h-4zM70.2 299.3h2v2h-2zM82.2 299.3h2v2h-2zM70.2 301.3h2v2h-2zM76.2 301.3h2v2h-2zM80.2 301.3h2v2h-2zM92.2 301.3h2v2h-2zM74.2 303.3h2v2h-2zM78.2 303.3h2v2h-2zM92.2 303.3h2v2h-2zM74.2 305.3h2v2h-2zM84.2 305.3h2v2h-2zM98.2 305.3h2v2h-2zM76.2 307.3h2v2h-2zM100.2 307.3h2v2h-2zM94.2 309.3h2v2h-2zM102.2 309.3h2v2h-2zM88.2 311.3h2v2h-2zM104.2 313.3h2v2h-2zM100.2 315.3h2v2h-2zM104.2 317.3h2v2h-2zM144.3 325.2h4v2h-4zM156.3 325.2h4v2h-4zM146.3 327.2h2v2h-2zM154.3 327.2h2v2h-2zM158.3 327.2h4v2h-4zM144.3 329.2h2v2h-2zM146.3 331.2h2v2h-2zM150.3 331.2h2v2h-2zM185 326.6h4v2h-4zM211 328.6h2v2h-2zM169 330.6h2v2h-2zM179 330.6h2v2h-2zM205 330.6h2v2h-2zM179 332.6h2v2h-2zM195 332.6h2v2h-2zM171 334.6h2v2h-2zM175 334.6h2v2h-2zM179 334.6h6v2h-6zM197 334.6h6v2h-6zM223 334.6h2v2h-2zM227 334.6h2v2h-2zM165 336.6h6v2h-6zM173 336.6h2v2h-2zM179 336.6h2v2h-2zM183 336.6h2v2h-2zM195 336.6h4v2h-4zM227 336.6h2v2h-2zM173 338.6h2v2h-2zM193 338.6h2v2h-2zM199 338.6h2v2h-2zM175 340.6h2v2h-2zM191 340.6h4v2h-4zM209 340.6h4v2h-4zM223 340.6h4v2h-4zM191 342.6h10v2h-10zM203 342.6h2v2h-2zM207 342.6h4v2h-4zM227 342.6h4v2h-4zM189 344.6h2v2h-2zM209 344.6h2v2h-2zM215 344.6h6v2h-6zM227 344.6h2v2h-2zM183 346.6h2v2h-2zM187 346.6h8v2h-8zM201 346.6h6v2h-6zM217 346.6h2v2h-2zM187 348.6h2v2h-2zM211 348.6h4v2h-4zM201 350.6h2v2h-2zM201 352.6h2v2h-2zM207 352.6h2v2h-2zM118.6 309.7h2v2h-2zM116.6 311.7h4v2h-4zM112.6 313.7h2v2h-2zM112.6 315.7h2v2h-2zM126.6 315.7h2v2h-2zM118.6 317.7h2v2h-2zM122.6 319.7h2v2h-2zM132.6 321.7h2v2h-2zM118.6 323.7h2v2h-2zM118.6 325.7h2v2h-2zM124.6 329.7h2v2h-2z"/>
</g>
<path fill="none" stroke="#e8200c" stroke-width="2.2" stroke-linecap="butt" stroke-linejoin="round" d="M75.4 314.9L72.2 328.7"/>
<path fill="none" stroke="#e8200c" stroke-width="1.8" stroke-linecap="butt" stroke-linejoin="round" d="M77.5 313.8L88.5 315.2M73.3 337.3L89.9 342.5"/>
<path fill="none" stroke="#e8200c" stroke-width="2.2" stroke-linecap="butt" stroke-linejoin="round" d="M99.8 328.7L95.4 337.3"/>
<path fill="none" stroke="#e8200c" stroke-width="3" stroke-linecap="butt" stroke-linejoin="round" d="M105.1 314.9L110.6 319"/>
<path fill="none" stroke="#f07a10" stroke-width="2.2" stroke-linecap="butt" stroke-linejoin="round" d="M110.6 332.8L118.9 338.4"/>
<path fill="none" stroke="#e8200c" stroke-width="2.6" stroke-linecap="butt" stroke-linejoin="round" d="M120.2 309.7L124.4 311.4"/>
<path fill="#e8200c" d="M124.6 337.8h2.4v2.4h-2.4zM157.7 316.5h2.4v2.4h-2.4zM142.5 325.4h2.4v2.4h-2.4zM69.4 304.7h2.4v2.4h-2.4z"/>
<path fill="none" stroke="#e8200c" stroke-width="3.2" stroke-linecap="butt" stroke-linejoin="round" d="M248.6 335.6L247.2 345.3"/>
<path fill="#e8200c" d="M250.1 330.3h2.4v2.4h-2.4zM161.8 374.4h2.4v2.4h-2.4zM172.9 377.9h2.4v2.4h-2.4zM179.8 379.9h2.4v2.4h-2.4zM183.9 371h2.4v2.4h-2.4zM214.3 348.9h2.4v2.4h-2.4z"/>
<g filter="url(#rough)">
<path fill="none" stroke="#1717d0" stroke-width="6.0" stroke-linecap="round" stroke-linejoin="round" d="M60.9 285.9L61.3 289.1L60.6 292.2L59.6 295.2L59.5 298.3L60.9 302L62.8 305.5L63.8 309.4L64.7 312.4L64.7 315.7L66.1 318.6L66 321.9L66.8 325.3L68.2 328.6L68 332.2L69.3 335.6L70 338.9L71.2 342L72.1 345.1L73.3 346.6M73.3 346.9L76.7 347.2L80 346.9L83.3 346.7L86.5 345.3L89.9 345.3L93.4 345.2L96.8 345.8L100.2 346.8L103.7 346.1L107.1 346.9L110.5 346.3L114.1 346.7L117.5 345.8L121 346L124.4 345.3L127.8 344.6L131.2 344.8L134.8 344.3L138.2 344.4L141.7 345L145.1 345.5L147.8 346.9L150.6 348"/>
<path fill="none" stroke="#1717d0" stroke-width="5.2" stroke-linecap="round" stroke-linejoin="round" d="M73.3 346.6L70.5 349.5L68.4 352.9L66 356.1L65.7 359.4L64.2 362.1L62.2 364.5L60.8 367.3L60.1 371L58.8 374.6L58.6 378.5L56.6 382.4L55.6 387.1L52 388L48.5 389.4M48.5 389.4L44.9 389L41.5 387.8L37.9 387L34.6 385.4L31.3 384.1L27.6 383.8L24.2 382.8L20.8 381.5L17.4 380.3L14.2 378.4L10.7 377.6L7.1 377L3.4 375.8L-0.5 375.3M48.5 389.4L48 392.4L48.2 395.5L47.4 398.5L47.8 401.6L47.2 404.6L46.9 407.7L45.8 410.6L44.5 413.4L44.7 416.6L44.3 419.7L43.1 422.5L42.7 426.1L40.9 429.3L40.3 432.8L40.2 436.3L39 440.4L38.1 444.6"/>
<path fill="none" stroke="#1717d0" stroke-width="4.6" stroke-linecap="round" stroke-linejoin="round" d="M38.1 444.6L35.5 446.7L33.5 449.6L30.4 451.3L27.3 453.8L24 455.9L21.1 458.7L18.7 460.7L16.5 463L13.2 464.1L11.6 467.1L8.6 469.1L5.7 471.1M38.1 444.6L39.3 447.6L41 450.2L42.9 452.8L44.2 455.8L45.6 458.5L47 461.1L49.3 463.3L50.7 466L52 468.7L54 471.1"/>
<path fill="none" stroke="#1717d0" stroke-width="5.2" stroke-linecap="round" stroke-linejoin="round" d="M48.5 389.4L51.4 390.3L54.4 390.4L57.4 391.2L60.2 392.4L63.4 391.9L66.1 393.6L69.2 393L72.7 393.5L76.1 394.5L79.6 393.9L83 394.9L86.4 395.8L89.8 396.3L93.4 395.4L96.8 396.7L100.3 396.2L103.7 396.9L107.1 397.9L110.6 397.4L113.7 398.1L116.9 397.5L120 398.4L123.2 397.8L126.4 398.2L129.5 398.4L132.7 399.1M132.7 399.1L132.3 402.3L132.7 405.5L132.5 408.8L132.4 412L132.1 415.2L131.4 418.4L130.6 421.8L130.7 425.3L129.5 428.7L130.1 432.3L128.4 435.6L128.4 439.1L128 442.5L127.1 445.9L126.9 449.4L126.2 452.8L126.9 456.4L126.3 459.8L125.3 463.6L125.5 467.4L124.4 471.1"/>
<path fill="none" stroke="#1717d0" stroke-width="6.4" stroke-linecap="round" stroke-linejoin="round" d="M132.7 399.1L135.6 398L138.2 396.3L140.6 394.5L143.9 393.1L146.5 390.8"/>
<path fill="none" stroke="#1717d0" stroke-width="6.0" stroke-linecap="round" stroke-linejoin="round" d="M146.5 390.8L148.1 394.2L150.2 397.2L152.8 400L154.6 403.4L157.4 405L159.2 407.6L160.9 410.3L163.1 412.5L165.4 414.6L168 416.7L170.7 418.6L172.6 421.3L175 423.4L177.1 425.9L179.7 427.9L181.5 430.5L184.6 431.8L186.5 434.2L188.9 436.2L191.1 438.4L193.4 440.4L196.3 442.5L199.2 444.5L201.6 447.2L204.6 449.1L206.9 451.9L209.6 454.1L212.7 456L215.5 458.1L217.9 460.7L220.7 463L224 464.3L226.4 467L229 469.3L232 471.1"/>
<path fill="none" stroke="#1717d0" stroke-width="6.4" stroke-linecap="round" stroke-linejoin="round" d="M146.5 390.8L145.6 387.4L145.1 384L145.9 380.4L144.7 377L144.3 373.6L144.7 370.1L144.6 366.9L145.1 363.7L144.8 360.4L145.2 357.2L144.9 353.9L145.8 350.8"/>
<path fill="#1717d0" d="M150.6 390.8L165.8 390.8L172.7 397.7L174.1 404.6L163 406L154.7 401.8Z"/>
</g>
<path fill="none" stroke="#e8200c" stroke-width="2.4" stroke-linecap="butt" stroke-linejoin="round" d="M160.3 394.9L164.4 400.4"/>
<path fill="#e8200c" d="M168.7 402h2.4v2.4h-2.4zM15.6 458.6h2.4v2.4h-2.4zM34.2 441.3h2.4v2.4h-2.4z"/>
<g filter="url(#rough)">
<path fill="#e8e81c" d="M141 393.6h4v4h-4zM154.1 345.3h4v4h-4zM152.7 383.3h4v4h-4z"/>
<path fill="none" stroke="#1717d0" stroke-width="3.3" stroke-linecap="round" stroke-linejoin="round" d="M238.9 363.2L238.1 366.2L237.8 369.4L237.5 372.5L236.8 375.6"/>
</g>
<path fill="none" stroke="#e8200c" stroke-width="2" stroke-linecap="butt" stroke-linejoin="round" d="M238.6 366L237.5 372.9"/>
<g filter="url(#rough)">
<path fill="none" stroke="#1717d0" stroke-width="3.7" stroke-linecap="round" stroke-linejoin="round" d="M240.3 397.7L239 401.2L237.2 404.5L235.8 407.9L235 411.5L233.8 414.9L233.8 418.5L233.1 421.9L232 425.3L230.2 428.9L227.9 432.2"/>
</g>
<path fill="none" stroke="#e8200c" stroke-width="2.4" stroke-linecap="butt" stroke-linejoin="round" d="M236.2 410.1L232.7 423.9"/>
<g filter="url(#rough)">
<path fill="#1717d0" d="M238.9 386L244.4 386.7L247.9 392.2L241.7 391.5ZM193.4 394.9L201.7 396.3L202.4 399.8L194.1 400.4Z"/>
</g>
<path fill="#e8200c" d="M197 397.9h2.4v2.4h-2.4z"/>
<g filter="url(#rough)">
<path fill="#1717d0" d="M206.5 429.4L212.7 430.8L213.4 434.3L207.2 433.6Z"/>
</g>
<path fill="#e8200c" d="M208.1 431h2.4v2.4h-2.4z"/>
<g filter="url(#rough)">
<path fill="none" stroke="#1717d0" stroke-width="3.7" stroke-linecap="round" stroke-linejoin="round" d="M248.6 440.5L250.2 443.8L251.3 447.4L254.1 450.2L256.9 452.9"/>
</g>
<path fill="none" stroke="#e8200c" stroke-width="2" stroke-linecap="butt" stroke-linejoin="round" d="M250.6 450.1L256.9 454.3"/>
<g filter="url(#rough)">
<path fill="none" stroke="#1717d0" stroke-width="2.8" stroke-linecap="round" stroke-linejoin="round" d="M216.8 374.2L219.5 372.3L222.4 370.8M196.1 382.5L197.7 379.1L198.9 375.6M193.4 399.1L194.6 396.2L196.1 393.5"/>
<path fill="#1717d0" d="M96.7 363.1h2.9v2.9h-2.9zM134 358.3h2.9v2.9h-2.9zM89.1 412.8h2.9v2.9h-2.9zM193.3 382.4h2.9v2.9h-2.9zM230.6 368.6h2.9v2.9h-2.9zM245.8 377.6h2.9v2.9h-2.9zM233.3 455.6h2.9v2.9h-2.9zM225.1 430.1h2.9v2.9h-2.9zM204.4 368.6h2.9v2.9h-2.9zM198.8 368.6h2.9v2.9h-2.9zM253.5 328.7L269 331.5L282.8 327.3L303.5 321.8L324.2 316.3L344.9 309.4L358.7 303.9L372.5 297L386.3 291.4L400.1 284.5L411.1 276.3L413.9 272.8L423.5 272.8L424.2 287.3L431.8 290.1L429.1 297L420.8 298.3L407 303.9L393.2 309.4L386.3 313.5L379.4 319L372.5 314.9L365.6 319L351.8 321.8L338 324.6L324.2 328.7L310.4 332.8L296.6 335.6L282.8 338.4L269 339.7L253.5 338.4Z"/>
<path fill="none" stroke="#1717d0" stroke-width="2.6" stroke-linecap="round" stroke-linejoin="round" d="M424.2 287L427.3 287.1L430.3 287.2L433.3 287.1L436.3 286.8L439.3 286.9L442.3 286.6L445.4 286.7L448.4 286.8L451.5 287L454.5 286.6L457.6 286.4L460.7 286.7L463.7 286.5L466.8 286.3L469.9 286.5L472.9 286.2L476 286.2L479.1 286.3L482.2 286L485.3 286.2L488.4 286.1L491.5 286.1L494.6 286.2L497.8 286L500.9 285.8L504 286.1L507.1 286.1L510.2 285.8"/>
</g>
<path fill="none" stroke="#e8200c" stroke-width="1.6" stroke-linecap="butt" stroke-linejoin="round" d="M424.2 285.9L438.7 285.6M448.4 285.5L462.2 285.4M467.7 285.2L489.8 285M498.1 285L510.2 284.8"/>
<path fill="none" stroke="#e8200c" stroke-width="1.8" stroke-linecap="butt" stroke-linejoin="round" d="M423.8 277.6L424.4 286.6"/>
<g filter="url(#rough)">
<path fill="#1717d0" d="M401.5 308h2v2h-2zM399.5 310h2v2h-2zM403.5 310h6v2h-6zM393.5 312h2v2h-2zM397.5 312h14v2h-14zM393.5 314h6v2h-6zM403.5 314h4v2h-4zM409.5 314h4v2h-4zM389.5 316h4v2h-4zM395.5 316h2v2h-2zM399.5 316h6v2h-6zM409.5 316h4v2h-4zM377.5 318h2v2h-2zM387.5 318h2v2h-2zM397.5 318h2v2h-2zM401.5 318h4v2h-4zM409.5 318h4v2h-4zM355.5 320h6v2h-6zM379.5 320h2v2h-2zM383.5 320h2v2h-2zM401.5 320h2v2h-2zM405.5 320h8v2h-8zM355.5 322h6v2h-6zM363.5 322h4v2h-4zM379.5 322h4v2h-4zM397.5 322h2v2h-2zM403.5 322h12v2h-12zM335.5 324h6v2h-6zM345.5 324h2v2h-2zM351.5 324h2v2h-2zM355.5 324h4v2h-4zM361.5 324h2v2h-2zM365.5 324h8v2h-8zM377.5 324h2v2h-2zM405.5 324h4v2h-4zM411.5 324h4v2h-4zM329.5 326h4v2h-4zM335.5 326h2v2h-2zM339.5 326h2v2h-2zM345.5 326h6v2h-6zM353.5 326h6v2h-6zM361.5 326h4v2h-4zM367.5 326h6v2h-6zM379.5 326h2v2h-2zM385.5 326h2v2h-2zM405.5 326h4v2h-4zM411.5 326h4v2h-4zM323.5 328h2v2h-2zM327.5 328h6v2h-6zM343.5 328h2v2h-2zM355.5 328h18v2h-18zM377.5 328h2v2h-2zM383.5 328h2v2h-2zM315.5 330h6v2h-6zM323.5 330h12v2h-12zM339.5 330h4v2h-4zM345.5 330h2v2h-2zM355.5 330h2v2h-2zM359.5 330h6v2h-6zM367.5 330h2v2h-2zM371.5 330h4v2h-4zM379.5 330h4v2h-4zM313.5 332h8v2h-8zM329.5 332h6v2h-6zM343.5 332h4v2h-4zM353.5 332h2v2h-2zM361.5 332h4v2h-4zM369.5 332h2v2h-2zM373.5 332h4v2h-4zM301.5 334h4v2h-4zM311.5 334h8v2h-8zM329.5 334h4v2h-4zM347.5 334h8v2h-8zM365.5 334h2v2h-2zM369.5 334h8v2h-8zM301.5 336h2v2h-2zM311.5 336h8v2h-8zM323.5 336h6v2h-6zM333.5 336h2v2h-2zM349.5 336h6v2h-6zM365.5 336h2v2h-2zM369.5 336h2v2h-2zM253.5 338h8v2h-8zM277.5 338h10v2h-10zM289.5 338h2v2h-2zM299.5 338h4v2h-4zM309.5 338h4v2h-4zM315.5 338h2v2h-2zM323.5 338h2v2h-2zM349.5 338h4v2h-4zM363.5 338h2v2h-2zM369.5 338h4v2h-4zM257.5 340h8v2h-8zM267.5 340h2v2h-2zM271.5 340h2v2h-2zM277.5 340h14v2h-14zM295.5 340h2v2h-2zM299.5 340h8v2h-8zM313.5 340h4v2h-4zM325.5 340h2v2h-2zM341.5 340h2v2h-2zM365.5 340h2v2h-2zM369.5 340h2v2h-2zM257.5 342h8v2h-8zM267.5 342h2v2h-2zM271.5 342h10v2h-10zM283.5 342h10v2h-10zM295.5 342h4v2h-4zM323.5 342h2v2h-2zM353.5 342h2v2h-2zM369.5 342h4v2h-4zM259.5 344h4v2h-4zM273.5 344h4v2h-4zM281.5 344h12v2h-12zM295.5 344h2v2h-2zM299.5 344h6v2h-6zM309.5 344h6v2h-6zM331.5 344h2v2h-2zM353.5 344h8v2h-8zM365.5 344h8v2h-8zM259.5 346h2v2h-2zM263.5 346h4v2h-4zM273.5 346h2v2h-2zM285.5 346h2v2h-2zM295.5 346h6v2h-6zM311.5 346h10v2h-10zM347.5 346h4v2h-4zM357.5 346h2v2h-2zM261.5 348h8v2h-8zM273.5 348h2v2h-2zM297.5 348h14v2h-14zM313.5 348h4v2h-4zM319.5 348h2v2h-2zM327.5 348h6v2h-6zM345.5 348h2v2h-2zM353.5 348h2v2h-2zM363.5 348h2v2h-2zM263.5 350h2v2h-2zM267.5 350h8v2h-8zM279.5 350h2v2h-2zM297.5 350h18v2h-18zM317.5 350h2v2h-2zM327.5 350h2v2h-2zM333.5 350h2v2h-2zM343.5 350h2v2h-2zM353.5 350h2v2h-2zM359.5 350h2v2h-2zM271.5 352h2v2h-2zM277.5 352h2v2h-2zM281.5 352h2v2h-2zM299.5 352h8v2h-8zM309.5 352h8v2h-8zM329.5 352h6v2h-6zM343.5 352h2v2h-2zM353.5 352h6v2h-6zM271.5 354h2v2h-2zM275.5 354h4v2h-4zM281.5 354h2v2h-2zM299.5 354h2v2h-2zM307.5 354h2v2h-2zM313.5 354h6v2h-6zM321.5 354h4v2h-4zM331.5 354h2v2h-2zM335.5 354h4v2h-4zM353.5 354h4v2h-4zM267.5 356h6v2h-6zM277.5 356h2v2h-2zM281.5 356h4v2h-4zM287.5 356h2v2h-2zM299.5 356h2v2h-2zM315.5 356h2v2h-2zM319.5 356h6v2h-6zM329.5 356h4v2h-4zM335.5 356h4v2h-4zM349.5 356h2v2h-2zM269.5 358h2v2h-2zM277.5 358h16v2h-16zM295.5 358h4v2h-4zM309.5 358h4v2h-4zM317.5 358h6v2h-6zM327.5 358h12v2h-12zM347.5 358h2v2h-2zM271.5 360h6v2h-6zM279.5 360h16v2h-16zM309.5 360h2v2h-2zM317.5 360h2v2h-2zM321.5 360h4v2h-4zM329.5 360h4v2h-4zM339.5 360h2v2h-2zM343.5 360h2v2h-2zM279.5 362h2v2h-2zM283.5 362h16v2h-16zM311.5 362h2v2h-2zM315.5 362h2v2h-2zM321.5 362h6v2h-6zM329.5 362h4v2h-4zM335.5 362h2v2h-2zM341.5 362h4v2h-4zM277.5 364h2v2h-2zM281.5 364h4v2h-4zM287.5 364h6v2h-6zM295.5 364h4v2h-4zM307.5 364h2v2h-2zM325.5 364h8v2h-8zM341.5 364h4v2h-4zM279.5 366h2v2h-2zM283.5 366h2v2h-2zM287.5 366h10v2h-10zM305.5 366h2v2h-2zM317.5 366h2v2h-2zM329.5 366h4v2h-4zM339.5 366h6v2h-6zM285.5 368h16v2h-16zM317.5 368h2v2h-2zM329.5 368h6v2h-6zM283.5 370h4v2h-4zM291.5 370h10v2h-10zM319.5 370h2v2h-2zM327.5 370h6v2h-6zM341.5 370h2v2h-2zM285.5 372h2v2h-2zM289.5 372h8v2h-8zM299.5 372h2v2h-2zM305.5 372h2v2h-2zM327.5 372h6v2h-6zM339.5 372h2v2h-2zM287.5 374h2v2h-2zM291.5 374h2v2h-2zM295.5 374h2v2h-2zM301.5 374h2v2h-2zM305.5 374h2v2h-2zM321.5 374h2v2h-2zM327.5 374h2v2h-2zM331.5 374h4v2h-4zM337.5 374h2v2h-2zM283.5 376h6v2h-6zM293.5 376h2v2h-2zM299.5 376h2v2h-2zM303.5 376h2v2h-2zM319.5 376h6v2h-6zM327.5 376h2v2h-2zM331.5 376h2v2h-2zM285.5 378h2v2h-2zM289.5 378h2v2h-2zM295.5 378h2v2h-2zM301.5 378h4v2h-4zM319.5 378h6v2h-6zM327.5 378h4v2h-4zM335.5 378h4v2h-4zM287.5 380h2v2h-2zM297.5 380h4v2h-4zM303.5 380h2v2h-2zM317.5 380h8v2h-8zM329.5 380h8v2h-8zM291.5 382h14v2h-14zM309.5 382h2v2h-2zM317.5 382h4v2h-4zM323.5 382h2v2h-2zM327.5 382h2v2h-2zM331.5 382h4v2h-4zM293.5 384h10v2h-10zM307.5 384h4v2h-4zM319.5 384h8v2h-8zM293.5 386h14v2h-14zM309.5 386h2v2h-2zM319.5 386h4v2h-4zM293.5 388h2v2h-2zM309.5 388h4v2h-4zM315.5 388h2v2h-2zM319.5 388h2v2h-2zM327.5 388h2v2h-2zM317.5 390h4v2h-4zM327.5 390h2v2h-2zM297.5 392h2v2h-2zM301.5 392h2v2h-2zM317.5 392h4v2h-4zM329.5 392h2v2h-2zM299.5 394h2v2h-2zM307.5 394h4v2h-4zM315.5 394h2v2h-2zM319.5 394h4v2h-4zM325.5 394h4v2h-4zM305.5 396h2v2h-2zM311.5 396h2v2h-2zM317.5 396h2v2h-2zM325.5 396h4v2h-4zM303.5 398h6v2h-6zM311.5 398h2v2h-2zM323.5 398h6v2h-6zM303.5 400h8v2h-8zM321.5 400h6v2h-6zM305.5 402h4v2h-4zM317.5 402h2v2h-2zM323.5 402h2v2h-2zM309.5 404h2v2h-2zM323.5 404h4v2h-4zM311.5 406h6v2h-6zM319.5 406h2v2h-2zM323.5 406h2v2h-2zM311.5 408h10v2h-10zM313.5 410h2v2h-2zM317.5 410h6v2h-6zM315.5 412h2v2h-2zM319.5 412h4v2h-4zM321.5 414h2v2h-2zM319.5 416h2v2h-2z"/>
<path fill="none" stroke="#1717d0" stroke-width="7.4" stroke-linecap="round" stroke-linejoin="round" d="M254.5 350.8L256.3 353.3L259 354.9L261 357.2L263.1 359.5L266.2 361L268.4 363.5L270.7 366L273.4 367.9L275.8 370.2L278.5 372.1L280.8 374.3L282.4 377.4L284.9 379.5L286.9 382.1L290.1 383.6L292.2 386.4L293.9 389.6L296.4 392.1L298.7 394.8L300.6 397.8L302.1 400.8L304.3 403.4L306.3 406.1L308.4 408.8L310.3 411.6L313.6 413.8L316.3 416.6L318.2 420L320.1 422.5M320.1 419.8L321 416.5L322.3 413.5L323.7 410.4L325.2 407.4L326.7 404.5L328.2 401.4L329.1 398.1L331.4 395.4L332.1 392L334.3 389.6L335.2 386.6L337.2 384.2L337.4 380.8L339.2 378.1L341.9 375.9L343.3 372.9L344.6 369.8L347.7 367.7L350.2 365L351.7 361.4L354.6 359.1L357.1 356.1L359.6 353L362.9 350.9L366.3 349.3L369.5 347.6L372.8 345.5L374.3 342.5L376.5 340.1L377.9 337.1L379.8 334.7L382.7 331.3L386.3 328.7"/>
<path fill="none" stroke="#1717d0" stroke-width="4.1" stroke-linecap="round" stroke-linejoin="round" d="M372.5 345.3L375.9 345.4L379.2 346.3L382.4 347.5L385.9 347.4L389 348.7"/>
<path fill="none" stroke="#1717d0" stroke-width="4.6" stroke-linecap="round" stroke-linejoin="round" d="M386.3 328.7L389.7 327.8L393.2 327.5L396.6 326.7L400.1 326.8L403.5 327.2L407 327.5L410.4 328.2L413.9 328.7"/>
<path fill="none" stroke="#1717d0" stroke-width="6.4" stroke-linecap="round" stroke-linejoin="round" d="M263.5 345.3L266.1 342.8L268.7 340.3L271.8 338.4"/>
<path fill="none" stroke="#1717d0" stroke-width="5.5" stroke-linecap="round" stroke-linejoin="round" d="M351.8 323.2L352.9 326.2L353.4 329.3L353.9 332.5L355 335.7L353.6 338.6L353.2 341.6L353.5 344.8L352.1 347.7L351.9 350.8L349.9 353.4L348.1 356.1L346.5 359L344.9 361.8"/>
<path fill="none" stroke="#1717d0" stroke-width="4.6" stroke-linecap="round" stroke-linejoin="round" d="M289.7 381.1L293.2 380.9L296.7 380L300.1 379.3L303.5 378.4L307.1 378.3L310.7 378.3L314.3 378.8L317.9 379L321.6 379.3L325.2 380.9L328.6 383L332.5 383.9"/>
<path fill="none" stroke="#1717d0" stroke-width="4.1" stroke-linecap="round" stroke-linejoin="round" d="M296.6 397.7L300 397L303.5 396.8L306.9 396.3L310.4 396.2L313 398L315.7 399.5L318.7 400.4"/>
<path fill="none" stroke="#1717d0" stroke-width="6.0" stroke-linecap="round" stroke-linejoin="round" d="M315.9 426.7L314.2 429.4L312.3 431.9L309.2 433.5L307.7 436.4L306.1 439.2L303.9 441.7L302.7 444.8L300.7 447.4L297.8 449.6L295.6 452.6L292.2 454.3L290.1 457.4L287.5 459.6L285 461.9L282.7 464.5L280.5 467.1L278.2 469.1L275.9 471.1"/>
<path fill="none" stroke="#1717d0" stroke-width="5.2" stroke-linecap="round" stroke-linejoin="round" d="M324.2 423.9L327.8 425L331.1 426.6L334.6 428L337.8 430L341.1 430L344 431.3L346.8 432.6L350 432.8L352.9 433.9L355.7 435.5L358.5 436.8L361.5 437.8L364.7 438.3L367.7 439.7L370.3 441.7L373.4 442.4L376.5 443.3L379.3 444.9L383 446.3L387 446.8L390.4 448.7"/>
<path fill="none" stroke="#1717d0" stroke-width="5.5" stroke-linecap="round" stroke-linejoin="round" d="M390.4 448.7L390.2 452.5L391.3 456.1L391.2 459.8L392.1 463.6L393.8 467.2L394.6 471.1"/>
<path fill="none" stroke="#1717d0" stroke-width="5.2" stroke-linecap="round" stroke-linejoin="round" d="M391.8 448.1L395.2 446.9L397.5 443.9L401.1 442.9L404.2 441.3L406.8 438.8L409.7 437L412.8 435.6L415.2 433.2L418.3 431.8L421 429.9L423.6 427.1L427.1 426.2L430.4 424.8L433.2 422.5M433.2 422.5L434.4 419.6L435 416.6L435 413.5L435.9 410.5L436.4 407.5L437.9 404.7L438.5 401.7L438.3 398.6L438.7 395.6L439.4 392.7L439.9 389.7L441.1 386.9L441.2 383.8L441.7 380.9L443.1 378.1L443.2 375L443.8 372.1L444 369L444.4 366L445.4 363.1L446.5 360.3L447.3 357.4L447.9 354.4L448.4 351.5L449.1 348.5L449.6 345.5L449.6 342.5L450.3 339.1L451.2 335.7L451.2 332.1L452 328.7L451.7 325L452.5 321.3L452.5 317.7M452.5 317.7L455.8 317.5L459.1 318.1L462.5 318.2L465.8 318.4L469.1 318.8L472.5 319.1L476 318.6L479.4 318.7L482.9 318.3L486.3 318.4L489.8 318.8L492.9 319.1L496.1 319.9L499.2 320.1L502.4 319.8L505.6 319.6L508.7 320.5L511.9 320.4"/>
<path fill="none" stroke="#1717d0" stroke-width="3.7" stroke-linecap="round" stroke-linejoin="round" d="M452.5 317.7L449.9 315.8L447.7 313.5"/>
<path fill="none" stroke="#1717d0" stroke-width="5.2" stroke-linecap="round" stroke-linejoin="round" d="M433.2 422.5L436.2 423.7L439.3 424.8L442.2 426.1L445.4 426.7L448.4 427.9L451.3 429.2L454.1 430.7L457.2 431.1L460.3 431.8L463 433.4L466 434.3L469.1 434.9L471.9 436.5L474.9 437.1L478 437.8L480.9 438.9L483.9 439.8L486.9 440.5L490 441.4L493.2 442.5L496.3 443.8L499.4 445.2L502.4 446.7L505.5 448L508.6 449.6L511.9 450.4"/>
<path fill="#1717d0" d="M313.2 411.5L324.2 412.9L325.6 423.9L320.1 428L313.2 422.5Z"/>
</g>
<path fill="none" stroke="#e8200c" stroke-width="2.6" stroke-linecap="butt" stroke-linejoin="round" d="M340.8 319L346.3 321.8M317.3 331.5L329.7 329"/>
<path fill="none" stroke="#f07a10" stroke-width="2.6" stroke-linecap="butt" stroke-linejoin="round" d="M302.1 342.5L313.2 345.5"/>
<path fill="none" stroke="#f07a10" stroke-width="3" stroke-linecap="butt" stroke-linejoin="round" d="M360.1 335.6L357.6 342.8"/>
<path fill="none" stroke="#e8200c" stroke-width="2.4" stroke-linecap="butt" stroke-linejoin="round" d="M401.5 308L409.7 319.3"/>
<path fill="none" stroke="#e8200c" stroke-width="2" stroke-linecap="butt" stroke-linejoin="round" d="M404.2 313.5L407 320.4"/>
<path fill="none" stroke="#e8200c" stroke-width="2.6" stroke-linecap="butt" stroke-linejoin="round" d="M296.6 384.2L302.1 381.4"/>
<path fill="none" stroke="#e8200c" stroke-width="3" stroke-linecap="butt" stroke-linejoin="round" d="M315.9 386.9L321.4 392.4"/>
<path fill="none" stroke="#f07a10" stroke-width="3" stroke-linecap="butt" stroke-linejoin="round" d="M296.6 401.8L295.2 410.1"/>
<path fill="none" stroke="#e8200c" stroke-width="2.6" stroke-linecap="butt" stroke-linejoin="round" d="M338 363.2L343.5 361.8"/>
<path fill="none" stroke="#e8200c" stroke-width="3" stroke-linecap="butt" stroke-linejoin="round" d="M384.9 321.8L387.7 323.2"/>
<path fill="#e8200c" d="M274.7 338.5h2.4v2.4h-2.4zM285.7 339.9h2.4v2.4h-2.4zM314.7 355.1h2.4v2.4h-2.4zM331.3 355.1h2.4v2.4h-2.4zM260.9 404.8h2.4v2.4h-2.4zM292.6 443.4h2.4v2.4h-2.4zM313.3 418.6h2.4v2.4h-2.4z"/>
<g filter="url(#rough)">
<path fill="#1717d0" d="M263.2 381.1h2v2h-2zM259.2 383.1h2v2h-2zM275.2 387.1h2v2h-2zM275.2 389.1h2v2h-2zM271.2 391.1h2v2h-2zM275.2 391.1h2v2h-2zM271.2 393.1h4v2h-4zM259.2 395.1h2v2h-2zM263.2 395.1h4v2h-4zM261.2 397.1h2v2h-2zM269.2 399.1h4v2h-4zM287.2 399.1h2v2h-2zM269.2 401.1h2v2h-2zM273.2 401.1h2v2h-2zM267.2 403.1h2v2h-2zM293.2 403.1h2v2h-2zM269.2 405.1h4v2h-4zM277.2 405.1h2v2h-2zM287.2 405.1h2v2h-2zM293.2 405.1h2v2h-2zM259.2 407.1h2v2h-2zM269.2 407.1h2v2h-2zM275.2 407.1h2v2h-2zM285.2 407.1h2v2h-2zM255.2 409.1h2v2h-2zM259.2 409.1h2v2h-2zM277.2 409.1h2v2h-2zM281.2 409.1h2v2h-2zM255.2 411.1h2v2h-2zM259.2 411.1h2v2h-2zM279.2 411.1h2v2h-2zM283.2 411.1h2v2h-2zM289.2 411.1h2v2h-2zM293.2 411.1h2v2h-2zM261.2 413.1h2v2h-2zM299.2 413.1h2v2h-2zM299.2 415.1h2v2h-2zM299.2 421.1h2v2h-2zM303.2 421.1h2v2h-2zM303.2 423.1h2v2h-2zM303.2 425.1h2v2h-2zM255.2 400.4L260.7 401.8L266.2 408.7L263.5 415.6L258 412.9L255.2 408.7Z"/>
<path fill="none" stroke="#1717d0" stroke-width="3.7" stroke-linecap="round" stroke-linejoin="round" d="M255.2 448.7L257.2 452.2L259.6 455.6L260 459.3L260.9 463L261.6 466.6L262.1 471.1"/>
</g>
<path fill="none" stroke="#e8200c" stroke-width="2.4" stroke-linecap="butt" stroke-linejoin="round" d="M255.9 451.5L260 459.8"/>
<g filter="url(#rough)">
<path fill="#1717d0" d="M271.1 437L275.9 437.7L277.3 441.8L272.4 442.5ZM383.4 383.7h3.1v3.1h-3.1zM415.1 416.9h3.1v3.1h-3.1zM362.7 423.1h3.1v3.1h-3.1zM354.4 443.1h3.1v3.1h-3.1zM376.5 450.7h3.1v3.1h-3.1zM303.3 465.2h3.1v3.1h-3.1zM469.6 298.2h3.1v3.1h-3.1zM445.5 312.7h3.1v3.1h-3.1zM413.7 300.9h3.1v3.1h-3.1zM506.2 372.7h3.1v3.1h-3.1zM350.3 427.2h3.1v3.1h-3.1zM290.9 438.9h3.1v3.1h-3.1z"/>
</g>
</g>
<g id="p3">
<path fill="none" stroke="#e8200c" stroke-width="3.8" stroke-linecap="butt" stroke-linejoin="round" d="M111.9 255.1L115.3 241.5L121 227.9L129 214.2L138.1 200.6L149.4 187L163.1 173.3L176.7 162L193.8 151.7L210.8 143.8L227.8 138.1L244.9 134.7L254.9 133.5L271.9 135.8L289 139.2L306 146L323.1 154L337.8 163.1L351.5 173.3L364 184.7L374.2 196L383.3 209.7L390.1 223.3L394.7 234.7L400.3 239.2L402.6 247.2L403.8 258.5L404.9 264.2L414 266.5L420.8 268.8L425.3 275.6L424.2 283.5L419.7 280.1L414 281.3M110.2 263.1L102.8 265.4L94.9 265.4L89.2 269.9L87.5 275.6"/>
<path fill="#e8e81c" filter="url(#ytex)" d="M254.9 133.5L271.9 135.8L289 139.2L306 146L323.1 154L337.8 163.1L351.5 173.3L364 184.7L374.2 196L383.3 209.7L390.1 223.3L394.7 234.7L400.3 239.2L402.6 247.2L403.8 258.5L404.9 264.2L414 266.5L420.8 268.8L425.3 275.6L424.2 283.5L419.7 280.1L414 281.3L404.9 287L395.8 293.8L385.6 300.6L374.2 307.4L362.8 313.1L351.5 317.6L334.4 322.2L317.4 326.7L300.3 331.3L283.3 335.8L266.3 338.1L254.9 337.5L239.2 335.8L222.2 333.5L205.1 331.3L188.1 327.9L171 323.3L156.3 317.6L142.6 310.8L129 304L117.6 297.2L108.5 290.4L100.6 283.5L94.9 281.3L89.2 281.3L87.5 275.6L89.2 269.9L94.9 265.4L102.8 265.4L110.2 263.1L111.9 255.1L115.3 241.5L121 227.9L129 214.2L138.1 200.6L149.4 187L163.1 173.3L176.7 162L193.8 151.7L210.8 143.8L227.8 138.1L244.9 134.7Z"/>
<path fill="url(#ps4)" d="M256.3 138.1L290.3 141.5L317.6 154L290.3 171L267.6 180.1L252.8 177.9L251.7 156.3Z"/>
<g filter="url(#rough)">
<path fill="none" stroke="#1717d0" stroke-width="3.0" stroke-linecap="round" stroke-linejoin="round" d="M112.6 255.1L113.6 251.9L114.4 248.7L115.4 245.4L116.3 242.2L117.9 238.9L119 235.3L120.4 231.9L121.9 228.5L123.3 225.7L125 223L126.5 220.2L128.1 217.5L129.7 214.8L131.9 212.3L133.6 209.5L135.5 206.8L137 203.9L139 201.3L141.3 198.6L143.4 195.7L145.6 193L148.1 190.4L150.4 187.7L152.5 185.2L154.7 182.9L157.2 180.9L159.4 178.5L161.6 176.2L164.2 174.2L166.6 171.6L169.5 169.5L172 167L175 165.1L177.6 162.6L180.6 161.1L183.4 159.4L186.2 157.6L188.8 155.6L191.7 153.9L194.6 152.2L197.4 150.9L200.5 150L203.3 148.6L206.2 147.4L208.8 145.7L211.7 144.6L215.1 143.3L218.6 142.5L222 141.2L225.3 139.8L228.8 138.9L232.2 138.3L235.6 137.5L239 136.8L242.4 136.2L245.8 135.5L249.9 134.8L254 134.4L257.4 134.7L260.8 135L264.2 135.4L267.6 135.8L271.1 136.3L274.5 137L277.9 137.8L281.3 138.3L284.7 139.2L288.1 139.8L290.9 141.2L293.7 142.4L296.5 143.6L299.4 144.6L302.2 145.7L305.2 146.5L308 148L310.8 149.5L313.7 150.5L316.6 151.8L319.4 153.2L322.2 154.7L325.2 156.3L328.1 158.3L330.9 160.3L334 161.9L336.8 164L339.8 165.7L342.3 168L345.1 169.9L347.7 172.1L350.6 174L353 176.3L355.7 178.4L357.9 181L360.4 183.3L363 185.4L365.3 187.5L367.3 189.8L369 192.3L371.5 194.3L373.1 196.9L375 199.5L377.2 202L378.5 205.1L380.4 207.8L382.3 210.4L383.9 213L385.4 215.7L386.3 218.7L387.8 221.3L389.3 224L390.4 226.8L391.4 229.7L392.4 232.6L393.9 235.1L396.2 237.4L398.9 239.2"/>
<path fill="#1717d0" d="M113.1 237L118.8 231.3L131.3 230.1L136.9 235.8L146 240.4L156.3 244.9L160.8 250.6L174.4 249.5L179 252.9L179 260.8L188.1 259.7L199.4 252.9L210.8 248.3L216.5 241.5L222.2 235.8L231.3 229L238.1 223.3L244.9 214.2L249.4 205.1L252.8 196L258.5 191.5L264 196L271.9 205.1L281 213.1L291.3 218.8L300.3 224.5L311.7 233.5L323.1 241.5L328.8 247.2L340.1 249.5L351.5 250.6L362.8 246L374.2 241.5L385.6 239.2L396.4 235.2L400.3 239.2L402.6 247.2L403.8 258.5L404.9 264.2L414 266.5L420.8 268.8L425.3 275.6L424.2 283.5L419.7 280.1L414 281.3L404.9 287L395.8 293.8L385.6 300.6L374.2 307.4L362.8 313.1L351.5 317.6L334.4 322.2L317.4 326.7L300.3 331.3L283.3 335.8L266.3 338.1L254.9 337.5L239.2 335.8L222.2 333.5L205.1 331.3L188.1 327.9L171 323.3L156.3 317.6L142.6 310.8L129 304L117.6 297.2L108.5 290.4L100.6 283.5L94.9 281.3L89.2 281.3L87.5 275.6L89.2 269.9L94.9 265.4L102.8 265.4L110.2 263.1L111.9 255.1Z"/>
<path fill="#e8e81c" d="M114.2 262L119.9 252.9L129 248.3L136.9 247.2L142.6 252.9L147.2 259.7L146 266.5L139.2 267.6L133.5 273.3L125.6 275.6L118.8 269.9ZM246.9 218.8L256 210.8L267.4 213.1L273.1 221L271.9 230.1L262.8 232.4L256 239.2L248.1 230.1ZM239 243.8L250.3 239.2L261.7 237L273.1 241.5L271.9 250.6L262.8 257.4L250.3 256.3L242.4 252.9ZM274.2 237L284.4 239.2L295.8 241.5L300.3 250.6L298.1 259.7L289 262L279.9 256.3L275.3 248.3ZM220.8 262L228.8 255.1L236.7 258.5L240.1 267.6L233.3 272.2L221.9 268.8ZM220.8 284.7L227.6 279L239 280.1L244.7 287L253.8 293.8L256 304L250.3 309.7L242.4 312L233.3 309.7L224.2 304L226.5 293.8L220.8 289.2ZM252.6 273.3L266.3 272.2L273.1 275.6L279.9 273.3L291.3 275.6L295.8 284.7L293.5 293.8L300.3 287L314 281.3L317.4 287L311.7 293.8L300.3 298.3L293.5 302.9L284.4 307.4L273.1 309.7L264 305.1L259.4 293.8L256 282.4ZM359.4 260.8L368.5 256.3L379.9 252.9L391.3 250.6L400.3 252.9L401.5 262L398.1 271L391.3 279L385.6 287L379.9 289.2L370.8 283.5L362.8 275.6L359.4 267.6ZM279.9 218.8L289 221L291.3 227.9L284.4 230.1ZM302.6 263.1L310.6 265.4L315.1 273.3L309.4 275.6L303.8 269.9ZM311.7 257.4L318.5 259.7L315.1 263.1ZM327.6 280.1L335.6 280.1L335.6 283.5L327.6 283.5ZM302.6 318.8L306 318.8L306 323.3L302.6 323.3ZM179 250.6L199.4 243.8L209.7 240.4L210.8 247.2L199.4 251.7L188.1 258.5L180.1 259.7ZM152.8 268.8L157.4 268.8L157.4 273.3L152.8 273.3Z"/>
<path fill="url(#ps5)" d="M359.4 260.8L368.5 256.3L379.9 252.9L391.3 250.6L400.3 252.9L401.5 262L398.1 271L391.3 279L385.6 287L379.9 289.2L370.8 283.5L362.8 275.6L359.4 267.6Z"/>
<path fill="#1717d0" d="M132.2 249.2h4v2h-4zM122.2 251.2h6v2h-6zM134.2 251.2h2v2h-2zM118.2 253.2h6v2h-6zM126.2 253.2h2v2h-2zM126.2 255.2h2v2h-2zM132.2 255.2h2v2h-2zM120.2 257.2h4v2h-4zM118.2 259.2h2v2h-2zM122.2 259.2h4v2h-4zM140.2 259.2h2v2h-2zM114.2 261.2h4v2h-4zM120.2 261.2h8v2h-8zM144.2 261.2h2v2h-2zM116.2 263.2h6v2h-6zM126.2 263.2h2v2h-2zM134.2 263.2h2v2h-2zM142.2 263.2h4v2h-4zM126.2 265.2h2v2h-2zM136.2 265.2h6v2h-6zM122.2 267.2h2v2h-2zM134.2 267.2h4v2h-4zM122.2 269.2h2v2h-2zM130.2 269.2h6v2h-6zM132.2 271.2h2v2h-2zM128.2 273.2h2v2h-2zM254.9 210.8h2v2h-2zM252.9 212.8h6v2h-6zM252.9 214.8h4v2h-4zM256.9 216.8h2v2h-2zM246.9 218.8h2v2h-2zM256.9 218.8h4v2h-4zM268.9 218.8h4v2h-4zM256.9 220.8h2v2h-2zM266.9 220.8h4v2h-4zM256.9 222.8h2v2h-2zM264.9 222.8h4v2h-4zM260.9 224.8h6v2h-6zM270.9 224.8h2v2h-2zM248.9 226.8h4v2h-4zM254.9 226.8h2v2h-2zM258.9 226.8h2v2h-2zM264.9 226.8h2v2h-2zM268.9 226.8h4v2h-4zM256.9 228.8h4v2h-4zM268.9 228.8h2v2h-2zM254.9 230.8h6v2h-6zM254.9 234.8h4v2h-4zM263 237h2v2h-2zM251 239h2v2h-2zM245 241h2v2h-2zM251 241h4v2h-4zM271 243h2v2h-2zM245 245h2v2h-2zM249 245h6v2h-6zM247 247h2v2h-2zM251 247h2v2h-2zM255 247h2v2h-2zM263 247h2v2h-2zM243 249h10v2h-10zM261 249h2v2h-2zM265 249h2v2h-2zM245 251h4v2h-4zM251 251h2v2h-2zM257 251h2v2h-2zM245 253h2v2h-2zM249 253h6v2h-6zM263 253h2v2h-2zM251 255h2v2h-2zM261 255h2v2h-2zM280.2 239h4v2h-4zM286.2 239h2v2h-2zM286.2 241h4v2h-4zM278.2 243h2v2h-2zM284.2 243h2v2h-2zM274.2 245h2v2h-2zM282.2 245h2v2h-2zM276.2 247h4v2h-4zM280.2 249h2v2h-2zM286.2 249h4v2h-4zM278.2 251h10v2h-10zM296.2 251h4v2h-4zM278.2 253h10v2h-10zM292.2 253h2v2h-2zM298.2 253h2v2h-2zM282.2 255h2v2h-2zM284.2 257h4v2h-4zM296.2 257h2v2h-2zM294.2 259h2v2h-2zM226.8 255.1h2v2h-2zM224.8 257.1h2v2h-2zM226.8 259.1h2v2h-2zM232.8 259.1h4v2h-4zM226.8 261.1h4v2h-4zM230.8 263.1h2v2h-2zM234.8 263.1h4v2h-4zM226.8 265.1h6v2h-6zM236.8 265.1h2v2h-2zM224.8 267.1h2v2h-2zM234.8 267.1h2v2h-2zM226.8 279h2v2h-2zM230.8 279h4v2h-4zM226.8 281h2v2h-2zM230.8 281h6v2h-6zM230.8 283h4v2h-4zM226.8 285h2v2h-2zM234.8 285h2v2h-2zM240.8 285h4v2h-4zM226.8 287h4v2h-4zM238.8 287h4v2h-4zM226.8 289h2v2h-2zM230.8 289h2v2h-2zM238.8 289h2v2h-2zM232.8 291h2v2h-2zM248.8 291h2v2h-2zM236.8 293h2v2h-2zM232.8 295h2v2h-2zM236.8 295h4v2h-4zM224.8 297h2v2h-2zM230.8 297h2v2h-2zM244.8 297h2v2h-2zM252.8 297h2v2h-2zM228.8 299h6v2h-6zM248.8 299h2v2h-2zM224.8 301h4v2h-4zM248.8 301h2v2h-2zM224.8 303h4v2h-4zM244.8 303h10v2h-10zM226.8 305h2v2h-2zM230.8 305h2v2h-2zM244.8 305h10v2h-10zM242.8 307h2v2h-2zM246.8 307h2v2h-2zM250.8 307h2v2h-2zM236.8 309h2v2h-2zM258.6 272.2h2v2h-2zM262.6 272.2h2v2h-2zM252.6 274.2h2v2h-2zM278.6 274.2h4v2h-4zM254.6 276.2h6v2h-6zM268.6 276.2h4v2h-4zM274.6 276.2h2v2h-2zM278.6 276.2h4v2h-4zM254.6 278.2h2v2h-2zM258.6 278.2h2v2h-2zM268.6 278.2h6v2h-6zM276.6 278.2h4v2h-4zM286.6 278.2h2v2h-2zM270.6 280.2h2v2h-2zM276.6 280.2h4v2h-4zM292.6 280.2h2v2h-2zM258.6 282.2h2v2h-2zM278.6 282.2h2v2h-2zM308.6 282.2h2v2h-2zM274.6 284.2h8v2h-8zM284.6 284.2h4v2h-4zM304.6 284.2h2v2h-2zM308.6 284.2h2v2h-2zM270.6 286.2h2v2h-2zM274.6 286.2h4v2h-4zM282.6 286.2h4v2h-4zM290.6 286.2h4v2h-4zM314.6 286.2h2v2h-2zM258.6 288.2h2v2h-2zM272.6 288.2h2v2h-2zM276.6 288.2h2v2h-2zM284.6 288.2h8v2h-8zM312.6 288.2h2v2h-2zM258.6 290.2h2v2h-2zM270.6 290.2h2v2h-2zM274.6 290.2h4v2h-4zM282.6 290.2h6v2h-6zM290.6 290.2h2v2h-2zM270.6 292.2h4v2h-4zM280.6 292.2h2v2h-2zM284.6 292.2h4v2h-4zM290.6 292.2h6v2h-6zM298.6 292.2h4v2h-4zM304.6 292.2h2v2h-2zM266.6 294.2h8v2h-8zM276.6 294.2h2v2h-2zM280.6 294.2h4v2h-4zM290.6 294.2h4v2h-4zM298.6 294.2h4v2h-4zM268.6 296.2h2v2h-2zM274.6 296.2h2v2h-2zM280.6 296.2h2v2h-2zM292.6 296.2h2v2h-2zM296.6 296.2h2v2h-2zM300.6 296.2h2v2h-2zM272.6 298.2h2v2h-2zM270.6 300.2h2v2h-2zM266.6 302.2h6v2h-6zM268.6 304.2h4v2h-4zM274.6 304.2h2v2h-2zM286.6 304.2h2v2h-2zM268.6 306.2h4v2h-4zM385.4 250.6h4v2h-4zM393.4 250.6h2v2h-2zM377.4 252.6h2v2h-2zM381.4 252.6h2v2h-2zM391.4 252.6h2v2h-2zM395.4 252.6h4v2h-4zM397.4 254.6h4v2h-4zM365.4 256.6h4v2h-4zM371.4 256.6h2v2h-2zM391.4 256.6h2v2h-2zM361.4 258.6h2v2h-2zM359.4 260.6h6v2h-6zM375.4 260.6h2v2h-2zM381.4 260.6h2v2h-2zM393.4 260.6h2v2h-2zM359.4 262.6h4v2h-4zM373.4 262.6h6v2h-6zM381.4 262.6h6v2h-6zM393.4 262.6h2v2h-2zM397.4 262.6h2v2h-2zM359.4 264.6h4v2h-4zM379.4 264.6h4v2h-4zM393.4 264.6h2v2h-2zM397.4 264.6h2v2h-2zM377.4 266.6h2v2h-2zM381.4 266.6h2v2h-2zM363.4 268.6h2v2h-2zM373.4 268.6h2v2h-2zM379.4 268.6h2v2h-2zM367.4 270.6h10v2h-10zM379.4 270.6h2v2h-2zM389.4 270.6h4v2h-4zM371.4 272.6h6v2h-6zM381.4 272.6h2v2h-2zM389.4 272.6h2v2h-2zM363.4 274.6h2v2h-2zM367.4 274.6h8v2h-8zM389.4 274.6h4v2h-4zM367.4 276.6h8v2h-8zM377.4 276.6h4v2h-4zM373.4 278.6h2v2h-2zM381.4 278.6h6v2h-6zM381.4 280.6h2v2h-2zM385.4 280.6h4v2h-4zM371.4 282.6h4v2h-4z"/>
<path fill="#e8e81c" d="M254.5 213.4h2v2h-2zM266.5 215.4h2v2h-2zM272.5 215.4h4v2h-4zM262.5 217.4h2v2h-2zM272.5 217.4h4v2h-4zM262.5 219.4h2v2h-2zM264.5 221.4h4v2h-4zM270.5 221.4h2v2h-2zM282.5 221.4h2v2h-2zM246.5 223.4h4v2h-4zM256.5 223.4h6v2h-6zM264.5 223.4h6v2h-6zM280.5 223.4h2v2h-2zM244.5 225.4h2v2h-2zM250.5 225.4h4v2h-4zM260.5 225.4h2v2h-2zM264.5 225.4h2v2h-2zM270.5 225.4h2v2h-2zM284.5 225.4h2v2h-2zM244.5 227.4h8v2h-8zM274.5 227.4h2v2h-2zM278.5 227.4h4v2h-4zM242.5 229.4h2v2h-2zM246.5 229.4h6v2h-6zM254.5 229.4h4v2h-4zM274.5 229.4h4v2h-4zM238.5 231.4h2v2h-2zM242.5 231.4h2v2h-2zM248.5 231.4h2v2h-2zM254.5 231.4h2v2h-2zM258.5 231.4h2v2h-2zM274.5 231.4h2v2h-2zM278.5 231.4h2v2h-2zM240.5 233.4h6v2h-6zM248.5 233.4h2v2h-2zM256.5 233.4h6v2h-6zM270.5 233.4h2v2h-2zM274.5 233.4h4v2h-4zM238.5 235.4h6v2h-6zM254.5 235.4h2v2h-2zM268.5 235.4h2v2h-2zM272.5 235.4h6v2h-6zM234.5 237.4h2v2h-2zM252.5 237.4h6v2h-6zM272.5 237.4h2v2h-2zM302.5 237.4h2v2h-2zM246.5 239.4h2v2h-2zM300.5 239.4h2v2h-2zM232.5 241.4h2v2h-2zM266.5 241.4h2v2h-2zM274.5 241.4h2v2h-2zM302.5 241.4h4v2h-4zM230.5 243.4h6v2h-6zM252.5 243.4h4v2h-4zM264.5 243.4h4v2h-4zM294.5 243.4h2v2h-2zM228.5 245.4h2v2h-2zM232.5 245.4h6v2h-6zM252.5 245.4h6v2h-6zM268.5 245.4h4v2h-4zM292.5 245.4h2v2h-2zM306.5 245.4h2v2h-2zM310.5 245.4h2v2h-2zM246.5 247.4h10v2h-10zM270.5 247.4h2v2h-2zM292.5 247.4h2v2h-2zM226.5 249.4h2v2h-2zM232.5 249.4h2v2h-2zM244.5 249.4h2v2h-2zM248.5 249.4h2v2h-2zM252.5 249.4h2v2h-2zM292.5 249.4h2v2h-2zM300.5 249.4h4v2h-4zM308.5 249.4h2v2h-2zM226.5 251.4h4v2h-4zM244.5 251.4h4v2h-4zM252.5 251.4h2v2h-2zM290.5 251.4h8v2h-8zM300.5 251.4h2v2h-2zM304.5 251.4h2v2h-2zM308.5 251.4h2v2h-2zM248.5 253.4h2v2h-2zM298.5 253.4h4v2h-4zM304.5 253.4h4v2h-4zM312.5 253.4h6v2h-6zM224.5 255.4h2v2h-2zM246.5 255.4h2v2h-2zM262.5 255.4h2v2h-2zM280.5 255.4h4v2h-4zM298.5 255.4h4v2h-4zM306.5 255.4h2v2h-2zM312.5 255.4h2v2h-2zM224.5 257.4h2v2h-2zM248.5 257.4h2v2h-2zM258.5 257.4h4v2h-4zM264.5 257.4h2v2h-2zM282.5 257.4h4v2h-4zM294.5 257.4h10v2h-10zM306.5 257.4h2v2h-2zM310.5 257.4h6v2h-6zM230.5 259.4h2v2h-2zM252.5 259.4h4v2h-4zM262.5 259.4h2v2h-2zM284.5 259.4h4v2h-4zM290.5 259.4h4v2h-4zM306.5 259.4h2v2h-2zM310.5 259.4h4v2h-4zM226.5 261.4h2v2h-2zM240.5 261.4h2v2h-2zM248.5 261.4h2v2h-2zM268.5 261.4h2v2h-2zM296.5 261.4h2v2h-2zM306.5 261.4h2v2h-2zM312.5 261.4h6v2h-6zM224.5 263.4h6v2h-6zM238.5 263.4h2v2h-2zM242.5 263.4h2v2h-2zM246.5 263.4h2v2h-2zM268.5 263.4h4v2h-4zM304.5 263.4h2v2h-2zM312.5 263.4h2v2h-2zM316.5 263.4h2v2h-2zM238.5 265.4h2v2h-2zM248.5 265.4h2v2h-2zM252.5 265.4h2v2h-2zM304.5 265.4h2v2h-2zM308.5 265.4h6v2h-6zM316.5 265.4h2v2h-2zM224.5 267.4h2v2h-2zM228.5 267.4h4v2h-4zM248.5 267.4h2v2h-2zM254.5 267.4h2v2h-2zM272.5 267.4h6v2h-6zM288.5 267.4h2v2h-2zM304.5 267.4h2v2h-2zM312.5 267.4h2v2h-2zM224.5 269.4h2v2h-2zM248.5 269.4h2v2h-2zM254.5 269.4h2v2h-2zM278.5 269.4h2v2h-2zM286.5 269.4h4v2h-4zM298.5 269.4h4v2h-4zM310.5 269.4h2v2h-2zM232.5 271.4h2v2h-2zM254.5 271.4h2v2h-2zM264.5 271.4h4v2h-4zM274.5 271.4h2v2h-2zM288.5 271.4h2v2h-2zM310.5 271.4h2v2h-2zM254.5 273.4h2v2h-2zM274.5 273.4h2v2h-2zM288.5 273.4h2v2h-2zM308.5 273.4h2v2h-2zM312.5 273.4h2v2h-2zM318.5 273.4h2v2h-2zM322.5 273.4h2v2h-2zM226.5 275.4h4v2h-4zM238.5 275.4h2v2h-2zM256.5 275.4h2v2h-2zM288.5 275.4h2v2h-2zM306.5 275.4h2v2h-2zM314.5 275.4h2v2h-2zM318.5 275.4h2v2h-2zM230.5 277.4h2v2h-2zM242.5 277.4h2v2h-2zM304.5 277.4h2v2h-2zM308.5 277.4h2v2h-2zM312.5 277.4h2v2h-2zM318.5 277.4h4v2h-4zM230.5 279.4h2v2h-2zM302.5 279.4h6v2h-6zM310.5 279.4h2v2h-2zM314.5 279.4h2v2h-2zM318.5 279.4h2v2h-2zM216.5 281.4h2v2h-2zM228.5 281.4h2v2h-2zM232.5 281.4h2v2h-2zM240.5 281.4h2v2h-2zM246.5 281.4h8v2h-8zM278.5 281.4h2v2h-2zM282.5 281.4h4v2h-4zM310.5 281.4h2v2h-2zM316.5 281.4h4v2h-4zM220.5 283.4h4v2h-4zM226.5 283.4h4v2h-4zM234.5 283.4h2v2h-2zM238.5 283.4h2v2h-2zM252.5 283.4h2v2h-2zM276.5 283.4h2v2h-2zM282.5 283.4h2v2h-2zM286.5 283.4h2v2h-2zM304.5 283.4h2v2h-2zM310.5 283.4h10v2h-10zM218.5 285.4h2v2h-2zM222.5 285.4h2v2h-2zM240.5 285.4h6v2h-6zM248.5 285.4h2v2h-2zM252.5 285.4h2v2h-2zM268.5 285.4h2v2h-2zM272.5 285.4h2v2h-2zM302.5 285.4h10v2h-10zM222.5 287.4h2v2h-2zM242.5 287.4h2v2h-2zM268.5 287.4h4v2h-4zM286.5 287.4h2v2h-2zM298.5 287.4h4v2h-4zM304.5 287.4h2v2h-2zM222.5 289.4h2v2h-2zM232.5 289.4h6v2h-6zM244.5 289.4h2v2h-2zM270.5 289.4h2v2h-2zM288.5 289.4h2v2h-2zM302.5 289.4h4v2h-4zM232.5 291.4h4v2h-4zM238.5 291.4h2v2h-2zM246.5 291.4h2v2h-2zM256.5 291.4h2v2h-2zM266.5 291.4h2v2h-2zM272.5 291.4h2v2h-2zM292.5 291.4h6v2h-6zM304.5 291.4h8v2h-8zM224.5 293.4h4v2h-4zM230.5 293.4h2v2h-2zM238.5 293.4h4v2h-4zM246.5 293.4h2v2h-2zM264.5 293.4h2v2h-2zM292.5 293.4h2v2h-2zM296.5 293.4h2v2h-2zM224.5 295.4h2v2h-2zM228.5 295.4h10v2h-10zM240.5 295.4h6v2h-6zM252.5 295.4h2v2h-2zM264.5 295.4h4v2h-4zM294.5 295.4h2v2h-2zM298.5 295.4h2v2h-2zM304.5 295.4h2v2h-2zM308.5 295.4h2v2h-2zM230.5 297.4h2v2h-2zM234.5 297.4h6v2h-6zM242.5 297.4h2v2h-2zM252.5 297.4h2v2h-2zM256.5 297.4h2v2h-2zM264.5 297.4h2v2h-2zM268.5 297.4h6v2h-6zM294.5 297.4h2v2h-2zM298.5 297.4h4v2h-4zM306.5 297.4h2v2h-2zM230.5 299.4h8v2h-8zM248.5 299.4h6v2h-6zM266.5 299.4h2v2h-2zM286.5 299.4h6v2h-6zM298.5 299.4h4v2h-4zM304.5 299.4h2v2h-2zM232.5 301.4h2v2h-2zM242.5 301.4h2v2h-2zM250.5 301.4h10v2h-10zM284.5 301.4h6v2h-6zM236.5 303.4h4v2h-4zM252.5 303.4h2v2h-2zM256.5 303.4h2v2h-2zM262.5 303.4h2v2h-2zM266.5 303.4h2v2h-2zM278.5 303.4h2v2h-2zM286.5 303.4h2v2h-2zM296.5 303.4h2v2h-2zM234.5 305.4h2v2h-2zM246.5 305.4h2v2h-2zM256.5 305.4h6v2h-6zM272.5 305.4h4v2h-4zM286.5 305.4h4v2h-4zM236.5 307.4h2v2h-2zM244.5 307.4h2v2h-2zM252.5 307.4h2v2h-2zM264.5 307.4h2v2h-2zM272.5 307.4h2v2h-2zM284.5 307.4h4v2h-4zM292.5 307.4h2v2h-2zM256.5 309.4h2v2h-2zM262.5 309.4h6v2h-6zM278.5 309.4h2v2h-2zM284.5 309.4h4v2h-4zM260.5 311.4h4v2h-4zM276.5 311.4h2v2h-2zM286.5 311.4h2v2h-2zM256.5 313.4h4v2h-4zM264.5 313.4h2v2h-2zM280.5 313.4h2v2h-2z"/>
<path fill="none" stroke="#1717d0" stroke-width="5.2" stroke-linecap="round" stroke-linejoin="round" d="M254 136.7L253.8 139.9L253.7 143L253.5 146.2L251.9 149.4L251.7 153L250.9 156.3L249.7 159.3L249.2 162.4L247.9 165.3L248.3 169.4L247.2 173.3L248.3 176.7"/>
<path fill="none" stroke="#1717d0" stroke-width="5.5" stroke-linecap="round" stroke-linejoin="round" d="M247.2 175.8L243.7 175.6L240.3 176.5L237 178L233.6 178.5L229.7 178.1L225.9 178.5L222.2 178.7L218.4 179.1L214.6 178L210.9 178.9L207.1 179.5L203.2 179.6L199.4 179.9L195.7 179.9L191.9 179.4L188 180.2L184.3 178.7L180.5 179.4L176.7 178.7L173 178L169.1 178.3L165.2 178.3L162.6 177.3M250.6 179.6L252.9 181.8L255.8 183L258.5 184.3L261.6 183.8L264.5 182.4L267.5 181.6L270.6 180.8L273.6 179.6L276.1 177.4L279 176.1L282.4 175L285.6 173.5L289.1 172.4L292.5 171.3L296 170.3L299.2 169.1L302.3 167.5L305.4 165.8L308.4 164.3L311.3 162.7L314.7 161L317.1 158.2L319.7 155.7"/>
<path fill="none" stroke="#1717d0" stroke-width="6.4" stroke-linecap="round" stroke-linejoin="round" d="M249.4 177.9L250.9 181.1L253.2 183.9L254.4 187.3L255.9 190.3L256.2 194.2L256.1 198L254.6 201.5L253.2 205L251.7 208.4L251 212.3L248.9 215.1L247.1 218.2L244.5 220.8L242.1 223.7L240.7 227.4L238.4 230.5L236 232.6L233.6 234.8L231.3 237"/>
<path fill="none" stroke="#1717d0" stroke-width="6.0" stroke-linecap="round" stroke-linejoin="round" d="M263.1 194.9L265 197.7L267.8 199.8L270 202.4L272.1 204.9L274.4 206.9L276.7 208.8L279 210.8L281 213.1L284.3 215.3L288.1 216.4L291.2 218.9L294 221.1L297.3 222.6L300.1 224.8L303.5 226.3L305.6 229.5L308.5 231.8L311.6 233.7L314.3 235.8L317.3 237.7L320.6 239L322.9 241.7L325.9 244.3L328.8 247.2"/>
<path fill="none" stroke="#1717d0" stroke-width="4.2" stroke-linecap="round" stroke-linejoin="round" d="M188.1 184.7L188.9 187.7L189.9 190.7L189.9 194L192 196.7L193.6 199.7L194.5 203.1L196.7 205.9L199 208.7L200.9 211.8L202.3 215.1L204.6 217.9L205.9 221.2L207.7 224.1L209.5 227L210.8 230.1L212.9 233.9L214.2 238.1"/>
<path fill="none" stroke="#1717d0" stroke-width="3.7" stroke-linecap="round" stroke-linejoin="round" d="M174.4 184.7L176.7 180.1"/>
</g>
<path fill="none" stroke="#e8200c" stroke-width="2.6" stroke-linecap="butt" stroke-linejoin="round" d="M167.6 198.5L192.6 184.9"/>
<g filter="url(#rough)">
<path fill="none" stroke="#1717d0" stroke-width="2.9" stroke-linecap="round" stroke-linejoin="round" d="M164.2 207.4L168.2 205.7L172.2 204"/>
</g>
<path fill="none" stroke="#e8200c" stroke-width="2.6" stroke-linecap="butt" stroke-linejoin="round" d="M169.9 205.1L176.7 202"/>
<g filter="url(#rough)">
<path fill="none" stroke="#1717d0" stroke-width="2.9" stroke-linecap="round" stroke-linejoin="round" d="M176.7 201.7L180.1 200L183.5 198.5"/>
</g>
<path fill="none" stroke="#e8200c" stroke-width="2.4" stroke-linecap="butt" stroke-linejoin="round" d="M191.5 196L199.4 209.7"/>
<g filter="url(#rough)">
<path fill="none" stroke="#1717d0" stroke-width="3.1" stroke-linecap="round" stroke-linejoin="round" d="M160.8 236.4L165.3 234.1"/>
</g>
<path fill="none" stroke="#e8200c" stroke-width="2.6" stroke-linecap="butt" stroke-linejoin="round" d="M164.2 234.7L174.4 229.6"/>
<path fill="none" stroke="#e8200c" stroke-width="2.4" stroke-linecap="butt" stroke-linejoin="round" d="M179 248.3L194.9 242.6"/>
<path fill="none" stroke="#f07a10" stroke-width="2.2" stroke-linecap="butt" stroke-linejoin="round" d="M188.1 237L194.9 234.7"/>
<path fill="none" stroke="#e8200c" stroke-width="3" stroke-linecap="butt" stroke-linejoin="round" d="M206.3 240.4L210.8 239"/>
<path fill="none" stroke="#e8200c" stroke-width="2.4" stroke-linecap="butt" stroke-linejoin="round" d="M135.8 251.7L140.3 252.9M299.2 289.2L306 294.9"/>
<path fill="none" stroke="#e8200c" stroke-width="4" stroke-linecap="butt" stroke-linejoin="round" d="M361.7 244.3L368.5 246"/>
<path fill="none" stroke="#f07a10" stroke-width="3" stroke-linecap="butt" stroke-linejoin="round" d="M287.8 230.7L291.3 231.8"/>
<path fill="#e8200c" d="M259.4 222.1h2.4v2.4h-2.4zM246.9 219.8h2.4v2.4h-2.4zM236.6 263h2.4v2.4h-2.4zM242.3 276.7h2.4v2.4h-2.4zM258.2 268.7h2.4v2.4h-2.4zM299.1 256.2h2.4v2.4h-2.4zM317.3 265.3h2.4v2.4h-2.4zM350.3 252.8h2.4v2.4h-2.4zM298 238h2.4v2.4h-2.4zM308.2 318.7h2.4v2.4h-2.4zM186.9 257.3h2.4v2.4h-2.4zM142.6 269.8h2.4v2.4h-2.4zM134.6 269.8h2.4v2.4h-2.4zM228.9 274.4h2.4v2.4h-2.4zM232.3 252.8h2.4v2.4h-2.4z"/>
<g filter="url(#rough)">
<path fill="none" stroke="#1717d0" stroke-width="2.8" stroke-linecap="round" stroke-linejoin="round" d="M321.4 224.9L323 227.9L324.8 230.8M360.8 228.5L363.4 230.7L366 232.9M339.2 229.5L341.8 227.3L344.4 225.1M359.5 210L361.7 207.4L363.9 204.8M315.9 175.5L318.5 173.2L321.1 171.1M332.2 169.1L334.5 166.5L336.6 163.9M329.9 237L333.3 236.8L336.7 237"/>
<path fill="#1717d0" d="M328.8 234.7L334.4 233.5L339 237L336.7 240.4L329.9 239.2ZM199.2 227.9h3.2v3.2h-3.2zM180.9 193.3h2.6v2.6h-2.6zM203.1 223.9h2.4v2.4h-2.4zM221.3 196.8h2.8v2.8h-2.8zM182 218.1h3.2v3.2h-3.2zM192.3 184.1h2.7v2.7h-2.7zM188.8 213.9h3.9v3.9h-3.9zM205.8 184.9h3.4v3.4h-3.4zM179.9 222.5h3.7v3.7h-3.7zM138.7 222.1h3.3v3.3h-3.3zM183.8 210h3.2v3.2h-3.2zM210.8 202.9h3.3v3.3h-3.3zM219.2 205.6h2.4v2.4h-2.4zM150.5 230.7h2.6v2.6h-2.6zM210.7 198.7h2.7v2.7h-2.7zM158.6 189.1h3.3v3.3h-3.3zM202.4 201.6h3.1v3.1h-3.1zM195.9 209.1h3.8v3.8h-3.8zM186.3 238.1h3v3h-3zM143.8 199.4h3.3v3.3h-3.3zM175.3 228.7h4v4h-4zM204.9 224.3h2.4v2.4h-2.4zM153.3 207.1h3.6v3.6h-3.6zM190.9 196.5h3.2v3.2h-3.2zM154.7 205.5h2.6v2.6h-2.6zM147.7 236.6h3.8v3.8h-3.8zM186.2 236h2.5v2.5h-2.5zM152.2 219h3.5v3.5h-3.5zM168.3 203.9h3.8v3.8h-3.8zM163.4 224.9h3.7v3.7h-3.7zM140.2 227.4h2.9v2.9h-2.9zM174.9 232.7h3.2v3.2h-3.2zM172.4 222.7h2.8v2.8h-2.8zM162 230.8h3.7v3.7h-3.7zM222.6 185.5h3.4v3.4h-3.4zM161.1 210.7h3.3v3.3h-3.3zM164.1 193.9h3v3h-3zM210.2 197.5h2.8v2.8h-2.8zM140 214.9h2.8v2.8h-2.8zM191.7 234h3.4v3.4h-3.4zM146 210.3h2.8v2.8h-2.8zM185.4 201h3v3h-3zM223.2 191.1h3.4v3.4h-3.4zM207.1 197h4v4h-4zM193 232h2.4v2.4h-2.4zM204.7 190.6h3v3h-3zM199.2 182.9h3.8v3.8h-3.8zM183 197.5h3.3v3.3h-3.3zM168.9 202.6h3.2v3.2h-3.2zM175 224.4h2.8v2.8h-2.8zM156.7 218.7h2.5v2.5h-2.5zM189.1 212.1h2.9v2.9h-2.9zM207.8 228.5h4v4h-4zM185 203.9h3.4v3.4h-3.4zM167.5 216.9h3.7v3.7h-3.7zM239.3 205.4h3.7v3.7h-3.7zM160.1 207.8h3.1v3.1h-3.1zM165.6 229.2h3.3v3.3h-3.3zM204.5 213.4h3.1v3.1h-3.1zM231.6 222h3v3h-3zM179.2 216.2h3.5v3.5h-3.5zM176.2 204.4h3.6v3.6h-3.6zM215.6 219.6h2.9v2.9h-2.9zM217.5 207.7h3.1v3.1h-3.1zM145.4 227.8h2.9v2.9h-2.9zM205.2 186.1h4v4h-4zM218.1 196.5h3.2v3.2h-3.2zM238.6 191.9h3.3v3.3h-3.3zM133.8 219.3h3.7v3.7h-3.7zM208.6 220.9h2.9v2.9h-2.9zM175.7 234.7h3.5v3.5h-3.5zM241.8 190.6h3.8v3.8h-3.8zM226.3 206.6h3.5v3.5h-3.5zM219.1 195h2.6v2.6h-2.6zM151.7 223.6h3v3h-3zM336.8 182.2h3.5v3.5h-3.5zM337.4 200.8h3.1v3.1h-3.1zM356.3 225h3.4v3.4h-3.4zM355.6 211.3h3v3h-3zM307.8 178.8h2.9v2.9h-2.9zM348.8 180.9h2.6v2.6h-2.6zM330.8 197.2h2.6v2.6h-2.6zM321.1 209.7h3.3v3.3h-3.3zM335 221.7h2.8v2.8h-2.8zM293.8 209.4h2.8v2.8h-2.8zM306.5 217.1h2.6v2.6h-2.6zM315.5 200.5h2.5v2.5h-2.5zM275.1 194.2h3.4v3.4h-3.4zM358.3 194.6h2.9v2.9h-2.9zM330.7 205.4h2.5v2.5h-2.5zM319.7 233.5h2.9v2.9h-2.9zM309.1 189.3h2.4v2.4h-2.4zM336.8 237.9h2.7v2.7h-2.7zM368.9 231.9h3.3v3.3h-3.3zM342.3 177.5h3.4v3.4h-3.4zM368.2 216.3h3.4v3.4h-3.4zM280.8 192.1h2.7v2.7h-2.7zM301.8 204.5h3v3h-3zM373.1 212.5h2.8v2.8h-2.8zM365.8 228.5h2.8v2.8h-2.8zM369.7 213h3.1v3.1h-3.1zM369.9 221.6h2.7v2.7h-2.7zM290.4 184.5h3.7v3.7h-3.7zM332.8 188.6h2.7v2.7h-2.7zM311.7 186.6h2.6v2.6h-2.6zM291.6 183.3h3.4v3.4h-3.4zM356.1 212h2.9v2.9h-2.9zM315.7 185h3.7v3.7h-3.7zM356.5 215.2h2.8v2.8h-2.8zM334.8 238.3h3.2v3.2h-3.2zM365.8 230.3h3.2v3.2h-3.2zM354.7 230.7h2.8v2.8h-2.8zM306.3 180.8h2.4v2.4h-2.4zM324.2 199.6h3.4v3.4h-3.4zM363.1 216.1h2.7v2.7h-2.7zM336.2 215.7h2.8v2.8h-2.8zM282.8 195.6h3.1v3.1h-3.1zM300.3 176.3h2.6v2.6h-2.6zM370.5 232.9h3.8v3.8h-3.8zM313.2 180.3h3.2v3.2h-3.2zM191.2 173.5h2.5v2.5h-2.5zM224.5 156.4h3.7v3.7h-3.7zM228 150.6h3.8v3.8h-3.8zM194.9 168.6h3v3h-3zM242.3 141.1h2.7v2.7h-2.7zM218.8 172.4h2.5v2.5h-2.5zM201.4 171.7h2.8v2.8h-2.8zM225.8 154.7h3.5v3.5h-3.5zM191.3 164.7h2.7v2.7h-2.7zM175.4 165.4h3.1v3.1h-3.1zM237.7 148.2h2.4v2.4h-2.4zM244.1 153.7h3.2v3.2h-3.2zM240 138h3.1v3.1h-3.1zM207.5 166h3.1v3.1h-3.1zM173.7 170.1h3.3v3.3h-3.3zM243.6 166.4h2.5v2.5h-2.5zM187.6 166.8h3.1v3.1h-3.1zM231.8 149.1h3.7v3.7h-3.7zM191.3 160.3h2.8v2.8h-2.8zM198.1 170.4h3v3h-3zM218.4 151.4h3.3v3.3h-3.3zM189.5 162.7h3.4v3.4h-3.4zM235.6 158.2h2.5v2.5h-2.5zM227.6 156.7h2.4v2.4h-2.4zM268 145.3h3.3v3.3h-3.3zM278.8 148h3v3h-3zM273.7 162.7h3.4v3.4h-3.4zM276.9 152.2h3.6v3.6h-3.6zM277.8 152.4h2.5v2.5h-2.5zM266.6 169.2h3.1v3.1h-3.1zM275.7 166.9h2.7v2.7h-2.7zM290 159.3h3.4v3.4h-3.4zM261.5 141.4h3.5v3.5h-3.5zM265.5 149h2.7v2.7h-2.7zM261.4 142.6h2.7v2.7h-2.7zM277.8 157.7h2.6v2.6h-2.6zM260.6 139.7h3v3h-3zM299.8 146.5h3.6v3.6h-3.6zM269.1 151.6h3.1v3.1h-3.1zM281.7 154.3h3.2v3.2h-3.2zM261.6 163.2h3.6v3.6h-3.6zM282.6 166.1h3.1v3.1h-3.1z"/>
<path fill="#e8e81c" d="M226.1 322.5h2.8v2.8h-2.8zM240 234.2h2.2v2.2h-2.2zM147.9 246.4h2v2h-2zM213.8 267.6h2.5v2.5h-2.5zM137.2 247.9h2.2v2.2h-2.2zM168.1 289.3h2.3v2.3h-2.3zM218.8 318.1h2.9v2.9h-2.9zM218.8 239.7h2v2h-2zM213.8 282.2h2v2h-2zM143.6 259.3h2.7v2.7h-2.7zM169.8 294h2.5v2.5h-2.5zM200.2 284.2h2.5v2.5h-2.5zM276.9 278h2.1v2.1h-2.1zM302 287.7h2v2h-2zM352.9 292h2.8v2.8h-2.8zM291.3 302.7h2.5v2.5h-2.5zM331 295.2h2.4v2.4h-2.4zM248.5 245.9h2.9v2.9h-2.9zM271 285.4h3.1v3.1h-3.1zM319.6 284.7h2.3v2.3h-2.3zM262.3 303.6h2.5v2.5h-2.5zM268.6 273.2h2.3v2.3h-2.3zM318.1 298.2h2.5v2.5h-2.5zM317.4 278h3.2v3.2h-3.2zM268 273.9h2.8v2.8h-2.8zM262.7 278.3h2.7v2.7h-2.7zM332.3 296.7h2.5v2.5h-2.5zM286.1 302.7h2.8v2.8h-2.8zM251.9 251.4h2.5v2.5h-2.5zM262.2 246.9h3.2v3.2h-3.2zM324.9 282.4h2.5v2.5h-2.5zM267.6 248.9h3v3h-3zM234.3 246h2.9v2.9h-2.9zM234 294.3h2.8v2.8h-2.8zM283.7 247.3h2.5v2.5h-2.5zM257.7 289h2.3v2.3h-2.3zM268.4 280h2.1v2.1h-2.1z"/>
</g>
</g>
</defs>
<g transform="translate(84.0 13.9)">
<path class="tm" d="M0 470.4h6M509.6 470.4h-6"/>
<path class="tm" d="M0 457.7h6M509.6 457.7h-6"/>
<path class="tM" d="M0 445h10M509.6 445h-10"/>
<path class="tm" d="M0 432.2h6M509.6 432.2h-6"/>
<path class="tm" d="M0 419.5h6M509.6 419.5h-6"/>
<path class="tm" d="M0 406.8h6M509.6 406.8h-6"/>
<path class="tm" d="M0 394.1h6M509.6 394.1h-6"/>
<path class="tM" d="M0 381.4h10M509.6 381.4h-10"/>
<path class="tm" d="M0 368.7h6M509.6 368.7h-6"/>
<path class="tm" d="M0 356h6M509.6 356h-6"/>
<path class="tm" d="M0 343.3h6M509.6 343.3h-6"/>
<path class="tm" d="M0 330.5h6M509.6 330.5h-6"/>
<path class="tM" d="M0 317.8h10M509.6 317.8h-10"/>
<path class="tm" d="M0 305.1h6M509.6 305.1h-6"/>
<path class="tm" d="M0 292.4h6M509.6 292.4h-6"/>
<path class="tm" d="M0 279.7h6M509.6 279.7h-6"/>
<path class="tm" d="M0 267h6M509.6 267h-6"/>
<path class="tM" d="M0 254.3h10M509.6 254.3h-10"/>
<path class="tm" d="M0 241.5h6M509.6 241.5h-6"/>
<path class="tm" d="M0 228.8h6M509.6 228.8h-6"/>
<path class="tm" d="M0 216.1h6M509.6 216.1h-6"/>
<path class="tm" d="M0 203.4h6M509.6 203.4h-6"/>
<path class="tM" d="M0 190.7h10M509.6 190.7h-10"/>
<path class="tm" d="M0 178h6M509.6 178h-6"/>
<path class="tm" d="M0 165.3h6M509.6 165.3h-6"/>
<path class="tm" d="M0 152.6h6M509.6 152.6h-6"/>
<path class="tm" d="M0 139.8h6M509.6 139.8h-6"/>
<path class="tM" d="M0 127.1h10M509.6 127.1h-10"/>
<path class="tm" d="M0 114.4h6M509.6 114.4h-6"/>
<path class="tm" d="M0 101.7h6M509.6 101.7h-6"/>
<path class="tm" d="M0 89h6M509.6 89h-6"/>
<path class="tm" d="M0 76.3h6M509.6 76.3h-6"/>
<path class="tM" d="M0 63.6h10M509.6 63.6h-10"/>
<path class="tm" d="M0 50.9h6M509.6 50.9h-6"/>
<path class="tm" d="M0 38.1h6M509.6 38.1h-6"/>
<path class="tm" d="M0 25.4h6M509.6 25.4h-6"/>
<path class="tm" d="M0 12.7h6M509.6 12.7h-6"/>
<path class="tm" d="M12.7 470.4v-6"/>
<path class="tm" d="M38.2 470.4v-6"/>
<path class="tM" d="M63.7 470.4v-10"/>
<path class="tm" d="M89.2 470.4v-6"/>
<path class="tm" d="M114.7 470.4v-6"/>
<path class="tm" d="M140.1 470.4v-6"/>
<path class="tm" d="M165.6 470.4v-6"/>
<path class="tM" d="M191.1 470.4v-10"/>
<path class="tm" d="M216.6 470.4v-6"/>
<path class="tm" d="M242.1 470.4v-6"/>
<path class="tm" d="M267.5 470.4v-6"/>
<path class="tm" d="M293 470.4v-6"/>
<path class="tM" d="M318.5 470.4v-10"/>
<path class="tm" d="M344 470.4v-6"/>
<path class="tm" d="M369.5 470.4v-6"/>
<path class="tm" d="M394.9 470.4v-6"/>
<path class="tm" d="M420.4 470.4v-6"/>
<path class="tM" d="M445.9 470.4v-10"/>
<path class="tm" d="M471.4 470.4v-6"/>
<path class="tm" d="M496.9 470.4v-6"/>
<g clip-path="url(#cp)"><g filter="url(#soft)">
<use href="#p1"/>
<use href="#s1"/>
</g></g>
<rect class="fr" x="0" y="0" width="509.6" height="470.4"/>
<text class="tk" x="-8" y="454" text-anchor="end">40</text>
<text class="tk" x="-8" y="390.4" text-anchor="end">45</text>
<text class="tk" x="-8" y="326.8" text-anchor="end">50</text>
<text class="tk" x="-8" y="263.3" text-anchor="end">55</text>
<text class="tk" x="-8" y="199.7" text-anchor="end">60</text>
<text class="tk" x="-8" y="136.1" text-anchor="end">65</text>
<text class="tk" x="-8" y="72.6" text-anchor="end">70</text>
<text class="tk" x="-8" y="9" text-anchor="end">75</text>
<text class="tk" x="63.7" y="497" text-anchor="middle">10</text>
<text class="tk" x="191.1" y="497" text-anchor="middle">20</text>
<text class="tk" x="318.5" y="497" text-anchor="middle">30</text>
<text class="tk" x="445.9" y="497" text-anchor="middle">40</text>
<text class="ax" x="254.8" y="530.2" text-anchor="middle">Y Coordinate (µm)</text>
<text class="ax" transform="translate(-71.2 236.7) rotate(90)" text-anchor="middle">Z Coordinate (µm)</text>
<text class="cap" x="198.6" y="614.9">(a)</text>
</g>
<g transform="translate(734.2 13.9)">
<path class="tm" d="M0 470.4h6M509.6 470.4h-6"/>
<path class="tm" d="M0 457.7h6M509.6 457.7h-6"/>
<path class="tM" d="M0 445h10M509.6 445h-10"/>
<path class="tm" d="M0 432.2h6M509.6 432.2h-6"/>
<path class="tm" d="M0 419.5h6M509.6 419.5h-6"/>
<path class="tm" d="M0 406.8h6M509.6 406.8h-6"/>
<path class="tm" d="M0 394.1h6M509.6 394.1h-6"/>
<path class="tM" d="M0 381.4h10M509.6 381.4h-10"/>
<path class="tm" d="M0 368.7h6M509.6 368.7h-6"/>
<path class="tm" d="M0 356h6M509.6 356h-6"/>
<path class="tm" d="M0 343.3h6M509.6 343.3h-6"/>
<path class="tm" d="M0 330.5h6M509.6 330.5h-6"/>
<path class="tM" d="M0 317.8h10M509.6 317.8h-10"/>
<path class="tm" d="M0 305.1h6M509.6 305.1h-6"/>
<path class="tm" d="M0 292.4h6M509.6 292.4h-6"/>
<path class="tm" d="M0 279.7h6M509.6 279.7h-6"/>
<path class="tm" d="M0 267h6M509.6 267h-6"/>
<path class="tM" d="M0 254.3h10M509.6 254.3h-10"/>
<path class="tm" d="M0 241.5h6M509.6 241.5h-6"/>
<path class="tm" d="M0 228.8h6M509.6 228.8h-6"/>
<path class="tm" d="M0 216.1h6M509.6 216.1h-6"/>
<path class="tm" d="M0 203.4h6M509.6 203.4h-6"/>
<path class="tM" d="M0 190.7h10M509.6 190.7h-10"/>
<path class="tm" d="M0 178h6M509.6 178h-6"/>
<path class="tm" d="M0 165.3h6M509.6 165.3h-6"/>
<path class="tm" d="M0 152.6h6M509.6 152.6h-6"/>
<path class="tm" d="M0 139.8h6M509.6 139.8h-6"/>
<path class="tM" d="M0 127.1h10M509.6 127.1h-10"/>
<path class="tm" d="M0 114.4h6M509.6 114.4h-6"/>
<path class="tm" d="M0 101.7h6M509.6 101.7h-6"/>
<path class="tm" d="M0 89h6M509.6 89h-6"/>
<path class="tm" d="M0 76.3h6M509.6 76.3h-6"/>
<path class="tM" d="M0 63.6h10M509.6 63.6h-10"/>
<path class="tm" d="M0 50.9h6M509.6 50.9h-6"/>
<path class="tm" d="M0 38.1h6M509.6 38.1h-6"/>
<path class="tm" d="M0 25.4h6M509.6 25.4h-6"/>
<path class="tm" d="M0 12.7h6M509.6 12.7h-6"/>
<path class="tm" d="M12.7 470.4v-6"/>
<path class="tm" d="M38.2 470.4v-6"/>
<path class="tM" d="M63.7 470.4v-10"/>
<path class="tm" d="M89.2 470.4v-6"/>
<path class="tm" d="M114.7 470.4v-6"/>
<path class="tm" d="M140.1 470.4v-6"/>
<path class="tm" d="M165.6 470.4v-6"/>
<path class="tM" d="M191.1 470.4v-10"/>
<path class="tm" d="M216.6 470.4v-6"/>
<path class="tm" d="M242.1 470.4v-6"/>
<path class="tm" d="M267.5 470.4v-6"/>
<path class="tm" d="M293 470.4v-6"/>
<path class="tM" d="M318.5 470.4v-10"/>
<path class="tm" d="M344 470.4v-6"/>
<path class="tm" d="M369.5 470.4v-6"/>
<path class="tm" d="M394.9 470.4v-6"/>
<path class="tm" d="M420.4 470.4v-6"/>
<path class="tM" d="M445.9 470.4v-10"/>
<path class="tm" d="M471.4 470.4v-6"/>
<path class="tm" d="M496.9 470.4v-6"/>
<g clip-path="url(#cp)"><g filter="url(#soft)">
<use href="#p1"/>
</g></g>
<rect class="fr" x="0" y="0" width="509.6" height="470.4"/>
<text class="tk" x="-8" y="454" text-anchor="end">40</text>
<text class="tk" x="-8" y="390.4" text-anchor="end">45</text>
<text class="tk" x="-8" y="326.8" text-anchor="end">50</text>
<text class="tk" x="-8" y="263.3" text-anchor="end">55</text>
<text class="tk" x="-8" y="199.7" text-anchor="end">60</text>
<text class="tk" x="-8" y="136.1" text-anchor="end">65</text>
<text class="tk" x="-8" y="72.6" text-anchor="end">70</text>
<text class="tk" x="-8" y="9" text-anchor="end">75</text>
<text class="tk" x="63.7" y="497" text-anchor="middle">10</text>
<text class="tk" x="191.1" y="497" text-anchor="middle">20</text>
<text class="tk" x="318.5" y="497" text-anchor="middle">30</text>
<text class="tk" x="445.9" y="497" text-anchor="middle">40</text>
<text class="ax" x="254.8" y="530.2" text-anchor="middle">Y Coordinate (µm)</text>
<text class="ax" transform="translate(-71.2 236.7) rotate(90)" text-anchor="middle">Z Coordinate (µm)</text>
<text class="cap" x="192.3" y="614.9">(b)</text>
</g>
<g transform="translate(1382.8 13.9)">
<path class="tm" d="M0 470.4h6M509.6 470.4h-6"/>
<path class="tm" d="M0 457.7h6M509.6 457.7h-6"/>
<path class="tM" d="M0 445h10M509.6 445h-10"/>
<path class="tm" d="M0 432.2h6M509.6 432.2h-6"/>
<path class="tm" d="M0 419.5h6M509.6 419.5h-6"/>
<path class="tm" d="M0 406.8h6M509.6 406.8h-6"/>
<path class="tm" d="M0 394.1h6M509.6 394.1h-6"/>
<path class="tM" d="M0 381.4h10M509.6 381.4h-10"/>
<path class="tm" d="M0 368.7h6M509.6 368.7h-6"/>
<path class="tm" d="M0 356h6M509.6 356h-6"/>
<path class="tm" d="M0 343.3h6M509.6 343.3h-6"/>
<path class="tm" d="M0 330.5h6M509.6 330.5h-6"/>
<path class="tM" d="M0 317.8h10M509.6 317.8h-10"/>
<path class="tm" d="M0 305.1h6M509.6 305.1h-6"/>
<path class="tm" d="M0 292.4h6M509.6 292.4h-6"/>
<path class="tm" d="M0 279.7h6M509.6 279.7h-6"/>
<path class="tm" d="M0 267h6M509.6 267h-6"/>
<path class="tM" d="M0 254.3h10M509.6 254.3h-10"/>
<path class="tm" d="M0 241.5h6M509.6 241.5h-6"/>
<path class="tm" d="M0 228.8h6M509.6 228.8h-6"/>
<path class="tm" d="M0 216.1h6M509.6 216.1h-6"/>
<path class="tm" d="M0 203.4h6M509.6 203.4h-6"/>
<path class="tM" d="M0 190.7h10M509.6 190.7h-10"/>
<path class="tm" d="M0 178h6M509.6 178h-6"/>
<path class="tm" d="M0 165.3h6M509.6 165.3h-6"/>
<path class="tm" d="M0 152.6h6M509.6 152.6h-6"/>
<path class="tm" d="M0 139.8h6M509.6 139.8h-6"/>
<path class="tM" d="M0 127.1h10M509.6 127.1h-10"/>
<path class="tm" d="M0 114.4h6M509.6 114.4h-6"/>
<path class="tm" d="M0 101.7h6M509.6 101.7h-6"/>
<path class="tm" d="M0 89h6M509.6 89h-6"/>
<path class="tm" d="M0 76.3h6M509.6 76.3h-6"/>
<path class="tM" d="M0 63.6h10M509.6 63.6h-10"/>
<path class="tm" d="M0 50.9h6M509.6 50.9h-6"/>
<path class="tm" d="M0 38.1h6M509.6 38.1h-6"/>
<path class="tm" d="M0 25.4h6M509.6 25.4h-6"/>
<path class="tm" d="M0 12.7h6M509.6 12.7h-6"/>
<path class="tm" d="M12.7 470.4v-6"/>
<path class="tm" d="M38.2 470.4v-6"/>
<path class="tM" d="M63.7 470.4v-10"/>
<path class="tm" d="M89.2 470.4v-6"/>
<path class="tm" d="M114.7 470.4v-6"/>
<path class="tm" d="M140.1 470.4v-6"/>
<path class="tm" d="M165.6 470.4v-6"/>
<path class="tM" d="M191.1 470.4v-10"/>
<path class="tm" d="M216.6 470.4v-6"/>
<path class="tm" d="M242.1 470.4v-6"/>
<path class="tm" d="M267.5 470.4v-6"/>
<path class="tm" d="M293 470.4v-6"/>
<path class="tM" d="M318.5 470.4v-10"/>
<path class="tm" d="M344 470.4v-6"/>
<path class="tm" d="M369.5 470.4v-6"/>
<path class="tm" d="M394.9 470.4v-6"/>
<path class="tm" d="M420.4 470.4v-6"/>
<path class="tM" d="M445.9 470.4v-10"/>
<path class="tm" d="M471.4 470.4v-6"/>
<path class="tm" d="M496.9 470.4v-6"/>
<g clip-path="url(#cp)"><g filter="url(#soft)">
<use href="#s1"/>
</g></g>
<rect class="fr" x="0" y="0" width="509.6" height="470.4"/>
<text class="tk" x="-8" y="454" text-anchor="end">40</text>
<text class="tk" x="-8" y="390.4" text-anchor="end">45</text>
<text class="tk" x="-8" y="326.8" text-anchor="end">50</text>
<text class="tk" x="-8" y="263.3" text-anchor="end">55</text>
<text class="tk" x="-8" y="199.7" text-anchor="end">60</text>
<text class="tk" x="-8" y="136.1" text-anchor="end">65</text>
<text class="tk" x="-8" y="72.6" text-anchor="end">70</text>
<text class="tk" x="-8" y="9" text-anchor="end">75</text>
<text class="tk" x="63.7" y="497" text-anchor="middle">10</text>
<text class="tk" x="191.1" y="497" text-anchor="middle">20</text>
<text class="tk" x="318.5" y="497" text-anchor="middle">30</text>
<text class="tk" x="445.9" y="497" text-anchor="middle">40</text>
<text class="ax" x="254.8" y="530.2" text-anchor="middle">Y Coordinate (µm)</text>
<text class="ax" transform="translate(-71.2 236.7) rotate(90)" text-anchor="middle">Z Coordinate (µm)</text>
<text class="cap" x="194.1" y="614.9">(c)</text>
</g>
<g transform="translate(84.0 716.9)">
<path class="tm" d="M0 470.4h6M509.6 470.4h-6"/>
<path class="tm" d="M0 457.7h6M509.6 457.7h-6"/>
<path class="tM" d="M0 445h10M509.6 445h-10"/>
<path class="tm" d="M0 432.2h6M509.6 432.2h-6"/>
<path class="tm" d="M0 419.5h6M509.6 419.5h-6"/>
<path class="tm" d="M0 406.8h6M509.6 406.8h-6"/>
<path class="tm" d="M0 394.1h6M509.6 394.1h-6"/>
<path class="tM" d="M0 381.4h10M509.6 381.4h-10"/>
<path class="tm" d="M0 368.7h6M509.6 368.7h-6"/>
<path class="tm" d="M0 356h6M509.6 356h-6"/>
<path class="tm" d="M0 343.3h6M509.6 343.3h-6"/>
<path class="tm" d="M0 330.5h6M509.6 330.5h-6"/>
<path class="tM" d="M0 317.8h10M509.6 317.8h-10"/>
<path class="tm" d="M0 305.1h6M509.6 305.1h-6"/>
<path class="tm" d="M0 292.4h6M509.6 292.4h-6"/>
<path class="tm" d="M0 279.7h6M509.6 279.7h-6"/>
<path class="tm" d="M0 267h6M509.6 267h-6"/>
<path class="tM" d="M0 254.3h10M509.6 254.3h-10"/>
<path class="tm" d="M0 241.5h6M509.6 241.5h-6"/>
<path class="tm" d="M0 228.8h6M509.6 228.8h-6"/>
<path class="tm" d="M0 216.1h6M509.6 216.1h-6"/>
<path class="tm" d="M0 203.4h6M509.6 203.4h-6"/>
<path class="tM" d="M0 190.7h10M509.6 190.7h-10"/>
<path class="tm" d="M0 178h6M509.6 178h-6"/>
<path class="tm" d="M0 165.3h6M509.6 165.3h-6"/>
<path class="tm" d="M0 152.6h6M509.6 152.6h-6"/>
<path class="tm" d="M0 139.8h6M509.6 139.8h-6"/>
<path class="tM" d="M0 127.1h10M509.6 127.1h-10"/>
<path class="tm" d="M0 114.4h6M509.6 114.4h-6"/>
<path class="tm" d="M0 101.7h6M509.6 101.7h-6"/>
<path class="tm" d="M0 89h6M509.6 89h-6"/>
<path class="tm" d="M0 76.3h6M509.6 76.3h-6"/>
<path class="tM" d="M0 63.6h10M509.6 63.6h-10"/>
<path class="tm" d="M0 50.9h6M509.6 50.9h-6"/>
<path class="tm" d="M0 38.1h6M509.6 38.1h-6"/>
<path class="tm" d="M0 25.4h6M509.6 25.4h-6"/>
<path class="tm" d="M0 12.7h6M509.6 12.7h-6"/>
<path class="tm" d="M12.7 470.4v-6"/>
<path class="tm" d="M38.2 470.4v-6"/>
<path class="tM" d="M63.7 470.4v-10"/>
<path class="tm" d="M89.2 470.4v-6"/>
<path class="tm" d="M114.7 470.4v-6"/>
<path class="tm" d="M140.1 470.4v-6"/>
<path class="tm" d="M165.6 470.4v-6"/>
<path class="tM" d="M191.1 470.4v-10"/>
<path class="tm" d="M216.6 470.4v-6"/>
<path class="tm" d="M242.1 470.4v-6"/>
<path class="tm" d="M267.5 470.4v-6"/>
<path class="tm" d="M293 470.4v-6"/>
<path class="tM" d="M318.5 470.4v-10"/>
<path class="tm" d="M344 470.4v-6"/>
<path class="tm" d="M369.5 470.4v-6"/>
<path class="tm" d="M394.9 470.4v-6"/>
<path class="tm" d="M420.4 470.4v-6"/>
<path class="tM" d="M445.9 470.4v-10"/>
<path class="tm" d="M471.4 470.4v-6"/>
<path class="tm" d="M496.9 470.4v-6"/>
<g clip-path="url(#cp)"><g filter="url(#soft)">
<use href="#p2"/>
<use href="#s2"/>
</g></g>
<rect class="fr" x="0" y="0" width="509.6" height="470.4"/>
<text class="tk" x="-8" y="454" text-anchor="end">40</text>
<text class="tk" x="-8" y="390.4" text-anchor="end">45</text>
<text class="tk" x="-8" y="326.8" text-anchor="end">50</text>
<text class="tk" x="-8" y="263.3" text-anchor="end">55</text>
<text class="tk" x="-8" y="199.7" text-anchor="end">60</text>
<text class="tk" x="-8" y="136.1" text-anchor="end">65</text>
<text class="tk" x="-8" y="72.6" text-anchor="end">70</text>
<text class="tk" x="-8" y="9" text-anchor="end">75</text>
<text class="tk" x="63.7" y="497" text-anchor="middle">10</text>
<text class="tk" x="191.1" y="497" text-anchor="middle">20</text>
<text class="tk" x="318.5" y="497" text-anchor="middle">30</text>
<text class="tk" x="445.9" y="497" text-anchor="middle">40</text>
<text class="ax" x="254.8" y="530.2" text-anchor="middle">Y Coordinate (µm)</text>
<text class="ax" transform="translate(-71.2 236.7) rotate(90)" text-anchor="middle">Z Coordinate (µm)</text>
<text class="cap" x="198.6" y="607.9">(d)</text>
</g>
<g transform="translate(734.2 716.9)">
<path class="tm" d="M0 470.4h6M509.6 470.4h-6"/>
<path class="tm" d="M0 457.7h6M509.6 457.7h-6"/>
<path class="tM" d="M0 445h10M509.6 445h-10"/>
<path class="tm" d="M0 432.2h6M509.6 432.2h-6"/>
<path class="tm" d="M0 419.5h6M509.6 419.5h-6"/>
<path class="tm" d="M0 406.8h6M509.6 406.8h-6"/>
<path class="tm" d="M0 394.1h6M509.6 394.1h-6"/>
<path class="tM" d="M0 381.4h10M509.6 381.4h-10"/>
<path class="tm" d="M0 368.7h6M509.6 368.7h-6"/>
<path class="tm" d="M0 356h6M509.6 356h-6"/>
<path class="tm" d="M0 343.3h6M509.6 343.3h-6"/>
<path class="tm" d="M0 330.5h6M509.6 330.5h-6"/>
<path class="tM" d="M0 317.8h10M509.6 317.8h-10"/>
<path class="tm" d="M0 305.1h6M509.6 305.1h-6"/>
<path class="tm" d="M0 292.4h6M509.6 292.4h-6"/>
<path class="tm" d="M0 279.7h6M509.6 279.7h-6"/>
<path class="tm" d="M0 267h6M509.6 267h-6"/>
<path class="tM" d="M0 254.3h10M509.6 254.3h-10"/>
<path class="tm" d="M0 241.5h6M509.6 241.5h-6"/>
<path class="tm" d="M0 228.8h6M509.6 228.8h-6"/>
<path class="tm" d="M0 216.1h6M509.6 216.1h-6"/>
<path class="tm" d="M0 203.4h6M509.6 203.4h-6"/>
<path class="tM" d="M0 190.7h10M509.6 190.7h-10"/>
<path class="tm" d="M0 178h6M509.6 178h-6"/>
<path class="tm" d="M0 165.3h6M509.6 165.3h-6"/>
<path class="tm" d="M0 152.6h6M509.6 152.6h-6"/>
<path class="tm" d="M0 139.8h6M509.6 139.8h-6"/>
<path class="tM" d="M0 127.1h10M509.6 127.1h-10"/>
<path class="tm" d="M0 114.4h6M509.6 114.4h-6"/>
<path class="tm" d="M0 101.7h6M509.6 101.7h-6"/>
<path class="tm" d="M0 89h6M509.6 89h-6"/>
<path class="tm" d="M0 76.3h6M509.6 76.3h-6"/>
<path class="tM" d="M0 63.6h10M509.6 63.6h-10"/>
<path class="tm" d="M0 50.9h6M509.6 50.9h-6"/>
<path class="tm" d="M0 38.1h6M509.6 38.1h-6"/>
<path class="tm" d="M0 25.4h6M509.6 25.4h-6"/>
<path class="tm" d="M0 12.7h6M509.6 12.7h-6"/>
<path class="tm" d="M12.7 470.4v-6"/>
<path class="tm" d="M38.2 470.4v-6"/>
<path class="tM" d="M63.7 470.4v-10"/>
<path class="tm" d="M89.2 470.4v-6"/>
<path class="tm" d="M114.7 470.4v-6"/>
<path class="tm" d="M140.1 470.4v-6"/>
<path class="tm" d="M165.6 470.4v-6"/>
<path class="tM" d="M191.1 470.4v-10"/>
<path class="tm" d="M216.6 470.4v-6"/>
<path class="tm" d="M242.1 470.4v-6"/>
<path class="tm" d="M267.5 470.4v-6"/>
<path class="tm" d="M293 470.4v-6"/>
<path class="tM" d="M318.5 470.4v-10"/>
<path class="tm" d="M344 470.4v-6"/>
<path class="tm" d="M369.5 470.4v-6"/>
<path class="tm" d="M394.9 470.4v-6"/>
<path class="tm" d="M420.4 470.4v-6"/>
<path class="tM" d="M445.9 470.4v-10"/>
<path class="tm" d="M471.4 470.4v-6"/>
<path class="tm" d="M496.9 470.4v-6"/>
<g clip-path="url(#cp)"><g filter="url(#soft)">
<use href="#p2"/>
</g></g>
<rect class="fr" x="0" y="0" width="509.6" height="470.4"/>
<text class="tk" x="-8" y="454" text-anchor="end">40</text>
<text class="tk" x="-8" y="390.4" text-anchor="end">45</text>
<text class="tk" x="-8" y="326.8" text-anchor="end">50</text>
<text class="tk" x="-8" y="263.3" text-anchor="end">55</text>
<text class="tk" x="-8" y="199.7" text-anchor="end">60</text>
<text class="tk" x="-8" y="136.1" text-anchor="end">65</text>
<text class="tk" x="-8" y="72.6" text-anchor="end">70</text>
<text class="tk" x="-8" y="9" text-anchor="end">75</text>
<text class="tk" x="63.7" y="497" text-anchor="middle">10</text>
<text class="tk" x="191.1" y="497" text-anchor="middle">20</text>
<text class="tk" x="318.5" y="497" text-anchor="middle">30</text>
<text class="tk" x="445.9" y="497" text-anchor="middle">40</text>
<text class="ax" x="254.8" y="530.2" text-anchor="middle">Y Coordinate (µm)</text>
<text class="ax" transform="translate(-71.2 236.7) rotate(90)" text-anchor="middle">Z Coordinate (µm)</text>
<text class="cap" x="192.3" y="607.9">(e)</text>
</g>
<g transform="translate(1382.8 716.9)">
<path class="tm" d="M0 470.4h6M509.6 470.4h-6"/>
<path class="tm" d="M0 457.7h6M509.6 457.7h-6"/>
<path class="tM" d="M0 445h10M509.6 445h-10"/>
<path class="tm" d="M0 432.2h6M509.6 432.2h-6"/>
<path class="tm" d="M0 419.5h6M509.6 419.5h-6"/>
<path class="tm" d="M0 406.8h6M509.6 406.8h-6"/>
<path class="tm" d="M0 394.1h6M509.6 394.1h-6"/>
<path class="tM" d="M0 381.4h10M509.6 381.4h-10"/>
<path class="tm" d="M0 368.7h6M509.6 368.7h-6"/>
<path class="tm" d="M0 356h6M509.6 356h-6"/>
<path class="tm" d="M0 343.3h6M509.6 343.3h-6"/>
<path class="tm" d="M0 330.5h6M509.6 330.5h-6"/>
<path class="tM" d="M0 317.8h10M509.6 317.8h-10"/>
<path class="tm" d="M0 305.1h6M509.6 305.1h-6"/>
<path class="tm" d="M0 292.4h6M509.6 292.4h-6"/>
<path class="tm" d="M0 279.7h6M509.6 279.7h-6"/>
<path class="tm" d="M0 267h6M509.6 267h-6"/>
<path class="tM" d="M0 254.3h10M509.6 254.3h-10"/>
<path class="tm" d="M0 241.5h6M509.6 241.5h-6"/>
<path class="tm" d="M0 228.8h6M509.6 228.8h-6"/>
<path class="tm" d="M0 216.1h6M509.6 216.1h-6"/>
<path class="tm" d="M0 203.4h6M509.6 203.4h-6"/>
<path class="tM" d="M0 190.7h10M509.6 190.7h-10"/>
<path class="tm" d="M0 178h6M509.6 178h-6"/>
<path class="tm" d="M0 165.3h6M509.6 165.3h-6"/>
<path class="tm" d="M0 152.6h6M509.6 152.6h-6"/>
<path class="tm" d="M0 139.8h6M509.6 139.8h-6"/>
<path class="tM" d="M0 127.1h10M509.6 127.1h-10"/>
<path class="tm" d="M0 114.4h6M509.6 114.4h-6"/>
<path class="tm" d="M0 101.7h6M509.6 101.7h-6"/>
<path class="tm" d="M0 89h6M509.6 89h-6"/>
<path class="tm" d="M0 76.3h6M509.6 76.3h-6"/>
<path class="tM" d="M0 63.6h10M509.6 63.6h-10"/>
<path class="tm" d="M0 50.9h6M509.6 50.9h-6"/>
<path class="tm" d="M0 38.1h6M509.6 38.1h-6"/>
<path class="tm" d="M0 25.4h6M509.6 25.4h-6"/>
<path class="tm" d="M0 12.7h6M509.6 12.7h-6"/>
<path class="tm" d="M12.7 470.4v-6"/>
<path class="tm" d="M38.2 470.4v-6"/>
<path class="tM" d="M63.7 470.4v-10"/>
<path class="tm" d="M89.2 470.4v-6"/>
<path class="tm" d="M114.7 470.4v-6"/>
<path class="tm" d="M140.1 470.4v-6"/>
<path class="tm" d="M165.6 470.4v-6"/>
<path class="tM" d="M191.1 470.4v-10"/>
<path class="tm" d="M216.6 470.4v-6"/>
<path class="tm" d="M242.1 470.4v-6"/>
<path class="tm" d="M267.5 470.4v-6"/>
<path class="tm" d="M293 470.4v-6"/>
<path class="tM" d="M318.5 470.4v-10"/>
<path class="tm" d="M344 470.4v-6"/>
<path class="tm" d="M369.5 470.4v-6"/>
<path class="tm" d="M394.9 470.4v-6"/>
<path class="tm" d="M420.4 470.4v-6"/>
<path class="tM" d="M445.9 470.4v-10"/>
<path class="tm" d="M471.4 470.4v-6"/>
<path class="tm" d="M496.9 470.4v-6"/>
<g clip-path="url(#cp)"><g filter="url(#soft)">
<use href="#s2"/>
</g></g>
<rect class="fr" x="0" y="0" width="509.6" height="470.4"/>
<text class="tk" x="-8" y="454" text-anchor="end">40</text>
<text class="tk" x="-8" y="390.4" text-anchor="end">45</text>
<text class="tk" x="-8" y="326.8" text-anchor="end">50</text>
<text class="tk" x="-8" y="263.3" text-anchor="end">55</text>
<text class="tk" x="-8" y="199.7" text-anchor="end">60</text>
<text class="tk" x="-8" y="136.1" text-anchor="end">65</text>
<text class="tk" x="-8" y="72.6" text-anchor="end">70</text>
<text class="tk" x="-8" y="9" text-anchor="end">75</text>
<text class="tk" x="63.7" y="497" text-anchor="middle">10</text>
<text class="tk" x="191.1" y="497" text-anchor="middle">20</text>
<text class="tk" x="318.5" y="497" text-anchor="middle">30</text>
<text class="tk" x="445.9" y="497" text-anchor="middle">40</text>
<text class="ax" x="254.8" y="530.2" text-anchor="middle">Y Coordinate (µm)</text>
<text class="ax" transform="translate(-71.2 236.7) rotate(90)" text-anchor="middle">Z Coordinate (µm)</text>
<text class="cap" x="194.1" y="607.9">(f)</text>
</g>
<g transform="translate(84.0 1418.5)">
<path class="tm" d="M0 470.4h6M509.6 470.4h-6"/>
<path class="tm" d="M0 457.7h6M509.6 457.7h-6"/>
<path class="tM" d="M0 445h10M509.6 445h-10"/>
<path class="tm" d="M0 432.2h6M509.6 432.2h-6"/>
<path class="tm" d="M0 419.5h6M509.6 419.5h-6"/>
<path class="tm" d="M0 406.8h6M509.6 406.8h-6"/>
<path class="tm" d="M0 394.1h6M509.6 394.1h-6"/>
<path class="tM" d="M0 381.4h10M509.6 381.4h-10"/>
<path class="tm" d="M0 368.7h6M509.6 368.7h-6"/>
<path class="tm" d="M0 356h6M509.6 356h-6"/>
<path class="tm" d="M0 343.3h6M509.6 343.3h-6"/>
<path class="tm" d="M0 330.5h6M509.6 330.5h-6"/>
<path class="tM" d="M0 317.8h10M509.6 317.8h-10"/>
<path class="tm" d="M0 305.1h6M509.6 305.1h-6"/>
<path class="tm" d="M0 292.4h6M509.6 292.4h-6"/>
<path class="tm" d="M0 279.7h6M509.6 279.7h-6"/>
<path class="tm" d="M0 267h6M509.6 267h-6"/>
<path class="tM" d="M0 254.3h10M509.6 254.3h-10"/>
<path class="tm" d="M0 241.5h6M509.6 241.5h-6"/>
<path class="tm" d="M0 228.8h6M509.6 228.8h-6"/>
<path class="tm" d="M0 216.1h6M509.6 216.1h-6"/>
<path class="tm" d="M0 203.4h6M509.6 203.4h-6"/>
<path class="tM" d="M0 190.7h10M509.6 190.7h-10"/>
<path class="tm" d="M0 178h6M509.6 178h-6"/>
<path class="tm" d="M0 165.3h6M509.6 165.3h-6"/>
<path class="tm" d="M0 152.6h6M509.6 152.6h-6"/>
<path class="tm" d="M0 139.8h6M509.6 139.8h-6"/>
<path class="tM" d="M0 127.1h10M509.6 127.1h-10"/>
<path class="tm" d="M0 114.4h6M509.6 114.4h-6"/>
<path class="tm" d="M0 101.7h6M509.6 101.7h-6"/>
<path class="tm" d="M0 89h6M509.6 89h-6"/>
<path class="tm" d="M0 76.3h6M509.6 76.3h-6"/>
<path class="tM" d="M0 63.6h10M509.6 63.6h-10"/>
<path class="tm" d="M0 50.9h6M509.6 50.9h-6"/>
<path class="tm" d="M0 38.1h6M509.6 38.1h-6"/>
<path class="tm" d="M0 25.4h6M509.6 25.4h-6"/>
<path class="tm" d="M0 12.7h6M509.6 12.7h-6"/>
<path class="tm" d="M12.7 470.4v-6"/>
<path class="tm" d="M38.2 470.4v-6"/>
<path class="tM" d="M63.7 470.4v-10"/>
<path class="tm" d="M89.2 470.4v-6"/>
<path class="tm" d="M114.7 470.4v-6"/>
<path class="tm" d="M140.1 470.4v-6"/>
<path class="tm" d="M165.6 470.4v-6"/>
<path class="tM" d="M191.1 470.4v-10"/>
<path class="tm" d="M216.6 470.4v-6"/>
<path class="tm" d="M242.1 470.4v-6"/>
<path class="tm" d="M267.5 470.4v-6"/>
<path class="tm" d="M293 470.4v-6"/>
<path class="tM" d="M318.5 470.4v-10"/>
<path class="tm" d="M344 470.4v-6"/>
<path class="tm" d="M369.5 470.4v-6"/>
<path class="tm" d="M394.9 470.4v-6"/>
<path class="tm" d="M420.4 470.4v-6"/>
<path class="tM" d="M445.9 470.4v-10"/>
<path class="tm" d="M471.4 470.4v-6"/>
<path class="tm" d="M496.9 470.4v-6"/>
<g clip-path="url(#cp)"><g filter="url(#soft)">
<use href="#p3"/>
<use href="#s3"/>
</g></g>
<rect class="fr" x="0" y="0" width="509.6" height="470.4"/>
<text class="tk" x="-8" y="454" text-anchor="end">40</text>
<text class="tk" x="-8" y="390.4" text-anchor="end">45</text>
<text class="tk" x="-8" y="326.8" text-anchor="end">50</text>
<text class="tk" x="-8" y="263.3" text-anchor="end">55</text>
<text class="tk" x="-8" y="199.7" text-anchor="end">60</text>
<text class="tk" x="-8" y="136.1" text-anchor="end">65</text>
<text class="tk" x="-8" y="72.6" text-anchor="end">70</text>
<text class="tk" x="-8" y="9" text-anchor="end">75</text>
<text class="tk" x="63.7" y="497" text-anchor="middle">10</text>
<text class="tk" x="191.1" y="497" text-anchor="middle">20</text>
<text class="tk" x="318.5" y="497" text-anchor="middle">30</text>
<text class="tk" x="445.9" y="497" text-anchor="middle">40</text>
<text class="ax" x="254.8" y="530.2" text-anchor="middle">Y Coordinate (µm)</text>
<text class="ax" transform="translate(-71.2 236.7) rotate(90)" text-anchor="middle">Z Coordinate (µm)</text>
<text class="cap" x="198.6" y="613.3">(g)</text>
</g>
<g transform="translate(734.2 1418.5)">
<path class="tm" d="M0 470.4h6M509.6 470.4h-6"/>
<path class="tm" d="M0 457.7h6M509.6 457.7h-6"/>
<path class="tM" d="M0 445h10M509.6 445h-10"/>
<path class="tm" d="M0 432.2h6M509.6 432.2h-6"/>
<path class="tm" d="M0 419.5h6M509.6 419.5h-6"/>
<path class="tm" d="M0 406.8h6M509.6 406.8h-6"/>
<path class="tm" d="M0 394.1h6M509.6 394.1h-6"/>
<path class="tM" d="M0 381.4h10M509.6 381.4h-10"/>
<path class="tm" d="M0 368.7h6M509.6 368.7h-6"/>
<path class="tm" d="M0 356h6M509.6 356h-6"/>
<path class="tm" d="M0 343.3h6M509.6 343.3h-6"/>
<path class="tm" d="M0 330.5h6M509.6 330.5h-6"/>
<path class="tM" d="M0 317.8h10M509.6 317.8h-10"/>
<path class="tm" d="M0 305.1h6M509.6 305.1h-6"/>
<path class="tm" d="M0 292.4h6M509.6 292.4h-6"/>
<path class="tm" d="M0 279.7h6M509.6 279.7h-6"/>
<path class="tm" d="M0 267h6M509.6 267h-6"/>
<path class="tM" d="M0 254.3h10M509.6 254.3h-10"/>
<path class="tm" d="M0 241.5h6M509.6 241.5h-6"/>
<path class="tm" d="M0 228.8h6M509.6 228.8h-6"/>
<path class="tm" d="M0 216.1h6M509.6 216.1h-6"/>
<path class="tm" d="M0 203.4h6M509.6 203.4h-6"/>
<path class="tM" d="M0 190.7h10M509.6 190.7h-10"/>
<path class="tm" d="M0 178h6M509.6 178h-6"/>
<path class="tm" d="M0 165.3h6M509.6 165.3h-6"/>
<path class="tm" d="M0 152.6h6M509.6 152.6h-6"/>
<path class="tm" d="M0 139.8h6M509.6 139.8h-6"/>
<path class="tM" d="M0 127.1h10M509.6 127.1h-10"/>
<path class="tm" d="M0 114.4h6M509.6 114.4h-6"/>
<path class="tm" d="M0 101.7h6M509.6 101.7h-6"/>
<path class="tm" d="M0 89h6M509.6 89h-6"/>
<path class="tm" d="M0 76.3h6M509.6 76.3h-6"/>
<path class="tM" d="M0 63.6h10M509.6 63.6h-10"/>
<path class="tm" d="M0 50.9h6M509.6 50.9h-6"/>
<path class="tm" d="M0 38.1h6M509.6 38.1h-6"/>
<path class="tm" d="M0 25.4h6M509.6 25.4h-6"/>
<path class="tm" d="M0 12.7h6M509.6 12.7h-6"/>
<path class="tm" d="M12.7 470.4v-6"/>
<path class="tm" d="M38.2 470.4v-6"/>
<path class="tM" d="M63.7 470.4v-10"/>
<path class="tm" d="M89.2 470.4v-6"/>
<path class="tm" d="M114.7 470.4v-6"/>
<path class="tm" d="M140.1 470.4v-6"/>
<path class="tm" d="M165.6 470.4v-6"/>
<path class="tM" d="M191.1 470.4v-10"/>
<path class="tm" d="M216.6 470.4v-6"/>
<path class="tm" d="M242.1 470.4v-6"/>
<path class="tm" d="M267.5 470.4v-6"/>
<path class="tm" d="M293 470.4v-6"/>
<path class="tM" d="M318.5 470.4v-10"/>
<path class="tm" d="M344 470.4v-6"/>
<path class="tm" d="M369.5 470.4v-6"/>
<path class="tm" d="M394.9 470.4v-6"/>
<path class="tm" d="M420.4 470.4v-6"/>
<path class="tM" d="M445.9 470.4v-10"/>
<path class="tm" d="M471.4 470.4v-6"/>
<path class="tm" d="M496.9 470.4v-6"/>
<g clip-path="url(#cp)"><g filter="url(#soft)">
<use href="#p3"/>
</g></g>
<rect class="fr" x="0" y="0" width="509.6" height="470.4"/>
<text class="tk" x="-8" y="454" text-anchor="end">40</text>
<text class="tk" x="-8" y="390.4" text-anchor="end">45</text>
<text class="tk" x="-8" y="326.8" text-anchor="end">50</text>
<text class="tk" x="-8" y="263.3" text-anchor="end">55</text>
<text class="tk" x="-8" y="199.7" text-anchor="end">60</text>
<text class="tk" x="-8" y="136.1" text-anchor="end">65</text>
<text class="tk" x="-8" y="72.6" text-anchor="end">70</text>
<text class="tk" x="-8" y="9" text-anchor="end">75</text>
<text class="tk" x="63.7" y="497" text-anchor="middle">10</text>
<text class="tk" x="191.1" y="497" text-anchor="middle">20</text>
<text class="tk" x="318.5" y="497" text-anchor="middle">30</text>
<text class="tk" x="445.9" y="497" text-anchor="middle">40</text>
<text class="ax" x="254.8" y="530.2" text-anchor="middle">Y Coordinate (µm)</text>
<text class="ax" transform="translate(-71.2 236.7) rotate(90)" text-anchor="middle">Z Coordinate (µm)</text>
<text class="cap" x="192.3" y="613.3">(h)</text>
</g>
<g transform="translate(1382.8 1418.5)">
<path class="tm" d="M0 470.4h6M509.6 470.4h-6"/>
<path class="tm" d="M0 457.7h6M509.6 457.7h-6"/>
<path class="tM" d="M0 445h10M509.6 445h-10"/>
<path class="tm" d="M0 432.2h6M509.6 432.2h-6"/>
<path class="tm" d="M0 419.5h6M509.6 419.5h-6"/>
<path class="tm" d="M0 406.8h6M509.6 406.8h-6"/>
<path class="tm" d="M0 394.1h6M509.6 394.1h-6"/>
<path class="tM" d="M0 381.4h10M509.6 381.4h-10"/>
<path class="tm" d="M0 368.7h6M509.6 368.7h-6"/>
<path class="tm" d="M0 356h6M509.6 356h-6"/>
<path class="tm" d="M0 343.3h6M509.6 343.3h-6"/>
<path class="tm" d="M0 330.5h6M509.6 330.5h-6"/>
<path class="tM" d="M0 317.8h10M509.6 317.8h-10"/>
<path class="tm" d="M0 305.1h6M509.6 305.1h-6"/>
<path class="tm" d="M0 292.4h6M509.6 292.4h-6"/>
<path class="tm" d="M0 279.7h6M509.6 279.7h-6"/>
<path class="tm" d="M0 267h6M509.6 267h-6"/>
<path class="tM" d="M0 254.3h10M509.6 254.3h-10"/>
<path class="tm" d="M0 241.5h6M509.6 241.5h-6"/>
<path class="tm" d="M0 228.8h6M509.6 228.8h-6"/>
<path class="tm" d="M0 216.1h6M509.6 216.1h-6"/>
<path class="tm" d="M0 203.4h6M509.6 203.4h-6"/>
<path class="tM" d="M0 190.7h10M509.6 190.7h-10"/>
<path class="tm" d="M0 178h6M509.6 178h-6"/>
<path class="tm" d="M0 165.3h6M509.6 165.3h-6"/>
<path class="tm" d="M0 152.6h6M509.6 152.6h-6"/>
<path class="tm" d="M0 139.8h6M509.6 139.8h-6"/>
<path class="tM" d="M0 127.1h10M509.6 127.1h-10"/>
<path class="tm" d="M0 114.4h6M509.6 114.4h-6"/>
<path class="tm" d="M0 101.7h6M509.6 101.7h-6"/>
<path class="tm" d="M0 89h6M509.6 89h-6"/>
<path class="tm" d="M0 76.3h6M509.6 76.3h-6"/>
<path class="tM" d="M0 63.6h10M509.6 63.6h-10"/>
<path class="tm" d="M0 50.9h6M509.6 50.9h-6"/>
<path class="tm" d="M0 38.1h6M509.6 38.1h-6"/>
<path class="tm" d="M0 25.4h6M509.6 25.4h-6"/>
<path class="tm" d="M0 12.7h6M509.6 12.7h-6"/>
<path class="tm" d="M12.7 470.4v-6"/>
<path class="tm" d="M38.2 470.4v-6"/>
<path class="tM" d="M63.7 470.4v-10"/>
<path class="tm" d="M89.2 470.4v-6"/>
<path class="tm" d="M114.7 470.4v-6"/>
<path class="tm" d="M140.1 470.4v-6"/>
<path class="tm" d="M165.6 470.4v-6"/>
<path class="tM" d="M191.1 470.4v-10"/>
<path class="tm" d="M216.6 470.4v-6"/>
<path class="tm" d="M242.1 470.4v-6"/>
<path class="tm" d="M267.5 470.4v-6"/>
<path class="tm" d="M293 470.4v-6"/>
<path class="tM" d="M318.5 470.4v-10"/>
<path class="tm" d="M344 470.4v-6"/>
<path class="tm" d="M369.5 470.4v-6"/>
<path class="tm" d="M394.9 470.4v-6"/>
<path class="tm" d="M420.4 470.4v-6"/>
<path class="tM" d="M445.9 470.4v-10"/>
<path class="tm" d="M471.4 470.4v-6"/>
<path class="tm" d="M496.9 470.4v-6"/>
<g clip-path="url(#cp)"><g filter="url(#soft)">
<use href="#s3"/>
</g></g>
<rect class="fr" x="0" y="0" width="509.6" height="470.4"/>
<text class="tk" x="-8" y="454" text-anchor="end">40</text>
<text class="tk" x="-8" y="390.4" text-anchor="end">45</text>
<text class="tk" x="-8" y="326.8" text-anchor="end">50</text>
<text class="tk" x="-8" y="263.3" text-anchor="end">55</text>
<text class="tk" x="-8" y="199.7" text-anchor="end">60</text>
<text class="tk" x="-8" y="136.1" text-anchor="end">65</text>
<text class="tk" x="-8" y="72.6" text-anchor="end">70</text>
<text class="tk" x="-8" y="9" text-anchor="end">75</text>
<text class="tk" x="63.7" y="497" text-anchor="middle">10</text>
<text class="tk" x="191.1" y="497" text-anchor="middle">20</text>
<text class="tk" x="318.5" y="497" text-anchor="middle">30</text>
<text class="tk" x="445.9" y="497" text-anchor="middle">40</text>
<text class="ax" x="254.8" y="530.2" text-anchor="middle">Y Coordinate (µm)</text>
<text class="ax" transform="translate(-71.2 236.7) rotate(90)" text-anchor="middle">Z Coordinate (µm)</text>
<text class="cap" x="194.1" y="613.3">(i)</text>
</g>
</svg>
</body></html>
